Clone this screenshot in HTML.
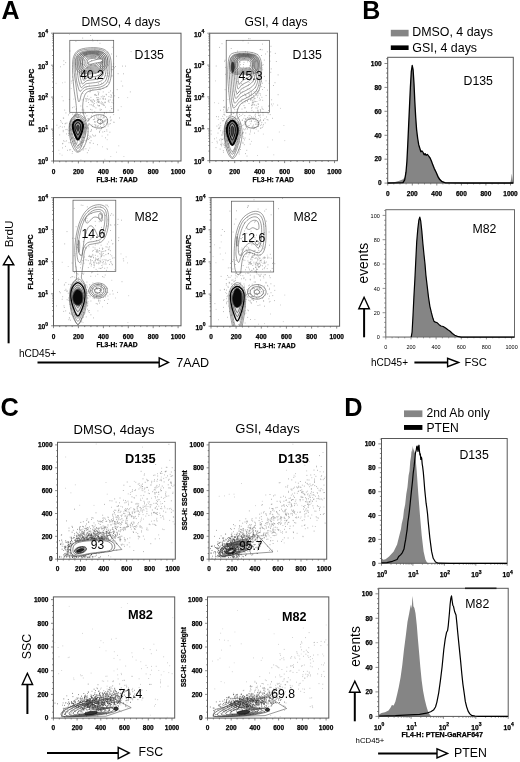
<!DOCTYPE html>
<html><head><meta charset="utf-8"><title>Figure</title>
<style>
html,body{margin:0;padding:0;background:#fff;}
body{width:520px;height:762px;overflow:hidden;font-family:"Liberation Sans",sans-serif;}
svg{display:block;font-family:"Liberation Sans",sans-serif;will-change:transform;transform:translateZ(0);-webkit-font-smoothing:antialiased;}
</style></head><body>
<svg width="520" height="762" viewBox="0 0 520 762">
<rect width="520" height="762" fill="#fff"/>
<text x="1.6" y="19" font-size="25" font-weight="bold">A</text>
<text x="362.2" y="19" font-size="25" font-weight="bold">B</text>
<text x=".6" y="416" font-size="25.3" font-weight="bold">C</text>
<text x="344.2" y="416" font-size="25.3" font-weight="bold">D</text>
<rect x="53.5" y="33.2" width="127.5" height="127.8" fill="none" stroke="#585858" stroke-width="1"/>
<text x="53.5" y="173.8" font-size="6.5" text-anchor="middle" font-weight="bold" stroke="#000" stroke-width=".25">0</text>
<text x="78.4" y="173.8" font-size="6.5" text-anchor="middle" font-weight="bold" stroke="#000" stroke-width=".25">200</text>
<text x="103.4" y="173.8" font-size="6.5" text-anchor="middle" font-weight="bold" stroke="#000" stroke-width=".25">400</text>
<text x="128.3" y="173.8" font-size="6.5" text-anchor="middle" font-weight="bold" stroke="#000" stroke-width=".25">600</text>
<text x="153.2" y="173.8" font-size="6.5" text-anchor="middle" font-weight="bold" stroke="#000" stroke-width=".25">800</text>
<text x="178.1" y="173.8" font-size="6.5" text-anchor="middle" font-weight="bold" stroke="#000" stroke-width=".25">1000</text>
<path d="M53.5 161v2.4M59.7 161v1.3M66 161v1.3M72.2 161v1.3M78.4 161v2.4M84.7 161v1.3M90.9 161v1.3M97.1 161v1.3M103.4 161v2.4M109.6 161v1.3M115.8 161v1.3M122 161v1.3M128.3 161v2.4M134.5 161v1.3M140.7 161v1.3M147 161v1.3M153.2 161v2.4M159.4 161v1.3M165.7 161v1.3M171.9 161v1.3M178.1 161v2.4" stroke="#585858" stroke-width="0.7" fill="none"/>
<text x="37.9" y="164.3" font-size="6.7" font-weight="bold" stroke="#000" stroke-width=".25">10<tspan dy="-3.1" font-size="5">0</tspan></text>
<text x="37.9" y="132.4" font-size="6.7" font-weight="bold" stroke="#000" stroke-width=".25">10<tspan dy="-3.1" font-size="5">1</tspan></text>
<text x="37.9" y="100.4" font-size="6.7" font-weight="bold" stroke="#000" stroke-width=".25">10<tspan dy="-3.1" font-size="5">2</tspan></text>
<text x="37.9" y="68.5" font-size="6.7" font-weight="bold" stroke="#000" stroke-width=".25">10<tspan dy="-3.1" font-size="5">3</tspan></text>
<text x="37.9" y="36.5" font-size="6.7" font-weight="bold" stroke="#000" stroke-width=".25">10<tspan dy="-3.1" font-size="5">4</tspan></text>
<path d="M53.5 161h-2.4M53.5 151.4h-1.3M53.5 145.8h-1.3M53.5 141.8h-1.3M53.5 138.7h-1.3M53.5 136.1h-1.3M53.5 134h-1.3M53.5 132.1h-1.3M53.5 130.5h-1.3M53.5 129.1h-2.4M53.5 119.4h-1.3M53.5 113.8h-1.3M53.5 109.8h-1.3M53.5 106.7h-1.3M53.5 104.2h-1.3M53.5 102h-1.3M53.5 100.2h-1.3M53.5 98.6h-1.3M53.5 97.1h-2.4M53.5 87.5h-1.3M53.5 81.9h-1.3M53.5 77.9h-1.3M53.5 74.8h-1.3M53.5 72.2h-1.3M53.5 70.1h-1.3M53.5 68.2h-1.3M53.5 66.6h-1.3M53.5 65.2h-2.4M53.5 55.5h-1.3M53.5 49.9h-1.3M53.5 45.9h-1.3M53.5 42.8h-1.3M53.5 40.3h-1.3M53.5 38.1h-1.3M53.5 36.3h-1.3M53.5 34.7h-1.3M53.5 33.2h-2.4" stroke="#585858" stroke-width="0.7" fill="none"/>
<text x="117" y="182.4" font-size="6.7" text-anchor="middle" font-weight="bold" stroke="#000" stroke-width=".25">FL3-H: 7AAD</text>
<text x="34.5" y="97.4" font-size="6.9" text-anchor="middle" font-weight="bold" stroke="#000" stroke-width=".25" transform="rotate(-90 34.5 97.4)">FL4-H: BrdU-APC</text>
<path d="M75.1 137.1h.8M75.3 127.2h.8M70 128.4h.8M85.3 136.1h.8M84.8 134h.8M80 133.2h.8M64.5 141.3h.8M80.8 137h.8M64.3 110.1h.8M70.3 125.4h.8M79.3 130.4h.8M80.9 123.3h.8M79.3 135.7h.8M72 151.6h.8M81.2 145.4h.8M72.3 122.1h.8M74.4 129.7h.8M81.7 134h.8M73.6 119.5h.8M73.1 145.7h.8M70.9 133.9h.8M80.2 113.1h.8M77.4 146.7h.8M61.9 127.1h.8M76.2 121.2h.8M80.7 130.3h.8M66 140.9h.8M82 142.4h.8M87.8 135.3h.8M77.9 115.4h.8M81.6 123.7h.8M73.6 115.8h.8M69.7 124.6h.8M86.7 106.6h.8M66.1 133.9h.8M87.8 137.9h.8M62.8 100.8h.8M79.7 122.2h.8M68.6 142.7h.8M85.3 132.9h.8M78.8 136.2h.8M89 138.4h.8M80.9 137.6h.8M65.2 146.4h.8M84.2 137.4h.8M62.2 123.4h.8M83.3 109.3h.8M75.6 143.2h.8M67.2 150.3h.8M81.1 129.2h.8M79.4 138.8h.8M77.9 144.7h.8M72 126h.8M84.8 131.3h.8M70.4 142.4h.8M88 125.7h.8M66.7 129.4h.8M75.9 127.4h.8M87.5 118.7h.8M86.5 115.8h.8M71.1 138.6h.8M85.5 141.3h.8M79.6 132.7h.8M78.1 137.9h.8M75.7 134.3h.8M81.3 131h.8M82.7 137.8h.8M92.1 134.9h.8M73.8 126.5h.8M76.9 142.1h.8M74.5 135.6h.8M90.8 100.2h.8M68.6 133.9h.8M80 133.9h.8M73.8 138.9h.8M79.1 124.7h.8M95.2 135.3h.8M72.8 129.8h.8M75.3 130.2h.8M56.5 125.2h.8M84.6 117h.8M76.5 142.4h.8M83.4 148.9h.8M64.2 126.8h.8M74.4 138.5h.8M85.2 98.8h.8M85.2 113.6h.8M82.1 113.1h.8M78.3 145.3h.8M75.9 133.3h.8M83 132.7h.8M76.3 149.4h.8M84.9 127.5h.8M97.6 117.2h.8M83.9 127.8h.8M78 139.5h.8M78.7 138.7h.8M65.5 112.9h.8M81.6 119.4h.8M69.3 113.4h.8M86.5 140h.8M88 119.7h.8M77 117.3h.8M82.7 150.1h.8M70.3 149.7h.8M84.4 128.9h.8M62.2 147.9h.8M76.3 123.8h.8M80 135.9h.8M88.2 118.8h.8M85.5 148.8h.8M87.9 128.8h.8M71.4 143.2h.8M77.9 132.5h.8M87.7 127.8h.8M59.8 126.4h.8M63.1 140.8h.8M79.4 123.7h.8M76.9 141h.8M77.6 146.9h.8M76.5 143.5h.8M88.2 150.3h.8M72 141.6h.8M62.9 118h.8M62.3 143.8h.8M67.8 130.8h.8M75.6 130.7h.8M72.6 133.8h.8M90.4 131.5h.8M81 143h.8M75.5 115.9h.8M72.8 143.9h.8M64.7 123.8h.8M84.6 140.5h.8M77.1 140.7h.8M78.2 116.9h.8M65.3 123.3h.8M83.9 124.2h.8M70.2 121.7h.8M65.5 129.6h.8M68.2 135.4h.8M59.3 134.9h.8M72.2 107.7h.8M82.4 127.7h.8M60.3 120.5h.8M79.2 125.5h.8M82.8 140h.8M82 134.9h.8M87 138.9h.8M80.4 106h.8M83.7 146.7h.8M74.8 125.4h.8M91.6 109.9h.8M80.5 160.1h.8M70 139.3h.8M91.1 129.6h.8M81.2 141.8h.8M70.2 129.9h.8M79.2 140.9h.8M76.7 128.7h.8M69.4 126.7h.8M83.7 132.2h.8M70.6 120.9h.8M97 144.7h.8M81.8 99.9h.8M81.7 136.8h.8M89.6 136.1h.8M76.5 137.3h.8M62.4 143.4h.8M79.4 122.6h.8M86.9 152.7h.8M66.5 123h.8M79.2 133.2h.8M74 119.3h.8M92.9 143.4h.8M68 114.9h.8M89.8 142.9h.8M90.7 140.7h.8M70.5 134.1h.8M60.8 122h.8M76.6 137.3h.8M71.5 129.5h.8M80.4 135.5h.8M81.8 133.5h.8M74.6 140.5h.8M77.4 121.1h.8M72.3 131h.8M76.2 132.9h.8M77 133.1h.8M76 115.9h.8M80.2 143.6h.8M80.3 128.7h.8M80.3 119.4h.8M62.8 131.7h.8M70 139.9h.8M68.9 99.5h.8M69.2 149.9h.8M74.1 114.6h.8M71.3 137.3h.8M80.7 133.1h.8M88.1 139.5h.8M76.8 138.2h.8M89.4 142.7h.8M84.7 118h.8M75.9 139.8h.8M74.8 143.8h.8M81.5 141.9h.8M86.3 128.4h.8M74.4 141.5h.8M84.4 131.1h.8M68.2 133.3h.8M79.7 144.6h.8M82.9 131.3h.8M83.4 137.5h.8M78.5 131.7h.8M75.2 139.2h.8M69.1 123.5h.8M77 113.4h.8M73.7 106.9h.8M71.9 137.8h.8M81.2 130.3h.8M75.3 114h.8M90.7 137.2h.8M85.2 120.4h.8M75.6 109.2h.8M82.9 142.2h.8M62.8 130.4h.8M81.7 109.9h.8M63.3 118.2h.8M72.3 114.2h.8" stroke="#969696" stroke-width="0.75" fill="none"/>
<path d="M98.8 101.9h.8M103.9 105.3h.8M111.3 108.7h.8M87.3 96.2h.8M89.5 91.9h.8M97.8 100h.8M102.7 88.1h.8M88 99.8h.8M96.8 97.7h.8M98 94.3h.8M104.5 102.7h.8M97.8 95h.8M97 79.6h.8M90.2 100.3h.8M85.7 101.5h.8M99.8 89.7h.8M96.4 97.6h.8M102.4 104.6h.8M98.2 93.6h.8M97.3 99.5h.8M104.7 102.2h.8M92.4 89.8h.8M95.3 94.4h.8M89 99.1h.8M94.3 100.8h.8M102.9 96.9h.8M118.3 97.6h.8M107.9 100.9h.8M108 82.2h.8M92.1 101.9h.8M103.6 117.5h.8M101.2 109.6h.8M105 107.1h.8M102.8 98.8h.8M102.8 91.9h.8M108.5 92.4h.8M100.6 115.9h.8M96.6 100.1h.8M108.4 100.2h.8M91.6 101.9h.8M103.4 105.3h.8M91.9 113.1h.8M112.7 100.1h.8M100.8 96.8h.8M110.5 94.7h.8M104.2 96.4h.8M92.6 105.4h.8M109.8 99.9h.8M92.7 106.1h.8M98.1 102.3h.8M111.4 108.5h.8M94.1 117.1h.8M98.5 105.9h.8M93 99.7h.8M83.6 113.4h.8M110.1 90.9h.8M85.7 87.8h.8M108.5 96.6h.8M98 97.7h.8M97.5 91.8h.8M98.7 89.2h.8M97.9 102.3h.8M102.5 98.3h.8M90.8 101.2h.8M94.4 111.7h.8M105 99.1h.8M94.5 94.7h.8M90.5 97.4h.8M101 103.9h.8M103.3 115.7h.8M92.5 100.1h.8M122.3 86h.8M94.1 101.3h.8M99.8 103.1h.8M96.5 102.7h.8M98.9 105.8h.8M82.4 93.4h.8M98.5 92.3h.8M89.6 104.7h.8M93 104.8h.8M104.8 102.3h.8M102.8 99.2h.8M86.5 99.8h.8M102.4 96h.8M97.7 105.6h.8M91 104.8h.8M114.3 95.8h.8M99.7 98.9h.8M111.6 102.4h.8M106.1 94.8h.8M98.4 99.9h.8M83.4 110.8h.8M106.1 86.9h.8M104.8 99h.8M102.3 102.7h.8M85.8 98.4h.8M111.2 95.7h.8M89.8 89.8h.8M88.1 102.5h.8M112.9 103.2h.8M100.6 116.8h.8M94.1 94.9h.8M103 104.1h.8M89.9 91.2h.8M101 101.9h.8M87.4 98.5h.8M93.9 103.5h.8M97.5 99.4h.8M95.5 107.9h.8M110.3 97.2h.8M105.7 94.3h.8M99.1 105.6h.8M111.4 97.1h.8M97.9 101.5h.8M85.8 100.1h.8M92.8 102.8h.8M88.9 85.2h.8M98.8 102h.8M93.8 106.7h.8M96.2 95.5h.8" stroke="#969696" stroke-width="0.75" fill="none"/>
<path d="M103.8 112.6h.8M94.6 121.9h.8M106.8 121h.8M102.5 118.1h.8M102.4 132h.8M94.5 136.2h.8M94.8 122.1h.8M101.4 128.1h.8M90.1 109.4h.8M104.8 126.8h.8M105 137.8h.8M101.6 123.5h.8M107.4 124.2h.8M113.3 114.6h.8M97 101.3h.8M106.5 119.8h.8M107.4 134.9h.8M100 120.5h.8M96 117h.8M95 125.8h.8M100.3 122.4h.8M98.6 127.5h.8M104 121.1h.8M105.3 121.1h.8M90.8 130.7h.8M103.7 116.3h.8M108.6 124.1h.8M87.5 131.7h.8M102.7 127.3h.8M101.6 121.1h.8M87.6 127.8h.8M100.2 120.3h.8M102.8 122.5h.8M105.4 119.8h.8M99.7 109.2h.8M96.6 126.1h.8M110.7 119.8h.8M99 131.5h.8M97.4 126.4h.8M113.4 122.2h.8M109.8 117.7h.8M101.7 121.5h.8M100.9 128.8h.8M119.1 118h.8M95.4 125h.8M91.6 125h.8M104.6 120.3h.8M104.2 112.7h.8M106.1 112.7h.8M94.4 118.7h.8M96.8 127.2h.8M100.7 119.6h.8M104.3 131.5h.8M100 124.2h.8M109.9 123.6h.8M89.7 136.9h.8M117.7 110.1h.8M99.7 124.5h.8M107.7 126h.8M97.8 115.7h.8M100.8 128.2h.8M91.3 115.8h.8M99.8 110.4h.8M97.9 119.4h.8M103.6 117.8h.8M92.9 119.6h.8M99.6 118h.8M100.1 126.5h.8M109.5 132.2h.8M93.7 119.5h.8M80.1 133.4h.8M94.2 121.8h.8M104.2 113.8h.8M103.7 121.8h.8M85.4 123.8h.8M109.6 110.8h.8M106.5 123.3h.8M103.8 124.6h.8M110.4 120.7h.8M107 119.5h.8M105.8 117.1h.8M99.1 132.4h.8M103.6 121.1h.8M90.8 117.3h.8M101.5 127.6h.8M103.4 125.1h.8M99.7 130.1h.8M96.9 118.7h.8M107.1 122.4h.8M97.8 118.5h.8M97.9 125.7h.8M102.8 114.7h.8M103.4 123.1h.8M92 126.6h.8M97.8 120h.8M106.4 129.9h.8M94.5 124.6h.8M93 135.9h.8M96 129.2h.8M94.8 126.9h.8" stroke="#969696" stroke-width="0.75" fill="none"/>
<path d="M88.9 72h.8M93.7 55.6h.8M125.1 66.1h.8M72 77h.8M70.9 81.1h.8M86.9 67h.8M112.7 66.7h.8M75.5 41.3h.8M111.6 75.4h.8M83.6 77h.8M102 74.1h.8M63.4 60.8h.8M107.6 75.3h.8M97.4 71.9h.8M130.7 51.6h.8M90.4 65.5h.8M107.4 58.8h.8M111.1 54h.8M98.7 57.6h.8M97.2 55.3h.8M72.6 80.3h.8M99.2 57.2h.8M97.8 78.9h.8M81.3 63.5h.8M102.5 72.4h.8M90.3 35.5h.8M112.4 69.6h.8M95.2 61.1h.8M98.7 59h.8M80.7 54.6h.8M86.6 56.4h.8M78.8 73.9h.8M76.7 74.2h.8M80.8 69.9h.8M114.2 67.8h.8M84.8 65.7h.8M97.1 40.7h.8M86.5 67.3h.8M88.4 66.1h.8M105.3 75.7h.8M107.7 73.2h.8M91 64.7h.8M91.2 60.6h.8M92.5 40.9h.8M90.3 64.7h.8M81.4 64.7h.8M102.2 62.7h.8M92.1 39.4h.8M108.7 102.2h.8M60 66.8h.8M102.3 60.8h.8M106.9 70.2h.8M95.3 56.8h.8M103.9 58.2h.8M98.1 57.9h.8M63.5 64.6h.8M97.8 75.6h.8M82.7 64.5h.8M103.6 67h.8M112.4 92.9h.8M82.3 38.1h.8M107 86.4h.8M107.9 76.4h.8M86.3 55h.8M107.4 52.2h.8M69.6 51h.8M129.9 91.9h.8M85.4 54.8h.8M98.2 54.5h.8M113.3 63.9h.8M79.8 83.3h.8M86.8 68.1h.8M94.8 60.6h.8M99.5 55.3h.8M69.2 34.1h.8M77.3 54.4h.8M94.7 65.8h.8M102.8 66.7h.8M83.9 55.1h.8M65.3 62.6h.8M101.8 72.4h.8M93.3 62.6h.8M108.1 65.2h.8M105.3 73.2h.8M98 83.3h.8M87 60h.8M83.7 53.8h.8M116.8 89.6h.8M95.3 73h.8M111.5 76.3h.8M111.9 47.3h.8M86 71.3h.8M115.1 66.5h.8M83 60h.8M85.8 53h.8M116 56.2h.8M95.3 95.3h.8M111.6 69.7h.8M86.4 70.7h.8M117.7 73.7h.8M112.7 66.4h.8M102.2 62.2h.8M101 83.2h.8M75 64.1h.8M98.4 57h.8M90.7 76h.8M123 73.8h.8M99.6 43.3h.8M122 66.1h.8M94.5 49.3h.8" stroke="#969696" stroke-width="0.75" fill="none"/>
<path d="M110.2 116.7h.8M70.8 88.5h.8M71.3 83.1h.8M79.2 140.7h.8M106.7 148.5h.8M107.9 101.5h.8M95.9 115.3h.8M113.8 122.4h.8M73.8 132h.8M127.3 97.6h.8M120.8 81.2h.8M73.4 99.1h.8M110.4 156.5h.8M110.6 106.5h.8M120.8 106.6h.8M71.8 153.5h.8M101.7 136.1h.8M104.4 159.3h.8M89.4 148h.8M106.9 149.5h.8M86.9 138.7h.8M97.1 104.9h.8M69.7 130.4h.8M59.5 153.8h.8M64.6 82.2h.8M61.7 155.2h.8M79.9 91.5h.8M55.7 83.4h.8M106.5 131.3h.8M106.8 139.7h.8M58.5 127.8h.8M81.3 146.2h.8M116.2 152.2h.8M58.5 150.3h.8M123.5 156.5h.8M61.7 96.7h.8M62.1 82.8h.8M118.4 145.8h.8M102 146.8h.8M101.8 103.3h.8" stroke="#b5b5b5" stroke-width="0.75" fill="none"/>
<path d="M72.7 61.9C72.9 58.6 73.5 56.7 74.4 54.8C75.4 52.9 76.5 51.4 78.3 50.4C80.1 49.3 82.4 48.7 85.4 48.2C88.3 47.8 92.8 47.4 96 47.7C99.3 48 102.6 48.5 104.9 49.8C107.2 51.2 108.7 53.1 109.8 55.7C110.9 58.3 111.2 62 111.4 65.4C111.6 68.8 111.6 72.8 111.1 76C110.6 79.3 110 82.7 108.4 84.9C106.8 87 104 88.1 101.3 88.9C98.7 89.8 95 89.5 92.5 90.2C90 90.8 87.8 91.4 86.3 92.8C84.8 94.3 84.2 96.8 83.6 99C83 101.2 82.8 103.7 82.7 106.1C82.7 108.5 82.8 111.1 83.3 113.2C83.7 115.3 84.6 117.2 85.4 118.5C86.2 119.8 87.2 121.3 88.1 121.2C88.9 121 89.4 118.6 90.7 117.6C92 116.6 94.1 115.4 96 115C97.9 114.5 100.4 114.5 102.2 115C104 115.4 105.8 116.4 106.6 117.6C107.5 118.8 107.8 120.6 107.5 122C107.2 123.5 106.3 125.4 104.9 126.5C103.4 127.5 100.7 128.2 98.7 128.2C96.6 128.2 94 127.2 92.5 126.5C90.9 125.7 90.1 124 89.3 123.8C88.5 123.7 87.9 124.1 87.7 125.6C87.5 127.1 88.3 130 88.1 132.7C87.8 135.3 87.2 138.8 86.3 141.5C85.4 144.2 84.1 146.8 82.7 148.6C81.4 150.4 79.6 151.8 78.3 152.1C77 152.4 76 151.8 74.8 150.4C73.6 148.9 72.1 145.9 71.2 143.3C70.4 140.6 69.8 137.4 69.5 134.4C69.2 131.5 69 128.2 69.5 125.6C69.9 122.9 71.1 120.3 72.1 118.5C73.2 116.7 74.9 116.4 75.7 115C76.4 113.5 76.5 112 76.5 109.6C76.5 107.3 76.1 104.3 75.7 100.8C75.2 97.3 74.4 92.8 73.9 88.4C73.4 84 72.9 78.7 72.7 74.2C72.4 69.8 72.4 65.1 72.7 61.9Z" fill="none" stroke="#3c3c3c" stroke-width="0.5"/>
<path d="M73.9 61.9C74.1 58.9 74.8 56.5 75.7 54.8C76.5 53 77.6 52.1 79.2 51.2C80.8 50.4 82.6 49.9 85.4 49.5C88.2 49.1 92.9 48.7 96 48.9C99.1 49.2 101.9 49.7 104 50.9C106 52.1 107.4 53.8 108.4 56.2C109.4 58.6 109.7 62.2 109.8 65.4C110 68.6 109.8 72.2 109.3 75.1C108.8 78.1 108.1 81.1 106.6 83.1C105.2 85.1 102.8 86.2 100.4 87C98.1 87.8 95 87.6 92.5 88.1C90 88.5 87.2 88.8 85.4 89.8C83.6 90.8 82.4 92.2 81.5 94.1C80.6 95.9 80.3 99.7 79.7 100.8C79.2 101.9 78.8 102.3 78.3 100.8C77.8 99.3 77.3 94.9 76.9 91.9C76.5 89 76.1 86.3 75.7 83.1C75.2 79.9 74.5 76 74.2 72.5C74 68.9 73.7 64.8 73.9 61.9Z" fill="none" stroke="#3c3c3c" stroke-width="0.5"/>
<path d="M75.1 61.9C75.3 59.1 76.1 57.2 76.9 55.7C77.7 54.1 78.5 53.3 80.1 52.5C81.7 51.7 83.7 51.1 86.3 50.7C88.9 50.3 92.9 49.9 95.7 50.2C98.5 50.4 101.2 51 103.1 52.1C105 53.2 106.2 54.7 107 56.9C107.8 59.1 108 62.5 108.1 65.4C108.1 68.3 108 71.6 107.5 74.2C107.1 76.9 106.5 79.6 105.2 81.3C103.9 83.1 101.7 84.1 99.6 84.9C97.4 85.6 94.8 85.6 92.5 85.9C90.1 86.3 87.2 86.3 85.4 87C83.6 87.6 82.8 89.1 81.9 89.8C80.9 90.5 80.4 91.6 79.7 91.1C79.1 90.5 78.5 88.4 78 86.6C77.4 84.9 76.9 82.8 76.5 80.4C76.2 78.1 75.9 75.6 75.7 72.5C75.4 69.4 74.9 64.7 75.1 61.9Z" fill="none" stroke="#3c3c3c" stroke-width="0.5"/>
<path d="M76.9 61.5C77.1 59 77.8 57.3 78.5 56C79.3 54.6 80 53.9 81.4 53.1C82.7 52.4 84.6 51.9 86.9 51.5C89.2 51.2 92.7 50.9 95.2 51.1C97.7 51.3 100.2 51.8 101.8 52.8C103.5 53.8 104.6 55.1 105.3 57.1C106 59 106.2 62 106.2 64.6C106.3 67.2 106.2 70.1 105.8 72.5C105.3 74.9 104.9 77.2 103.7 78.8C102.5 80.4 100.6 81.3 98.7 81.9C96.8 82.6 94.5 82.6 92.4 82.9C90.3 83.2 87.7 83.3 86.1 83.8C84.5 84.4 83.8 85.8 82.9 86.4C82.1 87 81.6 87.9 81 87.5C80.5 87 79.9 85.1 79.5 83.5C79 81.9 78.5 80.1 78.2 78C77.9 75.9 77.6 73.7 77.4 70.9C77.2 68.2 76.8 64 76.9 61.5Z" fill="none" stroke="#3c3c3c" stroke-width="0.5"/>
<path d="M78.8 61.1C78.9 58.9 79.5 57.5 80.1 56.2C80.8 55 81.4 54.4 82.6 53.8C83.8 53.1 85.4 52.7 87.5 52.4C89.5 52.1 92.6 51.8 94.8 52C97 52.2 99.1 52.6 100.6 53.5C102 54.4 103 55.5 103.6 57.2C104.2 58.9 104.4 61.6 104.4 63.8C104.5 66.1 104.4 68.7 104 70.7C103.6 72.8 103.3 74.9 102.2 76.3C101.2 77.6 99.5 78.4 97.8 79C96.1 79.6 94.1 79.6 92.3 79.9C90.4 80.1 88.1 80.2 86.8 80.7C85.4 81.2 84.7 82.4 84 82.9C83.3 83.4 82.8 84.3 82.3 83.9C81.8 83.4 81.4 81.8 81 80.4C80.5 79 80.2 77.4 79.9 75.6C79.6 73.7 79.4 71.8 79.2 69.4C79 66.9 78.6 63.3 78.8 61.1Z" fill="none" stroke="#3c3c3c" stroke-width="0.5"/>
<path d="M80.6 60.7C80.7 58.8 81.2 57.6 81.8 56.5C82.3 55.5 82.8 55 83.9 54.4C84.9 53.9 86.3 53.5 88 53.2C89.8 53 92.4 52.7 94.3 52.9C96.2 53 98 53.4 99.3 54.2C100.6 54.9 101.4 55.9 101.9 57.4C102.5 58.9 102.6 61.1 102.6 63.1C102.7 65 102.6 67.2 102.3 69C101.9 70.8 101.6 72.5 100.7 73.7C99.8 74.9 98.4 75.6 96.9 76.1C95.5 76.6 93.8 76.6 92.2 76.8C90.6 77.1 88.6 77.1 87.4 77.5C86.3 78 85.7 79 85.1 79.4C84.4 79.9 84.1 80.6 83.6 80.3C83.2 79.9 82.8 78.5 82.5 77.3C82.1 76.1 81.8 74.7 81.5 73.1C81.3 71.6 81.1 69.9 80.9 67.8C80.8 65.7 80.4 62.6 80.6 60.7Z" fill="none" stroke="#3c3c3c" stroke-width="0.5"/>
<path d="M82.4 60.3C82.5 58.7 82.9 57.7 83.4 56.8C83.8 56 84.3 55.5 85.2 55C86 54.6 87.2 54.3 88.6 54.1C90.1 53.8 92.3 53.6 93.9 53.8C95.4 53.9 97 54.2 98 54.8C99.1 55.5 99.8 56.3 100.2 57.5C100.7 58.8 100.8 60.7 100.8 62.3C100.9 63.9 100.8 65.8 100.5 67.2C100.2 68.7 100 70.2 99.2 71.2C98.5 72.2 97.2 72.8 96.1 73.2C94.9 73.6 93.4 73.6 92.1 73.8C90.8 74 89.1 74 88.1 74.4C87.1 74.7 86.7 75.6 86.1 76C85.6 76.3 85.3 77 85 76.7C84.6 76.4 84.3 75.2 84 74.2C83.7 73.2 83.4 72 83.2 70.7C83 69.4 82.8 68 82.7 66.2C82.5 64.5 82.3 61.9 82.4 60.3Z" fill="none" stroke="#3c3c3c" stroke-width="0.5"/>
<path d="M75.7 65.4C75.4 63.2 75.8 60.2 76.5 58.3C77.3 56.4 78.3 55 80.1 53.9C81.9 52.8 84.5 52.4 87.2 51.9C89.8 51.5 93.4 51.1 96 51.2C98.7 51.4 101.3 51.7 103.1 52.7C104.9 53.6 106.2 55.1 107 56.9C107.8 58.7 108 61.6 107.7 63.6C107.4 65.7 106.6 67.9 105.2 69.3C103.9 70.6 101.8 71.2 99.6 71.8C97.3 72.4 94.2 72.5 91.6 72.8C88.9 73.1 85.9 73.7 83.6 73.5C81.4 73.3 79.3 72.9 78 71.6C76.6 70.2 75.9 67.6 75.7 65.4Z" fill="none" stroke="#3c3c3c" stroke-width="0.5"/>
<path d="M77.3 65C77.1 63 77.5 60.4 78.1 58.6C78.8 56.9 79.7 55.6 81.3 54.7C82.9 53.7 85.3 53.3 87.7 52.9C90.1 52.5 93.3 52.2 95.7 52.3C98.1 52.4 100.4 52.7 102 53.5C103.7 54.4 104.8 55.7 105.5 57.4C106.2 59 106.4 61.6 106.2 63.4C105.9 65.3 105.2 67.3 103.9 68.5C102.7 69.7 100.9 70.2 98.8 70.7C96.8 71.3 94.1 71.4 91.7 71.7C89.3 72 86.6 72.5 84.5 72.3C82.5 72.2 80.6 71.8 79.4 70.6C78.2 69.4 77.6 67 77.3 65Z" fill="none" stroke="#3c3c3c" stroke-width="0.5"/>
<path d="M79 64.6C78.8 62.8 79.1 60.5 79.7 59C80.3 57.4 81.2 56.3 82.6 55.4C84 54.6 86.1 54.2 88.2 53.9C90.4 53.5 93.2 53.2 95.3 53.3C97.4 53.4 99.5 53.7 101 54.4C102.4 55.2 103.5 56.4 104.1 57.8C104.7 59.3 104.9 61.6 104.7 63.2C104.4 64.9 103.8 66.6 102.7 67.7C101.6 68.8 100 69.2 98.1 69.7C96.3 70.2 93.9 70.3 91.8 70.6C89.6 70.8 87.2 71.3 85.4 71.1C83.6 71 81.9 70.7 80.9 69.6C79.8 68.5 79.2 66.4 79 64.6Z" fill="none" stroke="#3c3c3c" stroke-width="0.5"/>
<path d="M80.7 64.2C80.5 62.7 80.8 60.6 81.3 59.3C81.8 57.9 82.6 56.9 83.8 56.2C85 55.4 86.9 55.1 88.8 54.8C90.6 54.5 93.1 54.2 95 54.3C96.8 54.4 98.6 54.6 99.9 55.3C101.2 56 102.1 57 102.6 58.3C103.2 59.6 103.3 61.5 103.1 63C102.9 64.4 102.3 66 101.4 67C100.4 67.9 99 68.3 97.4 68.7C95.8 69.1 93.7 69.2 91.9 69.4C90 69.6 87.9 70.1 86.3 69.9C84.7 69.8 83.2 69.5 82.3 68.6C81.4 67.6 80.9 65.8 80.7 64.2Z" fill="none" stroke="#3c3c3c" stroke-width="0.5"/>
<path d="M82.4 63.8C82.2 62.5 82.5 60.7 82.9 59.6C83.4 58.4 84 57.6 85 56.9C86.1 56.3 87.7 56 89.3 55.8C90.9 55.5 93 55.3 94.6 55.3C96.2 55.4 97.8 55.6 98.8 56.2C99.9 56.8 100.7 57.6 101.2 58.7C101.6 59.8 101.8 61.5 101.6 62.8C101.4 64 100.9 65.4 100.1 66.2C99.3 67 98.1 67.3 96.7 67.7C95.4 68 93.5 68.1 91.9 68.3C90.4 68.5 88.5 68.8 87.2 68.7C85.8 68.6 84.6 68.4 83.8 67.6C83 66.7 82.5 65.2 82.4 63.8Z" fill="none" stroke="#3c3c3c" stroke-width="0.5"/>
<path d="M84.1 63.5C84 62.3 84.1 60.9 84.5 59.9C84.9 59 85.4 58.2 86.3 57.7C87.2 57.2 88.5 56.9 89.8 56.7C91.2 56.5 92.9 56.3 94.2 56.4C95.6 56.4 96.9 56.6 97.8 57.1C98.7 57.6 99.4 58.3 99.7 59.2C100.1 60.1 100.2 61.5 100.1 62.6C99.9 63.6 99.5 64.7 98.8 65.4C98.2 66.1 97.2 66.3 96 66.6C94.9 66.9 93.4 67 92 67.2C90.7 67.3 89.2 67.6 88.1 67.5C86.9 67.4 85.9 67.2 85.2 66.5C84.6 65.9 84.2 64.6 84.1 63.5Z" fill="none" stroke="#3c3c3c" stroke-width="0.5"/>
<path d="M85.8 63.1C85.7 62.2 85.8 61 86.1 60.2C86.4 59.5 86.8 58.9 87.5 58.5C88.2 58 89.3 57.9 90.4 57.7C91.4 57.5 92.8 57.4 93.9 57.4C95 57.4 96 57.6 96.7 58C97.5 58.3 98 58.9 98.3 59.7C98.6 60.4 98.7 61.5 98.6 62.4C98.4 63.2 98.1 64.1 97.6 64.6C97 65.2 96.2 65.4 95.3 65.6C94.4 65.8 93.2 65.9 92.1 66C91.1 66.2 89.8 66.4 88.9 66.3C88 66.2 87.2 66.1 86.7 65.5C86.1 65 85.8 63.9 85.8 63.1Z" fill="none" stroke="#3c3c3c" stroke-width="0.5"/>
<path d="M87.4 62.7C87.4 62 87.5 61.1 87.7 60.5C87.9 60 88.2 59.5 88.8 59.2C89.3 58.9 90.1 58.8 90.9 58.6C91.7 58.5 92.7 58.4 93.5 58.4C94.3 58.5 95.1 58.6 95.7 58.8C96.2 59.1 96.6 59.6 96.8 60.1C97.1 60.7 97.1 61.5 97 62.1C97 62.8 96.7 63.4 96.3 63.8C95.9 64.2 95.3 64.4 94.6 64.6C93.9 64.8 93 64.8 92.2 64.9C91.4 65 90.5 65.2 89.8 65.1C89.1 65.1 88.5 64.9 88.1 64.5C87.7 64.1 87.5 63.3 87.4 62.7Z" fill="none" stroke="#3c3c3c" stroke-width="0.5"/>
<path d="M88.1 62.7C88.6 62.1 91.4 61.1 93.4 60.4C95.3 59.8 98.3 59.1 99.9 59C101.5 59 102.7 59.6 102.7 60.1C102.8 60.6 101.7 61.7 100.3 62.2C98.8 62.7 96 62.9 94.2 63.3C92.5 63.6 91 64.4 90 64.3C89 64.2 87.5 63.4 88.1 62.7Z" fill="#fff" stroke="#3c3c3c" stroke-width="0.5"/>
<path d="M77.9 114.4C79.7 114.4 81.9 115.9 83.2 117.2C84.6 118.5 85.5 120.4 86.1 122.2C86.6 124.1 86.6 126 86.5 128.2C86.4 130.4 85.9 133 85.3 135.5C84.7 138.1 83.5 141.2 82.6 143.5C81.7 145.9 80.6 148.3 79.8 149.6C79 150.9 78.5 151.3 77.9 151.3C77.3 151.3 76.8 150.9 76 149.6C75.2 148.3 74.1 145.9 73.2 143.5C72.3 141.2 71.1 138.1 70.5 135.5C69.9 133 69.4 130.4 69.3 128.2C69.2 126 69.2 124.1 69.7 122.2C70.3 120.4 71.2 118.5 72.6 117.2C73.9 115.9 76.1 114.4 77.9 114.4Z" fill="none" stroke="#3c3c3c" stroke-width="0.5"/>
<path d="M77.9 115.9C79.5 115.9 81.4 117.2 82.6 118.4C83.8 119.5 84.6 121.2 85.1 122.8C85.6 124.4 85.6 126.1 85.5 128.1C85.4 130 85 132.2 84.4 134.5C83.8 136.7 82.9 139.5 82.1 141.5C81.3 143.6 80.3 145.7 79.6 146.9C78.9 148 78.5 148.4 77.9 148.4C77.3 148.4 76.9 148 76.2 146.9C75.5 145.7 74.5 143.6 73.7 141.5C72.9 139.5 72 136.7 71.4 134.5C70.8 132.2 70.4 130 70.3 128.1C70.2 126.1 70.2 124.4 70.7 122.8C71.2 121.2 72 119.5 73.2 118.4C74.4 117.2 76.3 115.9 77.9 115.9Z" fill="none" stroke="#3c3c3c" stroke-width="0.5"/>
<path d="M77.9 117.3C79.3 117.3 81 118.4 82 119.4C83.1 120.4 83.8 121.9 84.2 123.3C84.6 124.7 84.6 126.2 84.5 127.9C84.4 129.6 84.1 131.6 83.6 133.5C83.1 135.5 82.2 137.9 81.5 139.7C80.8 141.5 80 143.4 79.4 144.4C78.7 145.4 78.4 145.7 77.9 145.7C77.4 145.7 77.1 145.4 76.4 144.4C75.8 143.4 75 141.5 74.3 139.7C73.6 137.9 72.7 135.5 72.2 133.5C71.7 131.6 71.4 129.6 71.3 127.9C71.2 126.2 71.2 124.7 71.6 123.3C72 121.9 72.7 120.4 73.8 119.4C74.8 118.4 76.5 117.3 77.9 117.3Z" fill="none" stroke="#3c3c3c" stroke-width="0.5"/>
<path d="M77.9 119.8C79 119.8 80.3 120.5 81.1 121.2C81.9 121.8 82.4 122.7 82.7 123.6C83.1 124.6 83.1 125.5 83 126.7C82.9 127.9 82.7 129.3 82.3 130.8C81.9 132.2 81.2 133.9 80.7 135.2C80.2 136.6 79.5 137.9 79 138.6C78.6 139.4 78.3 139.6 77.9 139.6C77.5 139.6 77.2 139.4 76.8 138.6C76.3 137.9 75.6 136.6 75.1 135.2C74.6 133.9 73.9 132.2 73.5 130.8C73.1 129.3 72.9 127.9 72.8 126.7C72.7 125.5 72.7 124.6 73.1 123.6C73.4 122.7 73.9 121.8 74.7 121.2C75.5 120.5 76.8 119.8 77.9 119.8Z" fill="#777" stroke="#000" stroke-width="2.0"/>
<path d="M77.9 122.6C78.5 122.6 79.2 123.2 79.7 123.7C80.2 124.2 80.5 125 80.7 125.8C80.8 126.5 80.8 127.3 80.8 128.1C80.8 128.8 80.6 129.4 80.4 130.2C80.2 130.9 79.8 131.8 79.5 132.5C79.2 133.2 78.8 133.9 78.5 134.3C78.3 134.7 78.1 134.8 77.9 134.8C77.7 134.8 77.5 134.7 77.3 134.3C77 133.9 76.6 133.2 76.3 132.5C76 131.8 75.6 130.9 75.4 130.2C75.2 129.4 75 128.8 75 128.1C75 127.3 75 126.5 75.1 125.8C75.3 125 75.6 124.2 76.1 123.7C76.6 123.2 77.3 122.6 77.9 122.6Z" fill="#999" stroke="#000" stroke-width="1.0"/>
<path d="M77.9 125.1C78.2 125.1 78.5 125.4 78.7 125.7C78.9 125.9 79.1 126.3 79.1 126.7C79.2 127.1 79.2 127.5 79.2 127.9C79.2 128.3 79.1 128.6 79 129C78.9 129.3 78.8 129.8 78.6 130.1C78.5 130.5 78.3 130.9 78.2 131C78.1 131.2 78 131.3 77.9 131.3C77.8 131.3 77.7 131.2 77.6 131C77.5 130.9 77.3 130.5 77.2 130.1C77 129.8 76.9 129.3 76.8 129C76.7 128.6 76.6 128.3 76.6 127.9C76.6 127.5 76.6 127.1 76.7 126.7C76.7 126.3 76.9 125.9 77.1 125.7C77.3 125.4 77.6 125.1 77.9 125.1Z" fill="#444" stroke="#111" stroke-width="0.8"/>
<path d="M102.9 121.5C102.9 122 102.6 122.7 102.1 123C101.6 123.4 100.8 123.6 100.1 123.6C99.4 123.6 98.6 123.4 98.1 123C97.6 122.7 97.3 122 97.3 121.5C97.3 121 97.6 120.4 98.1 120C98.6 119.6 99.4 119.4 100.1 119.4C100.8 119.4 101.6 119.6 102.1 120C102.6 120.4 102.9 121 102.9 121.5Z" fill="none" stroke="#3c3c3c" stroke-width="0.55"/>
<rect x="69.8" y="40.3" width="43.9" height="72" fill="none" stroke="#555" stroke-width="0.7"/>
<text x="80" y="79.2" font-size="12.3">40.2</text>
<text x="134.5" y="59" font-size="12.3">D135</text>
<text x="120.9" y="26.2" font-size="12.1" text-anchor="middle">DMSO, 4 days</text>
<rect x="209.7" y="33.2" width="127.7" height="127.5" fill="none" stroke="#585858" stroke-width="1"/>
<text x="209.7" y="173.5" font-size="6.5" text-anchor="middle" font-weight="bold" stroke="#000" stroke-width=".25">0</text>
<text x="234.7" y="173.5" font-size="6.5" text-anchor="middle" font-weight="bold" stroke="#000" stroke-width=".25">200</text>
<text x="259.6" y="173.5" font-size="6.5" text-anchor="middle" font-weight="bold" stroke="#000" stroke-width=".25">400</text>
<text x="284.6" y="173.5" font-size="6.5" text-anchor="middle" font-weight="bold" stroke="#000" stroke-width=".25">600</text>
<text x="309.6" y="173.5" font-size="6.5" text-anchor="middle" font-weight="bold" stroke="#000" stroke-width=".25">800</text>
<text x="334.5" y="173.5" font-size="6.5" text-anchor="middle" font-weight="bold" stroke="#000" stroke-width=".25">1000</text>
<path d="M209.7 160.7v2.4M215.9 160.7v1.3M222.2 160.7v1.3M228.4 160.7v1.3M234.7 160.7v2.4M240.9 160.7v1.3M247.1 160.7v1.3M253.4 160.7v1.3M259.6 160.7v2.4M265.9 160.7v1.3M272.1 160.7v1.3M278.4 160.7v1.3M284.6 160.7v2.4M290.8 160.7v1.3M297.1 160.7v1.3M303.3 160.7v1.3M309.6 160.7v2.4M315.8 160.7v1.3M322 160.7v1.3M328.3 160.7v1.3M334.5 160.7v2.4" stroke="#585858" stroke-width="0.7" fill="none"/>
<text x="194.1" y="164" font-size="6.7" font-weight="bold" stroke="#000" stroke-width=".25">10<tspan dy="-3.1" font-size="5">0</tspan></text>
<text x="194.1" y="132.1" font-size="6.7" font-weight="bold" stroke="#000" stroke-width=".25">10<tspan dy="-3.1" font-size="5">1</tspan></text>
<text x="194.1" y="100.2" font-size="6.7" font-weight="bold" stroke="#000" stroke-width=".25">10<tspan dy="-3.1" font-size="5">2</tspan></text>
<text x="194.1" y="68.4" font-size="6.7" font-weight="bold" stroke="#000" stroke-width=".25">10<tspan dy="-3.1" font-size="5">3</tspan></text>
<text x="194.1" y="36.5" font-size="6.7" font-weight="bold" stroke="#000" stroke-width=".25">10<tspan dy="-3.1" font-size="5">4</tspan></text>
<path d="M209.7 160.7h-2.4M209.7 151.1h-1.3M209.7 145.5h-1.3M209.7 141.5h-1.3M209.7 138.4h-1.3M209.7 135.9h-1.3M209.7 133.8h-1.3M209.7 131.9h-1.3M209.7 130.3h-1.3M209.7 128.8h-2.4M209.7 119.2h-1.3M209.7 113.6h-1.3M209.7 109.6h-1.3M209.7 106.5h-1.3M209.7 104h-1.3M209.7 101.9h-1.3M209.7 100h-1.3M209.7 98.4h-1.3M209.7 96.9h-2.4M209.7 87.4h-1.3M209.7 81.7h-1.3M209.7 77.8h-1.3M209.7 74.7h-1.3M209.7 72.1h-1.3M209.7 70h-1.3M209.7 68.2h-1.3M209.7 66.5h-1.3M209.7 65.1h-2.4M209.7 55.5h-1.3M209.7 49.9h-1.3M209.7 45.9h-1.3M209.7 42.8h-1.3M209.7 40.3h-1.3M209.7 38.1h-1.3M209.7 36.3h-1.3M209.7 34.7h-1.3M209.7 33.2h-2.4" stroke="#585858" stroke-width="0.7" fill="none"/>
<text x="273.2" y="182.1" font-size="6.7" text-anchor="middle" font-weight="bold" stroke="#000" stroke-width=".25">FL3-H: 7AAD</text>
<text x="190.7" y="97.2" font-size="6.9" text-anchor="middle" font-weight="bold" stroke="#000" stroke-width=".25" transform="rotate(-90 190.7 97.2)">FL4-H: BrdU-APC</text>
<path d="M228.6 150.6h.8M226.5 139.8h.8M239.7 128.8h.8M237.2 118.6h.8M238.6 134.4h.8M219.1 140h.8M224.3 147.4h.8M225.9 130h.8M233.1 128h.8M232.9 125.4h.8M236 132.1h.8M232.6 99h.8M239.7 132.4h.8M217.6 133.1h.8M234.5 144.8h.8M222.9 150.6h.8M229.9 140.2h.8M228.3 118.6h.8M239.2 142.9h.8M242.5 142.3h.8M226.7 112.1h.8M226.1 123.9h.8M224.9 139h.8M233.5 128.8h.8M232.3 130.3h.8M232.6 141h.8M238.2 123.8h.8M219.7 149.1h.8M231.9 145.3h.8M218.7 128h.8M231.2 114.7h.8M227.1 140.7h.8M239.1 151.1h.8M224.5 115.2h.8M234.9 143.3h.8M232.4 116.4h.8M236.9 141.5h.8M235.2 126.2h.8M233.3 141.5h.8M226.8 109.9h.8M233.5 137.8h.8M231.1 142.7h.8M226.6 131h.8M228.7 138.9h.8M243 129h.8M246.4 150.3h.8M236.9 139h.8M244.3 129.8h.8M230.2 119.2h.8M234.5 148.1h.8M235 137.1h.8M229.5 134h.8M220.3 144.6h.8M227.9 118.7h.8M225.4 122.1h.8M237.4 144.7h.8M220.8 143.1h.8M237.7 125h.8M219.9 123.1h.8M226.2 136.1h.8M228.3 107.7h.8M232.8 113.6h.8M237.8 117.5h.8M225.8 121.7h.8M226.9 147.6h.8M237.4 139.2h.8M233.4 113.4h.8M227.1 125.4h.8M223.7 138.1h.8M225.4 123.5h.8M223.2 107.3h.8M235.5 148h.8M232.3 120.3h.8M210.7 134.1h.8M240.1 135.6h.8M238 149.7h.8M239.5 126.7h.8M238.9 141.3h.8M219.5 127.1h.8M220.3 130.7h.8M235.3 119.2h.8M215.6 147.6h.8M233.8 149.7h.8M221.1 144.7h.8M246.6 156.1h.8M229.4 135.2h.8M229.8 144h.8M238.8 133h.8M220.8 140.9h.8M227.5 139.5h.8M233 151.5h.8M239.5 126.6h.8M233.6 153.2h.8M227 137.2h.8M239.9 147.1h.8M234.9 116.2h.8M221.5 135h.8M224.5 145.7h.8M236.8 111.9h.8M224.9 134h.8M227.3 130.1h.8M234.5 122.3h.8M234.5 124.4h.8M226.9 138.4h.8M226.7 135.4h.8M243 132.3h.8M229.9 140.8h.8M228.3 145h.8M221.4 139.4h.8M227.2 122.4h.8M244.3 121.8h.8M244.2 139.9h.8M241.9 120.3h.8M240 149.5h.8M230.1 130.5h.8M249.4 134.1h.8M227.8 124.4h.8M234.3 136h.8M232.3 152.7h.8M228.5 137.7h.8M241.9 120h.8M238.8 154h.8M220.8 118.8h.8M223.2 109.8h.8M234.4 109.7h.8M234.7 149.4h.8M218.9 128.2h.8M216.6 141.3h.8M225.5 128.8h.8M231.4 138.5h.8M228.4 132.2h.8M226.9 133.4h.8M222.2 132.8h.8M216.5 126.1h.8M245.4 133h.8M221.6 135.1h.8M223.7 112.2h.8M225.5 140.8h.8M233.9 130.8h.8M224.1 119.1h.8M241.1 134.9h.8M223.9 106.7h.8M222.4 131.1h.8M232.6 130.1h.8M228.9 115.5h.8M223.1 152.3h.8M225.3 142.1h.8M218.3 128.7h.8M233 144.4h.8M222.6 139.1h.8M233.9 123.1h.8M234.6 121.2h.8M225 131.8h.8M210.6 130.7h.8M223.5 114.4h.8M227.8 141.2h.8M228 147.2h.8M222.3 116.3h.8M242.6 136.8h.8M238.1 122.1h.8M237 135.1h.8M235.9 132.3h.8M240 124.2h.8M223.8 114.3h.8M239.7 123.1h.8M223.2 120.7h.8M227.7 116.7h.8M228.8 124.5h.8M226.9 120.5h.8M231.3 126.5h.8M231.9 135h.8M233.6 105.7h.8M227 122.4h.8M236.8 113.1h.8M225.6 128.5h.8M228.5 143.9h.8M227.7 143.6h.8M220 110.3h.8M240.1 137.2h.8M234.7 133.5h.8M234.6 117.4h.8M238.1 125.6h.8M238.4 133.1h.8M216.2 116.6h.8M239.5 130.4h.8M228 134.9h.8M227.8 125.5h.8M231.8 133.7h.8M242.4 132.5h.8M245.1 153.6h.8M243.9 144.7h.8M232 133.6h.8M229.9 123.2h.8M230.5 124.3h.8M243.3 138.4h.8M227.7 109h.8M230.6 127h.8M222.9 118.4h.8M214.1 138.8h.8M230.8 130.2h.8M241.8 133.6h.8M232.3 127.5h.8M226.5 150h.8M238.5 152.6h.8M228.4 132.4h.8M224.4 143.6h.8M220.6 138.8h.8M239.2 148.9h.8M224 145.1h.8M225.6 122.9h.8M221.1 145.9h.8M243.4 124.9h.8M225.3 127.9h.8M249.8 144.1h.8M226.9 110.5h.8M226 146.2h.8M245 128.8h.8M225.8 125.9h.8M216.9 142.9h.8M222.9 144.8h.8M218.2 116.8h.8M233.2 122.8h.8M236.9 132.1h.8M222.2 139.5h.8M237.3 109h.8M244.7 138h.8M236.7 109.7h.8M225.6 127.8h.8M239.1 114.5h.8M224.4 107.6h.8M229.2 136.2h.8M218.4 124.9h.8M234.8 151h.8M236 128.4h.8M222.2 120.8h.8M226 133.8h.8M230.6 152h.8M233.2 119.1h.8M242.6 143.4h.8M231.8 123.3h.8" stroke="#969696" stroke-width="0.75" fill="none"/>
<path d="M236.1 91.8h.8M259.7 93.6h.8M240.8 101.6h.8M254.1 104.9h.8M257.6 111.3h.8M244.9 107.8h.8M243.6 105.6h.8M253.5 101.9h.8M260.2 99.9h.8M261.5 107h.8M253.2 95.5h.8M245.6 95.8h.8M250.3 99.8h.8M277.3 105.1h.8M258.5 93.1h.8M246 97.4h.8M253.6 91.7h.8M265.7 95.5h.8M261.2 81.3h.8M251.9 102.2h.8M253.6 104.8h.8M254.4 101.3h.8M235.9 94.3h.8M232.1 105h.8M254.6 98.4h.8M245 95.3h.8M267.7 113.8h.8M251.5 110.3h.8M238.5 84.5h.8M247.9 93h.8M247.2 101.5h.8M277.7 94.7h.8M252.4 102.2h.8M251.7 107.4h.8M267.1 90.1h.8M253.4 97.9h.8M255 87.7h.8M237.1 81.5h.8M256.5 101.5h.8M252.6 81.1h.8M248.8 94h.8M240 92.7h.8M257.9 104.4h.8M251.8 104.1h.8M246.9 100.6h.8M252.3 104.4h.8M251.4 98.9h.8M250.9 94.8h.8M271 104.1h.8M255.6 118.3h.8M263.9 87.5h.8M257.9 106.7h.8M268 110.5h.8M258.6 90.6h.8M244.6 102.2h.8M256.3 91.8h.8M248.7 96.8h.8M252.5 102.7h.8M249.6 90.1h.8M262.6 112.8h.8M251.1 108.2h.8M255.8 105.3h.8M256.1 93.9h.8M256.9 108.1h.8M244.4 115.7h.8M269.8 114.6h.8M268.9 105.9h.8M249.1 95.2h.8M245.1 100.9h.8M251.7 105.4h.8M234.8 118.5h.8M271.3 99.8h.8M257.7 103.8h.8M254.3 98.3h.8M251 93.4h.8M253.5 99.8h.8M254.7 93.2h.8M252.3 100.4h.8M257.1 91.5h.8M255.6 107.9h.8M257.1 97.1h.8M247.8 98.1h.8M258.2 112.4h.8M250.7 94.9h.8M255.2 101.6h.8M244.3 94.1h.8M251.1 105.4h.8M241.9 91.9h.8M256.2 90.2h.8M252.9 102.8h.8M251.1 91.9h.8M251.5 97.3h.8M254.9 93.3h.8M261.3 86.6h.8M250.5 100.1h.8M260.2 95.1h.8M256.6 95.5h.8M258.3 113.9h.8M248.6 103.5h.8M244.1 107.8h.8M262.3 100.3h.8M242.4 103.2h.8M261.8 108.7h.8M258.9 85.4h.8M246.2 111.4h.8M241.6 109.1h.8M268 106.1h.8M261.5 97.3h.8M241.6 99.2h.8M250.3 99.6h.8" stroke="#969696" stroke-width="0.75" fill="none"/>
<path d="M259.6 121.1h.8M255.5 124.5h.8M254 133.1h.8M257.5 122.5h.8M252.3 118.2h.8M264.8 122.9h.8M245.4 118.6h.8M252.9 119.3h.8M262.7 115h.8M257.9 122.9h.8M244.6 122.3h.8M253.2 125h.8M250.4 123.8h.8M240.7 115.5h.8M260.3 128.2h.8M253.9 118.4h.8M262.7 109.4h.8M247.6 126h.8M259.2 115.8h.8M238.9 130.7h.8M255.2 116.6h.8M254.4 127.4h.8M233.3 128.7h.8M259.9 109.5h.8M260.2 111.3h.8M263.1 124.4h.8M272 118.3h.8M254 128.3h.8M248.9 117.8h.8M251 121.6h.8M245.3 124.9h.8M258.3 122.4h.8M267.6 120h.8M264.5 118.7h.8M260 110.4h.8M255.6 120.9h.8M250 118.3h.8M251.2 117.7h.8M236.5 118.4h.8M249.6 118.9h.8M245.5 121.2h.8M260.3 120.5h.8M250.1 130.1h.8M261.8 127.5h.8M263.2 120h.8M253 128.7h.8M249.6 121.3h.8M257 124.2h.8M251.8 127.9h.8M252.6 126.4h.8M262.6 126h.8M259.9 115h.8M243.5 118.3h.8M257.8 131h.8M244.2 123.8h.8M247.2 117.6h.8M251.8 126.2h.8M255.7 129.1h.8M246.1 127.3h.8M261.4 122.4h.8M257.8 118.6h.8M245.3 119.6h.8M248.9 139.3h.8M250.1 131.9h.8M255.6 123.9h.8M259.9 117.3h.8M261.3 124.3h.8M241.9 125.6h.8M258.4 124.7h.8M266.7 119.5h.8M258.1 126.5h.8M246.8 129.2h.8M242.4 114.2h.8M258.2 115.5h.8M253.1 112.1h.8M254.6 115.2h.8M256.7 112.8h.8M257.6 120.4h.8M254.5 121.6h.8M255 114.1h.8M233.5 122.2h.8M246.5 119.3h.8M257.4 110.1h.8M247.9 118.3h.8M245.5 124h.8M252.9 117.1h.8M246.1 126.8h.8M248.7 125.5h.8M257.6 110.6h.8M245.3 122h.8M256.7 126.7h.8M260.4 128.2h.8M251 120.7h.8M260.2 119.4h.8M262.5 112.5h.8M259.2 121h.8M238.3 127.9h.8M256.5 122.1h.8M245.4 119.2h.8M266.1 117h.8M226.2 116.9h.8M244.4 121.2h.8M250.9 116.5h.8M247.3 128.3h.8M242.5 133.7h.8M249.6 115.4h.8M260.3 125.4h.8M245.7 126.5h.8M239.3 116.5h.8M263 120.5h.8" stroke="#969696" stroke-width="0.75" fill="none"/>
<path d="M231.8 72.2h.8M262.8 64.7h.8M224.7 60.2h.8M255.9 75.8h.8M275.9 61.5h.8M243.2 64.5h.8M266.9 51.8h.8M261.2 55.5h.8M256.4 74.6h.8M233.4 63.8h.8M253.4 73.2h.8M237 51.1h.8M223.1 100.6h.8M247.3 61.9h.8M229.1 78h.8M242.5 85.1h.8M261.9 65.3h.8M260.2 49.4h.8M245.4 56.9h.8M232.2 65.2h.8M248 85.1h.8M237.1 58.5h.8M255.9 70.7h.8M250.4 58.4h.8M256.9 70h.8M224.2 61.3h.8M230.8 48.5h.8M252.1 65.8h.8M251.6 52.7h.8M247.2 52.2h.8M255.3 74.6h.8M274.6 82.7h.8M238.7 58.6h.8M236.9 69.3h.8M277.7 74.9h.8M219.2 47.4h.8M231.9 72.2h.8M250 69.2h.8M274.9 53.4h.8M238.1 92.5h.8M254.8 54.1h.8M221.6 43.7h.8M215.8 66h.8M250.6 78.9h.8M248.1 55.3h.8M239.6 91.6h.8M225.3 67.4h.8M250.4 73.6h.8M244.3 72h.8M261.4 62.9h.8M243.6 62.4h.8M236.5 62.1h.8M245.8 67.9h.8M268.7 83.3h.8M243.8 73.4h.8M254.1 75.7h.8M250.3 68.7h.8M243.4 54h.8M262.2 83.2h.8M259.3 71.1h.8M253.7 58.7h.8M225 74.3h.8M252.8 57.2h.8M236.5 82.9h.8M224.7 89.7h.8M259 98.2h.8M240 64.7h.8M242.9 67.2h.8M247.1 54.5h.8M265 54h.8M242.9 72.8h.8M242.5 58.9h.8M255 59.9h.8M232.5 63.6h.8M246.9 88.9h.8M234.6 78.6h.8M239 60h.8M245.4 68.8h.8M262.1 89.5h.8M241.1 83.6h.8M263.9 76.4h.8M239.4 77.6h.8M248.5 69.9h.8M246.2 74.3h.8M265.6 80.8h.8M247.1 78.9h.8M270.3 51.9h.8M270.6 46.3h.8M257.6 73.3h.8M270.8 68.9h.8M243.3 53.8h.8M232.5 75.7h.8M246.7 55h.8M257.4 54.3h.8M243.9 58.6h.8M273.2 85.5h.8M247.8 43h.8M253.9 66h.8M254.9 72.9h.8M245.5 78h.8M261.7 67.9h.8M244.3 58.3h.8M259.7 49.6h.8M247.8 54.5h.8M230.5 73.5h.8M249.6 65.5h.8M262.2 44.1h.8M249.1 69h.8M261.7 49.8h.8M260 68.1h.8M269 80.9h.8M257.7 95.1h.8M250 59.1h.8M245.2 51.8h.8M249.6 38.7h.8M248.8 71h.8M263.9 60.1h.8M269.4 55.9h.8M248.1 38.7h.8M239.3 53.9h.8M270.4 72.3h.8M234.9 72.3h.8M256.6 61.8h.8M250.3 60.8h.8M242.6 40.8h.8M248.8 82.6h.8M269.6 61.2h.8M239.8 62.1h.8M262.3 69.8h.8M242 69.9h.8" stroke="#969696" stroke-width="0.75" fill="none"/>
<path d="M233.1 91h.8M262.9 134.1h.8M227.6 99.5h.8M248.5 115.9h.8M280.2 108.4h.8M232.2 151.4h.8M220.4 125.5h.8M234.8 145.8h.8M251 141.4h.8M222.4 133.8h.8M254.8 117.2h.8M267.4 147.1h.8M218.3 103.3h.8M236.8 96.7h.8M214.2 102.7h.8M224.5 136.6h.8M243.4 89.1h.8M234.1 117.8h.8M237 93.6h.8M215.1 80.9h.8M284.4 140.6h.8M216 137.9h.8M283.5 125.5h.8M217.9 119.5h.8M242.4 95.3h.8M250.6 80.7h.8M278.9 132h.8M257 155.5h.8M258.8 100.3h.8M228.2 91.2h.8M211.8 142.5h.8M272.9 103.9h.8M223.7 131.5h.8M273.4 154.8h.8M222.4 143.3h.8M272.2 139.9h.8M234.3 94.9h.8M271.8 105.8h.8M237.4 124.5h.8M237.5 147.1h.8" stroke="#b5b5b5" stroke-width="0.75" fill="none"/>
<path d="M228 65.4C228.2 62.7 228.3 60.2 228.9 58.3C229.5 56.4 229.9 54.9 231.5 53.9C233.2 52.9 235.7 52.4 238.6 52.1C241.6 51.8 246.2 51.7 249.2 52.1C252.3 52.5 255.3 53.1 257.2 54.4C259.1 55.8 260 57.4 260.8 60.1C261.5 62.8 261.6 66.9 261.6 70.7C261.6 74.5 261.3 79.6 260.8 83.1C260.2 86.6 259.4 89.6 258.1 91.9C256.8 94.3 254.9 95.8 252.8 97.3C250.7 98.7 247.8 99.6 245.7 100.8C243.6 102 241.7 102.9 240.4 104.3C239.1 105.8 238.3 107.9 237.7 109.6C237.2 111.4 236.6 113.2 236.9 115C237.2 116.7 238.8 118.5 239.5 120.3C240.3 122 240.8 123.2 241.3 125.6C241.7 127.9 242.3 131.2 242.2 134.4C242 137.7 241.3 141.8 240.4 145C239.5 148.3 238 151.7 236.9 153.9C235.7 156.1 234.5 157.9 233.3 158.3C232.1 158.8 231 158.2 229.8 156.5C228.6 154.9 227.1 151.7 226.2 148.6C225.4 145.5 224.7 141.5 224.5 138C224.2 134.4 224.4 130.4 224.8 127.3C225.3 124.2 226.2 121.3 227.1 119.4C228.1 117.5 230 117.5 230.7 115.8C231.3 114.2 231.3 112.2 231.2 109.6C231 107.1 230.3 104.6 229.8 100.8C229.3 97 228.7 91.1 228.4 86.6C228 82.2 227.7 77.8 227.7 74.2C227.6 70.7 227.8 68.1 228 65.4Z" fill="none" stroke="#3c3c3c" stroke-width="0.5"/>
<path d="M229.4 65.4C229.6 62.9 229.7 60.9 230.3 59.2C230.9 57.5 231.5 56.3 233 55.3C234.4 54.4 236.3 53.8 239 53.5C241.6 53.2 246 53.2 248.9 53.5C251.8 53.9 254.6 54.4 256.3 55.7C258.1 56.9 258.9 58.5 259.5 61C260.2 63.5 260.3 67.2 260.2 70.7C260.2 74.2 259.9 79 259.3 82.2C258.7 85.5 258 88 256.7 90.2C255.4 92.3 253.3 93.7 251.4 95.1C249.4 96.5 246.8 97.6 244.8 98.7C242.8 99.8 241 100.4 239.5 101.7C238 102.9 237 105.1 236 106.1C234.9 107.1 234.1 108.8 233.3 107.9C232.6 107 232.1 104.3 231.5 100.8C231 97.3 230.5 91.1 230.1 86.6C229.8 82.2 229.5 77.8 229.4 74.2C229.3 70.7 229.3 67.9 229.4 65.4Z" fill="none" stroke="#3c3c3c" stroke-width="0.5"/>
<path d="M231 64.9C231.1 62.6 231.2 60.8 231.8 59.3C232.3 57.8 232.8 56.6 234.2 55.8C235.5 54.9 237.2 54.5 239.6 54.2C242 53.9 245.9 53.9 248.5 54.2C251.1 54.5 253.6 55 255.2 56.1C256.8 57.2 257.5 58.6 258 60.9C258.6 63.1 258.7 66.5 258.7 69.6C258.7 72.8 258.4 77.1 257.9 80C257.4 82.9 256.7 85.2 255.5 87.2C254.3 89.1 252.5 90.4 250.7 91.6C248.9 92.9 246.6 93.8 244.8 94.8C243 95.8 241.4 96.4 240 97.5C238.7 98.6 237.8 100.6 236.9 101.5C235.9 102.4 235.1 103.9 234.5 103.1C233.8 102.3 233.4 99.9 232.9 96.7C232.4 93.5 231.9 88 231.6 84C231.3 80 231.1 76 231 72.8C230.9 69.6 230.8 67.1 231 64.9Z" fill="none" stroke="#3c3c3c" stroke-width="0.5"/>
<path d="M232.5 64.3C232.6 62.3 232.7 60.7 233.2 59.4C233.7 58 234.2 57 235.3 56.3C236.5 55.5 238 55.1 240.2 54.8C242.3 54.6 245.8 54.6 248.1 54.8C250.4 55.1 252.6 55.6 254 56.5C255.4 57.5 256.1 58.8 256.6 60.8C257.1 62.8 257.2 65.8 257.1 68.6C257.1 71.4 256.9 75.2 256.4 77.8C256 80.4 255.4 82.4 254.3 84.2C253.2 85.9 251.6 87 250.1 88.1C248.5 89.3 246.4 90.1 244.8 91C243.2 91.8 241.8 92.4 240.6 93.4C239.4 94.4 238.6 96.1 237.7 96.9C236.9 97.7 236.2 99 235.6 98.3C235 97.6 234.6 95.5 234.2 92.7C233.8 89.8 233.4 84.9 233.1 81.3C232.8 77.8 232.6 74.2 232.5 71.4C232.4 68.6 232.4 66.3 232.5 64.3Z" fill="none" stroke="#3c3c3c" stroke-width="0.5"/>
<path d="M234 63.8C234.1 62.1 234.3 60.6 234.7 59.5C235.1 58.3 235.5 57.4 236.5 56.7C237.5 56.1 238.9 55.7 240.7 55.5C242.6 55.3 245.6 55.3 247.7 55.5C249.7 55.8 251.6 56.1 252.9 57C254.1 57.9 254.7 59 255.1 60.7C255.6 62.5 255.6 65 255.6 67.5C255.6 70 255.4 73.3 255 75.6C254.6 77.8 254.1 79.6 253.1 81.2C252.2 82.7 250.8 83.6 249.4 84.6C248 85.6 246.2 86.3 244.8 87.1C243.4 87.9 242.1 88.3 241.1 89.2C240.1 90.1 239.4 91.6 238.6 92.3C237.9 93 237.3 94.2 236.8 93.5C236.3 92.9 235.9 91.1 235.5 88.6C235.2 86.1 234.8 81.8 234.5 78.7C234.3 75.6 234.1 72.5 234 70C234 67.5 233.9 65.6 234 63.8Z" fill="none" stroke="#3c3c3c" stroke-width="0.5"/>
<path d="M235.6 63.3C235.7 61.8 235.8 60.6 236.1 59.6C236.5 58.5 236.8 57.8 237.7 57.2C238.6 56.7 239.7 56.3 241.3 56.2C242.9 56 245.5 55.9 247.3 56.2C249 56.4 250.7 56.7 251.7 57.4C252.8 58.2 253.2 59.1 253.6 60.6C254 62.1 254.1 64.3 254.1 66.5C254 68.6 253.9 71.4 253.5 73.4C253.2 75.3 252.7 76.8 251.9 78.1C251.1 79.4 249.9 80.3 248.8 81.1C247.6 82 246 82.6 244.8 83.2C243.6 83.9 242.5 84.3 241.6 85C240.8 85.8 240.1 87.1 239.5 87.7C238.9 88.3 238.4 89.3 237.9 88.8C237.5 88.2 237.2 86.6 236.9 84.5C236.5 82.4 236.2 78.7 236 76C235.8 73.4 235.7 70.7 235.6 68.6C235.5 66.5 235.5 64.8 235.6 63.3Z" fill="none" stroke="#3c3c3c" stroke-width="0.5"/>
<path d="M237.1 62.7C237.2 61.5 237.3 60.5 237.6 59.6C237.9 58.8 238.2 58.2 238.9 57.7C239.6 57.2 240.6 57 241.9 56.8C243.2 56.7 245.4 56.6 246.9 56.8C248.3 57 249.7 57.3 250.6 57.9C251.5 58.5 251.8 59.3 252.2 60.5C252.5 61.8 252.5 63.6 252.5 65.4C252.5 67.2 252.4 69.5 252.1 71.2C251.8 72.8 251.4 74.1 250.8 75.1C250.1 76.2 249.1 76.9 248.1 77.6C247.1 78.3 245.8 78.8 244.8 79.4C243.8 79.9 242.9 80.3 242.2 80.9C241.4 81.5 240.9 82.6 240.4 83.1C239.9 83.6 239.4 84.4 239.1 84C238.7 83.5 238.5 82.2 238.2 80.4C237.9 78.7 237.7 75.6 237.5 73.4C237.3 71.2 237.2 68.9 237.1 67.2C237.1 65.4 237.1 64 237.1 62.7Z" fill="none" stroke="#3c3c3c" stroke-width="0.5"/>
<path d="M229.8 66.3C229.7 64.1 230 61 230.7 59.2C231.3 57.4 232.2 56.5 233.7 55.7C235.1 54.8 237 54.5 239.5 54.2C242.1 54 246.2 53.9 248.9 54.2C251.6 54.6 254.3 55.1 256 56.2C257.7 57.3 258.5 59 259 61C259.5 62.9 259.5 66.1 259.2 68.1C258.8 70 258.2 71.4 256.7 72.5C255.2 73.5 252.6 73.9 250.1 74.2C247.7 74.6 244.7 74.6 242.2 74.6C239.7 74.6 236.9 74.7 235.1 74.2C233.3 73.8 232.1 73.5 231.2 72.1C230.3 70.8 229.9 68.4 229.8 66.3Z" fill="none" stroke="#3c3c3c" stroke-width="0.5"/>
<path d="M231.3 66.1C231.2 64.1 231.5 61.3 232.1 59.7C232.7 58.1 233.5 57.2 234.8 56.5C236.1 55.8 237.8 55.4 240 55.2C242.3 55 246 54.9 248.5 55.2C251 55.5 253.3 56 254.9 57C256.4 58 257.1 59.5 257.6 61.3C258 63.1 258.1 65.9 257.7 67.6C257.4 69.4 256.8 70.7 255.5 71.6C254.1 72.6 251.8 72.9 249.6 73.2C247.4 73.5 244.7 73.5 242.4 73.5C240.2 73.5 237.7 73.6 236.1 73.2C234.4 72.8 233.4 72.5 232.6 71.3C231.8 70.1 231.4 68 231.3 66.1Z" fill="none" stroke="#3c3c3c" stroke-width="0.5"/>
<path d="M232.8 65.8C232.7 64.1 233 61.6 233.5 60.2C234 58.7 234.7 58 235.9 57.3C237.1 56.7 238.5 56.4 240.6 56.2C242.6 56 245.9 55.9 248.1 56.2C250.3 56.5 252.4 56.9 253.7 57.8C255.1 58.6 255.7 60 256.2 61.6C256.6 63.2 256.6 65.7 256.3 67.2C256 68.8 255.5 70 254.3 70.8C253.1 71.6 251 71.9 249.1 72.2C247.1 72.5 244.7 72.5 242.7 72.5C240.7 72.5 238.5 72.5 237 72.2C235.6 71.9 234.6 71.6 233.9 70.5C233.2 69.4 232.9 67.5 232.8 65.8Z" fill="none" stroke="#3c3c3c" stroke-width="0.5"/>
<path d="M234.3 65.6C234.2 64.1 234.5 61.9 234.9 60.6C235.4 59.4 236 58.7 237 58.2C238.1 57.6 239.3 57.3 241.1 57.2C242.9 57 245.8 56.9 247.7 57.2C249.6 57.4 251.5 57.7 252.6 58.5C253.8 59.3 254.4 60.5 254.7 61.9C255.1 63.3 255.1 65.5 254.9 66.8C254.6 68.2 254.2 69.2 253.1 69.9C252.1 70.7 250.2 70.9 248.5 71.2C246.8 71.4 244.7 71.4 243 71.4C241.2 71.4 239.3 71.5 238 71.2C236.7 70.9 235.9 70.6 235.3 69.7C234.7 68.8 234.4 67.1 234.3 65.6Z" fill="none" stroke="#3c3c3c" stroke-width="0.5"/>
<path d="M235.8 65.4C235.7 64.1 235.9 62.2 236.3 61.1C236.7 60.1 237.2 59.5 238.1 59C239 58.5 240.1 58.3 241.6 58.1C243.2 58 245.6 57.9 247.3 58.1C248.9 58.3 250.5 58.6 251.5 59.3C252.5 60 253 61 253.3 62.2C253.6 63.4 253.7 65.3 253.4 66.4C253.2 67.6 252.8 68.5 251.9 69.1C251 69.7 249.5 69.9 248 70.1C246.6 70.4 244.7 70.4 243.2 70.4C241.7 70.4 240.1 70.4 239 70.1C237.9 69.9 237.2 69.7 236.6 68.9C236.1 68.1 235.8 66.7 235.8 65.4Z" fill="none" stroke="#3c3c3c" stroke-width="0.5"/>
<path d="M237.3 65.1C237.3 64.1 237.4 62.5 237.7 61.6C238.1 60.7 238.5 60.2 239.2 59.8C240 59.4 240.9 59.2 242.2 59.1C243.4 59 245.5 59 246.9 59.1C248.2 59.3 249.6 59.5 250.4 60.1C251.2 60.6 251.6 61.5 251.9 62.5C252.2 63.5 252.2 65.1 252 66C251.8 67 251.5 67.7 250.8 68.2C250 68.7 248.7 68.9 247.5 69.1C246.3 69.3 244.7 69.3 243.5 69.3C242.2 69.3 240.9 69.3 240 69.1C239 68.9 238.5 68.7 238 68.1C237.6 67.4 237.3 66.2 237.3 65.1Z" fill="none" stroke="#3c3c3c" stroke-width="0.5"/>
<path d="M238.8 64.9C238.8 64 238.9 62.8 239.2 62.1C239.4 61.4 239.8 61 240.4 60.7C241 60.3 241.7 60.2 242.7 60.1C243.7 60 245.4 60 246.5 60.1C247.5 60.2 248.6 60.4 249.3 60.9C250 61.3 250.3 62 250.5 62.8C250.7 63.6 250.7 64.8 250.6 65.6C250.4 66.4 250.2 67 249.6 67.4C249 67.8 247.9 67.9 246.9 68.1C246 68.2 244.8 68.2 243.8 68.2C242.8 68.2 241.7 68.3 240.9 68.1C240.2 67.9 239.7 67.8 239.4 67.2C239 66.7 238.8 65.8 238.8 64.9Z" fill="none" stroke="#3c3c3c" stroke-width="0.5"/>
<path d="M234.4 67.2C234.4 68.4 234.2 70 233.9 70.9C233.6 71.8 233.2 72.5 232.8 72.5C232.4 72.5 231.9 71.8 231.7 70.9C231.4 70 231.2 68.4 231.2 67.2C231.2 65.9 231.4 64.3 231.7 63.4C231.9 62.5 232.4 61.9 232.8 61.9C233.2 61.9 233.6 62.5 233.9 63.4C234.2 64.3 234.4 65.9 234.4 67.2Z" fill="#333" stroke="#222" stroke-width="0.5"/>
<path d="M258.1 65.4C258.1 66.5 257.9 67.9 257.6 68.7C257.3 69.4 256.7 70 256.3 70C255.9 70 255.4 69.4 255.1 68.7C254.8 67.9 254.6 66.5 254.6 65.4C254.6 64.3 254.8 62.9 255.1 62.1C255.4 61.4 255.9 60.8 256.3 60.8C256.7 60.8 257.3 61.4 257.6 62.1C257.9 62.9 258.1 64.3 258.1 65.4Z" fill="#aaa" stroke="#666" stroke-width="0.5"/>
<path d="M232.3 116.7C234 116.7 236 118.4 237.3 120C238.6 121.5 239.5 123.7 240 125.9C240.5 128 240.5 130.3 240.4 132.8C240.3 135.2 239.9 137.8 239.3 140.6C238.7 143.3 237.6 146.6 236.8 149.1C235.9 151.6 234.8 154.2 234.1 155.6C233.3 157 232.9 157.4 232.3 157.4C231.7 157.4 231.3 157 230.5 155.6C229.8 154.2 228.7 151.6 227.8 149.1C227 146.6 225.9 143.3 225.3 140.6C224.7 137.8 224.3 135.2 224.2 132.8C224.1 130.3 224.1 128 224.6 125.9C225.1 123.7 226 121.5 227.3 120C228.6 118.4 230.6 116.7 232.3 116.7Z" fill="none" stroke="#3c3c3c" stroke-width="0.5"/>
<path d="M232.3 118.5C233.8 118.5 235.6 120 236.7 121.3C237.8 122.7 238.6 124.7 239.1 126.6C239.5 128.4 239.5 130.5 239.4 132.6C239.3 134.8 239 137.1 238.4 139.5C237.9 141.9 237 144.8 236.2 147C235.5 149.2 234.5 151.5 233.9 152.7C233.2 153.9 232.8 154.3 232.3 154.3C231.8 154.3 231.4 153.9 230.7 152.7C230.1 151.5 229.1 149.2 228.4 147C227.6 144.8 226.7 141.9 226.2 139.5C225.6 137.1 225.3 134.8 225.2 132.6C225.1 130.5 225.1 128.4 225.5 126.6C226 124.7 226.8 122.7 227.9 121.3C229 120 230.8 118.5 232.3 118.5Z" fill="none" stroke="#3c3c3c" stroke-width="0.5"/>
<path d="M232.3 120.1C233.6 120.1 235.2 121.4 236.2 122.6C237.2 123.8 237.8 125.5 238.2 127.2C238.6 128.8 238.6 130.6 238.5 132.5C238.4 134.4 238.1 136.4 237.7 138.5C237.2 140.6 236.4 143.1 235.7 145.1C235.1 147 234.2 149 233.7 150C233.1 151.1 232.8 151.4 232.3 151.4C231.8 151.4 231.5 151.1 230.9 150C230.4 149 229.5 147 228.9 145.1C228.2 143.1 227.4 140.6 226.9 138.5C226.5 136.4 226.2 134.4 226.1 132.5C226 130.6 226 128.8 226.4 127.2C226.8 125.5 227.4 123.8 228.4 122.6C229.4 121.4 231 120.1 232.3 120.1Z" fill="none" stroke="#3c3c3c" stroke-width="0.5"/>
<path d="M232.3 120.6C233.4 120.6 234.8 121.8 235.6 122.8C236.5 123.8 237.1 125.3 237.4 126.7C237.8 128.1 237.8 129.8 237.7 131.2C237.6 132.7 237.3 134.1 236.9 135.6C236.5 137.1 235.8 139 235.3 140.4C234.7 141.8 234 143.2 233.5 144C233 144.8 232.7 145 232.3 145C231.9 145 231.6 144.8 231.1 144C230.6 143.2 229.9 141.8 229.3 140.4C228.8 139 228.1 137.1 227.7 135.6C227.3 134.1 227 132.7 226.9 131.2C226.8 129.8 226.8 128.1 227.2 126.7C227.5 125.3 228.1 123.8 229 122.8C229.8 121.8 231.2 120.6 232.3 120.6Z" fill="#777" stroke="#000" stroke-width="2.0"/>
<path d="M232.3 123.5C232.9 123.5 233.7 124.3 234.2 125.1C234.6 125.8 235 127 235.2 128C235.3 129 235.3 130.2 235.3 131.2C235.3 132.2 235.1 133 234.9 134C234.7 135 234.3 136.1 234 137C233.6 137.9 233.2 138.9 233 139.4C232.7 139.8 232.5 140 232.3 140C232.1 140 231.9 139.8 231.6 139.4C231.4 138.9 231 137.9 230.7 137C230.3 136.1 229.9 135 229.7 134C229.5 133 229.3 132.2 229.3 131.2C229.3 130.2 229.3 129 229.5 128C229.6 127 230 125.8 230.4 125.1C230.9 124.3 231.7 123.5 232.3 123.5Z" fill="#999" stroke="#000" stroke-width="1.0"/>
<path d="M232.3 126C232.6 126 232.9 126.6 233.1 127C233.4 127.5 233.5 128.3 233.6 128.9C233.7 129.6 233.7 130.4 233.7 131C233.6 131.7 233.6 132.2 233.5 132.8C233.4 133.4 233.2 134.1 233 134.7C232.9 135.2 232.7 135.8 232.6 136.1C232.5 136.4 232.4 136.5 232.3 136.5C232.2 136.5 232.1 136.4 232 136.1C231.9 135.8 231.7 135.2 231.6 134.7C231.4 134.1 231.2 133.4 231.1 132.8C231 132.2 231 131.7 231 131C230.9 130.4 230.9 129.6 231 128.9C231.1 128.3 231.2 127.5 231.5 127C231.7 126.6 232 126 232.3 126Z" fill="#444" stroke="#111" stroke-width="0.8"/>
<path d="M258.8 123.5C258.8 124.4 258.5 125.6 257.7 126.3C256.9 127.1 255.4 127.6 254.1 127.9C252.8 128.1 251.3 128.1 250.1 127.9C248.8 127.6 247.4 127 246.7 126.3C245.9 125.5 245.5 124.4 245.5 123.5C245.5 122.5 245.8 121.3 246.6 120.6C247.3 119.9 248.8 119.3 250.1 119C251.3 118.7 252.9 118.6 254.2 118.8C255.5 119.1 256.9 119.8 257.6 120.6C258.4 121.4 258.8 122.5 258.8 123.5Z" fill="none" stroke="#3c3c3c" stroke-width="0.6"/>
<rect x="226.2" y="40.3" width="43.4" height="72" fill="none" stroke="#555" stroke-width="0.7"/>
<text x="238.6" y="79.5" font-size="12.3">45.3</text>
<text x="292.5" y="59" font-size="12.3">D135</text>
<text x="276" y="26.2" font-size="12.1" text-anchor="middle">GSI, 4 days</text>
<rect x="53.5" y="197.6" width="127.5" height="128.2" fill="none" stroke="#585858" stroke-width="1"/>
<text x="53.5" y="338.6" font-size="6.5" text-anchor="middle" font-weight="bold" stroke="#000" stroke-width=".25">0</text>
<text x="78.4" y="338.6" font-size="6.5" text-anchor="middle" font-weight="bold" stroke="#000" stroke-width=".25">200</text>
<text x="103.4" y="338.6" font-size="6.5" text-anchor="middle" font-weight="bold" stroke="#000" stroke-width=".25">400</text>
<text x="128.3" y="338.6" font-size="6.5" text-anchor="middle" font-weight="bold" stroke="#000" stroke-width=".25">600</text>
<text x="153.2" y="338.6" font-size="6.5" text-anchor="middle" font-weight="bold" stroke="#000" stroke-width=".25">800</text>
<text x="178.1" y="338.6" font-size="6.5" text-anchor="middle" font-weight="bold" stroke="#000" stroke-width=".25">1000</text>
<path d="M53.5 325.8v2.4M59.7 325.8v1.3M66 325.8v1.3M72.2 325.8v1.3M78.4 325.8v2.4M84.7 325.8v1.3M90.9 325.8v1.3M97.1 325.8v1.3M103.4 325.8v2.4M109.6 325.8v1.3M115.8 325.8v1.3M122 325.8v1.3M128.3 325.8v2.4M134.5 325.8v1.3M140.7 325.8v1.3M147 325.8v1.3M153.2 325.8v2.4M159.4 325.8v1.3M165.7 325.8v1.3M171.9 325.8v1.3M178.1 325.8v2.4" stroke="#585858" stroke-width="0.7" fill="none"/>
<text x="37.9" y="329.1" font-size="6.7" font-weight="bold" stroke="#000" stroke-width=".25">10<tspan dy="-3.1" font-size="5">0</tspan></text>
<text x="37.9" y="297.1" font-size="6.7" font-weight="bold" stroke="#000" stroke-width=".25">10<tspan dy="-3.1" font-size="5">1</tspan></text>
<text x="37.9" y="265" font-size="6.7" font-weight="bold" stroke="#000" stroke-width=".25">10<tspan dy="-3.1" font-size="5">2</tspan></text>
<text x="37.9" y="233" font-size="6.7" font-weight="bold" stroke="#000" stroke-width=".25">10<tspan dy="-3.1" font-size="5">3</tspan></text>
<text x="37.9" y="200.9" font-size="6.7" font-weight="bold" stroke="#000" stroke-width=".25">10<tspan dy="-3.1" font-size="5">4</tspan></text>
<path d="M53.5 325.8h-2.4M53.5 316.2h-1.3M53.5 310.5h-1.3M53.5 306.5h-1.3M53.5 303.4h-1.3M53.5 300.9h-1.3M53.5 298.7h-1.3M53.5 296.9h-1.3M53.5 295.2h-1.3M53.5 293.8h-2.4M53.5 284.1h-1.3M53.5 278.5h-1.3M53.5 274.5h-1.3M53.5 271.3h-1.3M53.5 268.8h-1.3M53.5 266.7h-1.3M53.5 264.8h-1.3M53.5 263.2h-1.3M53.5 261.7h-2.4M53.5 252.1h-1.3M53.5 246.4h-1.3M53.5 242.4h-1.3M53.5 239.3h-1.3M53.5 236.8h-1.3M53.5 234.6h-1.3M53.5 232.8h-1.3M53.5 231.1h-1.3M53.5 229.7h-2.4M53.5 220h-1.3M53.5 214.4h-1.3M53.5 210.4h-1.3M53.5 207.2h-1.3M53.5 204.7h-1.3M53.5 202.6h-1.3M53.5 200.7h-1.3M53.5 199.1h-1.3M53.5 197.6h-2.4" stroke="#585858" stroke-width="0.7" fill="none"/>
<text x="117" y="347.2" font-size="6.7" text-anchor="middle" font-weight="bold" stroke="#000" stroke-width=".25">FL3-H: 7AAD</text>
<text x="33.2" y="262" font-size="6.9" text-anchor="middle" font-weight="bold" stroke="#000" stroke-width=".25" transform="rotate(-90 33.2 262)">FL4-H: BrdUAPC</text>
<path d="M79.3 284.7h.8M75.2 314.3h.8M69.7 295.8h.8M73.2 307.9h.8M70.4 277.6h.8M81.2 292.9h.8M75.2 309.5h.8M71.1 292.7h.8M78.6 301.8h.8M73.8 308.9h.8M93.6 292.3h.8M91 272.7h.8M87.6 293h.8M78.5 293.1h.8M72.9 282.3h.8M74.7 311.9h.8M85.7 293h.8M73.7 288.9h.8M68.9 317.8h.8M82.3 298.4h.8M74 285.2h.8M87 306h.8M70.6 308.4h.8M69.5 304.4h.8M70.6 292.2h.8M81.1 302h.8M84.8 287.4h.8M88.9 312.5h.8M77.4 302.4h.8M71.9 295.2h.8M68 298h.8M78.9 312.5h.8M84.3 306.4h.8M74.9 294.4h.8M75 299.6h.8M63.6 305.9h.8M66.2 291.1h.8M77.7 291.1h.8M89.5 295.9h.8M88.8 310.5h.8M73.9 301.6h.8M86.8 293.2h.8M78.1 290.6h.8M77.9 292.9h.8M78.1 308.5h.8M87.5 298.5h.8M79 306.9h.8M75.4 284.8h.8M85.5 286.2h.8M84.2 285.9h.8M90.7 285h.8M83.6 314.3h.8M70.6 314.1h.8M71.6 276.7h.8M82.7 305.1h.8M76 267.9h.8M77.1 293.5h.8M74.8 293.7h.8M64.6 290.5h.8M90.5 314.8h.8M74.9 288.8h.8M80.4 309.2h.8M82.7 283.5h.8M78.7 298.6h.8M87.9 310.8h.8M81.3 311h.8M74.7 314.7h.8M74.4 301.6h.8M84.1 286.5h.8M72.4 276.7h.8M78.7 296.4h.8M75.1 302.7h.8M62.3 296.7h.8M78.1 293.9h.8M83.2 317.2h.8M74.3 286.2h.8M73.1 298.1h.8M81.7 287.1h.8M84.7 285.2h.8M83.5 301.9h.8M80.8 321.9h.8M75.6 295.1h.8M80.9 306.9h.8M67.9 300.2h.8M72.2 304.3h.8M87.4 297.6h.8M76.7 299.1h.8M56.2 305.9h.8M81.5 298.9h.8M74.6 288.6h.8M76.2 311h.8M76.8 312.5h.8M59 291.7h.8M79.5 296.8h.8M65.5 289.3h.8M86.5 282.1h.8M70.4 284.4h.8M73.5 304.4h.8M81.8 273.6h.8M88 290.2h.8M73.3 316.2h.8M76.9 282.7h.8M72.9 288.6h.8M70.2 293.2h.8M83.8 301h.8M70.4 298.3h.8M77.7 305.8h.8M75.1 302.3h.8M92.7 298.1h.8M69.7 300.8h.8M71.7 292.7h.8M78.9 300.9h.8M75.5 306.8h.8M76.1 282h.8M83.8 292.8h.8M86.2 289.5h.8M81.6 300.6h.8M58.1 279.8h.8M69.4 313.2h.8M63.9 307.5h.8M85.4 302.7h.8M82.4 291.3h.8M77.4 299.6h.8M80.5 305.1h.8M76 288.9h.8M73.5 301.7h.8M65.5 282.6h.8M74.5 290.6h.8M75.6 266.3h.8M75 294.1h.8M83.1 274.2h.8M75.3 302.5h.8M81 310.8h.8M85.1 284.9h.8M82.1 293.1h.8M71.7 314.7h.8M73 287.2h.8M74.6 287.2h.8M84.8 301.4h.8M87.6 301.7h.8M73.1 309.1h.8M72.8 291.7h.8M76.3 297.5h.8M86.1 290h.8M80 296.7h.8M68.4 284.4h.8M75.9 301.7h.8M79.8 302.5h.8M77.9 291.8h.8M80.6 285.4h.8M67.8 293.2h.8M67.2 291.1h.8M72.1 290.6h.8M77.2 287.7h.8M74.4 277.2h.8M78.5 286.8h.8M80.4 264.3h.8M71.7 299.8h.8M59.9 292.8h.8M78.2 298.2h.8M66.7 299.7h.8M78.6 285.7h.8M82.9 296.4h.8M77.6 291.8h.8M81.5 298.1h.8M85.7 302.2h.8M73 294.4h.8M84.1 292.8h.8M80.3 303h.8M76.2 270h.8M78.5 299.5h.8M78.5 288.2h.8M86.3 295.4h.8M73 288.7h.8M80.1 284.3h.8M70.2 320.2h.8M87 309.2h.8M87.4 303.9h.8M65.3 310.9h.8M86.5 302.7h.8M63.3 311.4h.8M87.4 291.3h.8M78.4 306h.8M76.9 309.8h.8M78.1 305h.8M78.1 279.8h.8M79.5 312.2h.8M85.8 316.9h.8M81.5 290.1h.8M77.6 274.7h.8M76.1 307.5h.8M61.8 299.3h.8M83.5 312.5h.8M70.8 289.4h.8M63.9 285.1h.8M81.4 321.1h.8M69.2 313.1h.8M80.6 291.2h.8M93.5 267.6h.8M77 299.6h.8M93 317.9h.8M94 298.6h.8M84.6 312.9h.8M81.2 301.2h.8M76.2 292.2h.8M68.5 319.7h.8M74.2 272.7h.8M79.4 296.6h.8M78.8 318.2h.8M76.7 293.9h.8" stroke="#969696" stroke-width="0.75" fill="none"/>
<path d="M93.2 257.8h.8M95.6 259.5h.8M123.3 260.9h.8M92.3 272.1h.8M105.7 264h.8M104.6 264h.8M104.3 268.3h.8M106.8 267.8h.8M95.1 258h.8M93.3 265h.8M105.5 254.6h.8M103.6 277.2h.8M108.6 249.9h.8M98.3 262.6h.8M98.7 260.8h.8M108.2 260.4h.8M90.5 263.2h.8M98.2 258.8h.8M94.6 247.9h.8M89.3 255.4h.8M90.7 238.2h.8M107.9 249.5h.8M93.4 261.9h.8M80.2 267.8h.8M93 262.8h.8M95.2 260.2h.8M99.8 258h.8M84.8 247.3h.8M98.7 268.3h.8M94.7 261.9h.8M100.3 261.5h.8M106.7 247.1h.8M101.1 256.7h.8M96.6 251.8h.8M92.9 250.5h.8M90.4 276.3h.8M112.2 258.1h.8M104.8 250.9h.8M77.3 244.7h.8M100.1 268.5h.8M98.7 250.7h.8M97.1 250.7h.8M88.1 256.3h.8M95.9 252.1h.8M92.1 251.2h.8M100.8 268.2h.8M97.4 274.3h.8M86.4 260h.8M90 256.8h.8M99.8 262.1h.8M107.8 253.9h.8M89.3 256.6h.8M101.3 252.9h.8M106 270.3h.8M87.9 260.6h.8M106.9 244h.8M100.6 256.4h.8M87.9 267.6h.8M100.7 254.5h.8M102.5 262.7h.8M105 262.2h.8M102.2 249.4h.8M95.7 258.9h.8M77.4 273.6h.8M96 250.3h.8M84.8 259.8h.8M99.3 253.7h.8M95.8 251.5h.8M93.2 257.3h.8M94 263h.8M97.9 259h.8M102.2 267.3h.8M103.7 259.7h.8M97.7 252.1h.8M96.3 263h.8M100.8 255.2h.8M88.6 246.8h.8M101.5 265.5h.8M101.9 248h.8M97.3 259.6h.8M91.8 260.5h.8M97.4 251.9h.8M89.3 263.9h.8M101.8 251.5h.8M91.1 264.5h.8M103.6 255.8h.8M111.4 255.9h.8M90.8 266h.8M97.5 260.5h.8M99.3 250.7h.8M89.7 256.6h.8M110 250.7h.8M109.6 259.6h.8M90.3 259.9h.8M103.4 251.4h.8M82.4 260.6h.8M90.4 261.2h.8M84.1 257h.8M92.7 247.2h.8M97.1 259.3h.8M94.7 249.4h.8M100.7 245.2h.8M103.2 261.6h.8M112.1 264.4h.8M101.8 259.9h.8M99.2 248.3h.8M110.4 261.8h.8M96.8 249.6h.8M110.5 261.9h.8M89.8 262.9h.8M113.7 257.8h.8M102.1 255h.8M94.1 265.8h.8M122.9 258.8h.8M98 263.8h.8M96.6 263.3h.8M105.4 250.6h.8M90.7 257.5h.8M105.5 260h.8M108.6 248h.8M102.8 253.5h.8M99.8 260.3h.8M91.5 256.3h.8M90 259.9h.8M92.4 254.4h.8M100.7 253.2h.8M107.9 253.4h.8M105.6 260.1h.8M91 256.4h.8M92.5 255.4h.8M96.9 271.2h.8M95.7 269.4h.8M102.5 248.5h.8M81.1 262.9h.8M83.6 263.2h.8M107 260.8h.8M97.4 256.2h.8M101 255.8h.8M94.9 255.3h.8M108.1 253.5h.8" stroke="#969696" stroke-width="0.75" fill="none"/>
<path d="M100.9 284.3h.8M92.5 283h.8M96.5 295h.8M100.4 288.1h.8M102.7 289h.8M100.9 292.6h.8M102.2 276.6h.8M87.9 295.5h.8M97.2 304h.8M96.2 287.8h.8M109.6 294.2h.8M112.7 294h.8M96.4 295.2h.8M91.9 288.4h.8M93.7 289.7h.8M104 288.2h.8M100.5 288.1h.8M104.8 275h.8M96.4 292h.8M89.7 296.9h.8M99.7 298.4h.8M105.4 294.7h.8M96.8 284.7h.8M96.3 288.3h.8M99.9 288.3h.8M121.6 281.7h.8M107.1 288.3h.8M96.1 296.4h.8M98 284h.8M101.2 289.9h.8M82.1 292.1h.8M89.8 286.7h.8M101.7 292.7h.8M95.8 303.6h.8M101.2 287.4h.8M99.8 290.3h.8M81 281.9h.8M87.3 303h.8M96.6 289.4h.8M93.6 296.7h.8M98.2 300.9h.8M104.1 300.5h.8M97.1 293.2h.8M94.7 290h.8M84.6 287.6h.8M90.7 287.2h.8M107.4 292.5h.8M107.5 296h.8M105.1 296.8h.8M93.3 295.6h.8M95.5 287.9h.8M107.2 303.5h.8M90.5 301h.8M104.4 286.1h.8M100.1 293.1h.8M100.9 288.9h.8M88.1 291.2h.8M104.6 295.5h.8M103.1 297.4h.8M90.4 290.8h.8M100.6 296.8h.8M99.2 294h.8M99 303.1h.8M81.2 290.9h.8M117.1 292.4h.8M83.9 291.8h.8M87 287.1h.8M99.7 300.9h.8M101.6 294.9h.8M105.8 292.2h.8M91.4 290.4h.8M100.6 289.4h.8M92.9 288.9h.8M86.4 285.1h.8M97.3 288.9h.8M98.3 299.1h.8M100.3 290.8h.8M89 284.8h.8M100.9 286h.8M101.3 284.8h.8M99 290.6h.8M105.7 288.7h.8M95.1 292.4h.8M98.4 300.8h.8M96 287.9h.8M95.5 293.7h.8M99.8 295h.8M87.3 305.3h.8M112.2 290.8h.8M88.7 291.9h.8" stroke="#969696" stroke-width="0.75" fill="none"/>
<path d="M95.2 207.2h.8M100.7 251.3h.8M107.9 206.8h.8M112.3 244h.8M90.5 237.7h.8M114 224.9h.8M94.8 221.4h.8M112.8 215.1h.8M106.6 205h.8M83.3 220.8h.8M105.4 205h.8M102.5 220.2h.8M110.5 225.2h.8M101.1 227.4h.8M117.4 224.5h.8M94.7 260.5h.8M96 240.6h.8M85.8 233.1h.8M66.6 231.6h.8M86.9 206.9h.8M77.3 247.6h.8M100.3 206.7h.8M117.7 219.3h.8M90.4 233.8h.8M80.8 205.1h.8M85.7 248.2h.8M106.9 205.7h.8M110.1 230.5h.8M101.3 230.8h.8M100.2 214.6h.8M83.6 219.2h.8M90.4 239.5h.8M79.8 254.5h.8M87.1 220.9h.8M103.8 236.7h.8M90.8 213.5h.8M82.5 205.4h.8M109.3 246.7h.8M118.4 237.7h.8M99.2 241.7h.8M106.9 226h.8M99.4 263.2h.8M73.8 208.4h.8M82.9 241.6h.8M109.9 224.8h.8M103.4 229.3h.8M98.8 221.7h.8M94.7 229.9h.8M109.2 264.4h.8M72.3 238.2h.8M94.9 244.9h.8M108.3 242h.8M105.1 215.4h.8M73.7 255.7h.8M110.1 215.3h.8M111.2 240.3h.8M64.3 243.9h.8M82.6 248h.8M86.5 218.5h.8M75.7 226.7h.8M107.7 219.7h.8M71.7 263h.8M118.1 240.6h.8M88.3 211.3h.8M74.5 238.6h.8M111.3 213.7h.8M95 225.7h.8M91.8 237.7h.8M121.2 220.2h.8M105.6 246.8h.8" stroke="#969696" stroke-width="0.75" fill="none"/>
<path d="M97.6 244h.8M83.5 304.1h.8M102.6 264.1h.8M111.8 265h.8M95.1 276.1h.8M128.3 295.7h.8M115.1 298h.8M82.6 322.6h.8M107.8 299.3h.8M74.7 253.9h.8M97.5 310.9h.8M114.2 269.8h.8M64.2 284.3h.8M120.6 253.9h.8M110 254.6h.8M77.4 244.6h.8M76.3 272.9h.8M127.5 322.6h.8M67.8 266.5h.8M125.7 256.9h.8M78 277.6h.8M61.8 262.3h.8M83.6 273.1h.8M127.2 262.9h.8M69.1 318h.8M87.9 311.8h.8M102.2 306.8h.8M77.6 253h.8M111.4 280.3h.8M96.2 297.5h.8M111.1 263.6h.8M81.2 318.7h.8M94 264.7h.8M101.7 262.3h.8M112.5 243.5h.8" stroke="#b5b5b5" stroke-width="0.75" fill="none"/>
<path d="M74.8 248.1C75 244.6 75.5 239.8 76.2 235.7C76.9 231.6 77.8 227.2 79.2 223.3C80.6 219.5 82.4 215.5 84.5 212.7C86.6 209.9 89.1 207.8 91.6 206.5C94.1 205.2 97.2 204.6 99.6 204.7C101.9 204.9 104.3 205.8 105.8 207.4C107.2 209 108 211.5 108.4 214.5C108.8 217.4 108.8 221.5 108.4 225.1C108 228.6 106.9 232.9 105.8 235.7C104.6 238.5 103.2 240.6 101.3 241.9C99.4 243.2 96.5 243.1 94.2 243.7C92 244.3 89.7 244.1 88.1 245.4C86.4 246.8 85.3 248.8 84.5 251.6C83.7 254.4 83.7 258.7 83.3 262.3C82.8 265.8 82.2 270.2 81.9 272.9C81.6 275.5 81.1 276.4 81.5 278.2C81.9 280 83.7 281.4 84.5 283.5C85.3 285.6 85.9 287.9 86.3 290.6C86.7 293.2 87 296.2 86.8 299.4C86.7 302.7 86.2 306.8 85.4 310C84.6 313.3 83 316.5 81.9 318.9C80.7 321.3 79.5 323.9 78.3 324.2C77.1 324.5 76 322.7 74.8 320.7C73.6 318.6 72.1 315.1 71.2 311.8C70.4 308.6 70 304.6 69.8 301.2C69.7 297.8 69.8 294.4 70.4 291.5C70.9 288.5 72 285.5 73 283.5C74 281.5 75.6 281.4 76.2 279.6C76.8 277.8 76.6 275.2 76.5 272.9C76.5 270.6 75.9 268.5 75.7 265.8C75.4 263.1 75.3 259.9 75.1 256.9C75 254 74.6 251.6 74.8 248.1Z" fill="none" stroke="#3c3c3c" stroke-width="0.5"/>
<path d="M76.5 248.1C76.6 244.9 77 240.5 77.6 236.6C78.3 232.7 79.1 228.4 80.4 224.7C81.7 221 83.5 217.2 85.4 214.5C87.3 211.8 89.8 209.9 92.1 208.6C94.4 207.4 97.1 206.9 99.2 207C101.3 207.1 103.3 207.8 104.5 209.2C105.8 210.5 106.3 212.8 106.6 215.4C107 217.9 107.1 221.6 106.6 224.7C106.2 227.9 105.1 231.8 104 234.3C102.9 236.8 101.7 238.4 100.1 239.6C98.5 240.8 96.3 240.8 94.2 241.4C92.2 241.9 89.3 241.7 87.5 242.8C85.8 243.9 84.6 245.7 83.6 248.1C82.7 250.5 82.4 254.6 81.9 256.9C81.3 259.3 81 261.5 80.4 262.3C79.9 263 78.9 262.4 78.3 261.4C77.8 260.3 77.4 258.3 77.1 256.1C76.8 253.8 76.5 251.3 76.5 248.1Z" fill="none" stroke="#3c3c3c" stroke-width="0.5"/>
<path d="M78.3 247.2C78.3 244.3 78.7 240.2 79.4 236.6C80 233 81 228.8 82.2 225.4C83.4 222.1 84.9 218.7 86.6 216.2C88.3 213.8 90.5 212.1 92.5 210.9C94.5 209.8 96.9 209.5 98.7 209.5C100.4 209.6 102.1 210.2 103.1 211.3C104.1 212.4 104.6 214.1 104.9 216.2C105.1 218.4 104.9 221.5 104.5 224.2C104.1 226.9 103.4 230.1 102.4 232.2C101.4 234.2 99.9 236.9 98.7 236.6C97.5 236.3 96.3 232.2 95.1 230.4C94 228.6 92.8 226.4 91.6 226C90.4 225.5 89.1 226.1 88.1 227.7C87 229.4 85.8 232.6 85 235.7C84.2 238.8 83.8 243.1 83.3 246.3C82.7 249.6 82.4 253.8 81.9 255.2C81.3 256.5 80.3 255.6 79.7 254.3C79.1 253 78.4 250.2 78.3 247.2Z" fill="none" stroke="#3c3c3c" stroke-width="0.5"/>
<path d="M85.4 218.9C85.7 217.5 87.3 215.9 88.6 214.8C89.9 213.8 91.5 213.1 93.4 212.5C95.2 212 98.1 211.3 99.6 211.6C101.1 212 102.1 213.2 102.4 214.8C102.7 216.5 102 221.1 101.3 221.5C100.6 222 99.5 218.3 98.1 217.7C96.8 217 94.8 216.8 93.4 217.5C91.9 218.1 90.4 220.6 89.3 221.5C88.2 222.5 87.3 223.4 86.6 223C86 222.5 85.1 220.3 85.4 218.9Z" fill="none" stroke="#3c3c3c" stroke-width="0.5"/>
<path d="M101.9 216.2C101.9 216.9 101.7 217.9 101.4 218.4C101.1 218.9 100.6 219.2 100.3 219.2C99.9 219.2 99.4 218.9 99.1 218.4C98.9 217.9 98.7 216.9 98.7 216.2C98.7 215.5 98.9 214.6 99.1 214.1C99.4 213.6 99.9 213.2 100.3 213.2C100.6 213.2 101.1 213.6 101.4 214.1C101.7 214.6 101.9 215.5 101.9 216.2Z" fill="none" stroke="#3c3c3c" stroke-width="0.5"/>
<path d="M79.7 246.3C79.7 247.7 79.6 249.6 79.5 250.6C79.3 251.6 79.1 252.3 78.8 252.3C78.6 252.3 78.4 251.6 78.2 250.6C78.1 249.6 78 247.7 78 246.3C78 244.9 78.1 243.1 78.2 242.1C78.4 241.1 78.6 240.3 78.8 240.3C79.1 240.3 79.3 241.1 79.5 242.1C79.6 243.1 79.7 244.9 79.7 246.3Z" fill="none" stroke="#3c3c3c" stroke-width="0.5"/>
<path d="M77.9 278.8C79.6 278.8 81.7 280.9 83 282.8C84.4 284.7 85.3 287.5 85.8 290.1C86.3 292.7 86.3 295.6 86.2 298.4C86.1 301.1 85.7 303.8 85 306.7C84.4 309.6 83.4 313.1 82.5 315.8C81.6 318.4 80.5 321.2 79.7 322.7C79 324.1 78.5 324.6 77.9 324.6C77.3 324.6 76.8 324.1 76.1 322.7C75.3 321.2 74.2 318.4 73.3 315.8C72.4 313.1 71.4 309.6 70.8 306.7C70.1 303.8 69.7 301.1 69.6 298.4C69.5 295.6 69.5 292.7 70 290.1C70.5 287.5 71.4 284.7 72.8 282.8C74.1 280.9 76.2 278.8 77.9 278.8Z" fill="none" stroke="#3c3c3c" stroke-width="0.5"/>
<path d="M77.9 281C79.4 281 81.3 282.9 82.4 284.5C83.6 286.2 84.4 288.6 84.8 290.9C85.3 293.2 85.3 295.8 85.2 298.2C85.1 300.6 84.7 303 84.2 305.5C83.6 308.1 82.7 311.2 81.9 313.5C81.1 315.9 80.2 318.3 79.5 319.6C78.8 320.9 78.4 321.3 77.9 321.3C77.4 321.3 77 320.9 76.3 319.6C75.6 318.3 74.7 315.9 73.9 313.5C73.1 311.2 72.2 308.1 71.6 305.5C71.1 303 70.7 300.6 70.6 298.2C70.5 295.8 70.5 293.2 71 290.9C71.4 288.6 72.2 286.2 73.4 284.5C74.5 282.9 76.4 281 77.9 281Z" fill="none" stroke="#3c3c3c" stroke-width="0.5"/>
<path d="M77.9 283C79.2 283 80.9 284.6 81.9 286.1C82.9 287.5 83.6 289.7 84 291.7C84.4 293.7 84.4 295.9 84.3 298.1C84.2 300.2 83.9 302.2 83.4 304.4C82.9 306.7 82.1 309.4 81.4 311.5C80.7 313.5 79.9 315.6 79.3 316.8C78.7 317.9 78.4 318.3 77.9 318.3C77.4 318.3 77.1 317.9 76.5 316.8C75.9 315.6 75.1 313.5 74.4 311.5C73.7 309.4 72.9 306.7 72.4 304.4C71.9 302.2 71.6 300.2 71.5 298.1C71.4 295.9 71.4 293.7 71.8 291.7C72.2 289.7 72.9 287.5 73.9 286.1C74.9 284.6 76.6 283 77.9 283Z" fill="none" stroke="#3c3c3c" stroke-width="0.5"/>
<path d="M77.9 282.7C79.3 282.7 81.1 284.3 82.2 285.6C83.3 287 84.1 289.1 84.6 290.9C85 292.8 85 295 84.9 297C84.8 299 84.4 300.9 83.9 303C83.4 305.1 82.5 307.7 81.8 309.6C81 311.5 80.1 313.5 79.4 314.6C78.8 315.7 78.4 316 77.9 316C77.4 316 77 315.7 76.4 314.6C75.7 313.5 74.8 311.5 74.1 309.6C73.3 307.7 72.4 305.1 71.9 303C71.4 300.9 71 299 70.9 297C70.8 295 70.8 292.8 71.2 290.9C71.7 289.1 72.5 287 73.6 285.6C74.7 284.3 76.5 282.7 77.9 282.7Z" fill="#e4e4e4" stroke="#000" stroke-width="1.3"/>
<path d="M77.9 285.1C79.1 285.1 80.5 286.4 81.5 287.5C82.4 288.6 83 290.3 83.4 291.9C83.7 293.4 83.7 295.2 83.6 296.8C83.6 298.4 83.3 299.8 82.8 301.4C82.4 303.1 81.7 305 81.1 306.5C80.4 308 79.7 309.6 79.2 310.4C78.6 311.2 78.3 311.5 77.9 311.5C77.5 311.5 77.2 311.2 76.6 310.4C76.1 309.6 75.4 308 74.7 306.5C74.1 305 73.4 303.1 73 301.4C72.5 299.8 72.2 298.4 72.2 296.8C72.1 295.2 72.1 293.4 72.4 291.9C72.8 290.3 73.4 288.6 74.3 287.5C75.3 286.4 76.7 285.1 77.9 285.1Z" fill="none" stroke="#222" stroke-width="0.6"/>
<path d="M77.9 287.1C78.9 287.1 80 288.1 80.8 289.1C81.5 290 82 291.4 82.3 292.6C82.6 293.9 82.6 295.3 82.5 296.6C82.5 297.8 82.2 298.8 81.9 300C81.5 301.2 80.9 302.7 80.4 303.8C79.9 304.9 79.3 306.1 78.9 306.7C78.5 307.3 78.2 307.5 77.9 307.5C77.6 307.5 77.3 307.3 76.9 306.7C76.5 306.1 75.9 304.9 75.4 303.8C74.9 302.7 74.3 301.2 73.9 300C73.6 298.8 73.3 297.8 73.3 296.6C73.2 295.3 73.2 293.9 73.5 292.6C73.8 291.4 74.3 290 75 289.1C75.8 288.1 76.9 287.1 77.9 287.1Z" fill="none" stroke="#222" stroke-width="0.6"/>
<path d="M83.1 297.2C83.1 298.8 82.7 300.9 82.1 302.3C81.5 303.6 80.5 305 79.5 305.5C78.6 305.9 77.3 305.6 76.3 305.1C75.3 304.6 74.2 303.7 73.6 302.4C72.9 301.1 72.6 298.9 72.7 297.2C72.7 295.5 73.2 293.7 73.9 292.4C74.5 291 75.4 289.9 76.3 289.3C77.3 288.7 78.6 288.4 79.5 288.9C80.5 289.4 81.4 291 82 292.4C82.5 293.7 83.1 295.6 83.1 297.2Z" fill="#555" stroke="#333" stroke-width="0.6"/>
<path d="M82.1 297.2C82.1 298.7 82.1 300.6 81.7 301.8C81.2 303 80.1 303.9 79.3 304.3C78.4 304.7 77.4 304.7 76.5 304.3C75.7 303.8 74.8 302.8 74.2 301.7C73.7 300.5 73.2 298.6 73.2 297.2C73.3 295.8 74 294.2 74.5 293.1C75.1 292 75.8 290.8 76.6 290.3C77.3 289.9 78.4 290.2 79.2 290.7C80 291.1 80.9 291.8 81.4 292.9C81.9 294 82 295.7 82.1 297.2Z" fill="#0a0a0a" stroke="#000" stroke-width="0.5"/>
<path d="M107.3 290.6C107.3 292.1 106.8 293.8 105.7 295C104.7 296.2 102.8 297.3 101 297.7C99.3 298.2 97 298.1 95.3 297.7C93.6 297.2 91.8 296.1 90.7 294.9C89.7 293.7 88.9 292 88.9 290.6C88.9 289.1 89.7 287.5 90.8 286.3C91.9 285.1 93.5 283.8 95.2 283.4C96.9 282.9 99.3 282.9 101 283.4C102.8 283.8 104.7 284.9 105.7 286.1C106.8 287.3 107.3 289.1 107.3 290.6Z" fill="none" stroke="#3c3c3c" stroke-width="0.55"/>
<path d="M105.6 290.6C105.6 291.8 105.2 293.3 104.3 294.2C103.4 295.2 101.9 296.1 100.4 296.4C99 296.8 97.1 296.8 95.7 296.4C94.3 296 92.9 295.1 92 294.1C91.1 293.2 90.5 291.8 90.5 290.6C90.5 289.4 91.2 288 92.1 287C92.9 286.1 94.3 285.1 95.7 284.7C97.1 284.3 99 284.3 100.5 284.7C101.9 285.1 103.4 285.9 104.3 286.9C105.2 287.9 105.6 289.4 105.6 290.6Z" fill="none" stroke="#3c3c3c" stroke-width="0.55"/>
<path d="M103.9 290.6C103.9 291.5 103.6 292.7 102.9 293.4C102.2 294.2 101 294.9 99.9 295.1C98.7 295.4 97.3 295.4 96.2 295.1C95.1 294.8 94 294.1 93.3 293.4C92.6 292.6 92.1 291.5 92.1 290.6C92.1 289.7 92.6 288.6 93.3 287.8C94 287 95.1 286.3 96.2 286C97.2 285.6 98.7 285.7 99.9 286C101 286.3 102.2 287 102.9 287.7C103.5 288.5 103.9 289.6 103.9 290.6Z" fill="none" stroke="#3c3c3c" stroke-width="0.55"/>
<path d="M101 290.6C101 291.2 100.6 291.9 100 292.3C99.5 292.7 98.5 293.1 97.8 293.1C97 293.1 96.1 292.7 95.5 292.3C95 291.9 94.6 291.2 94.6 290.6C94.6 290 95 289.2 95.5 288.8C96.1 288.4 97 288.1 97.8 288.1C98.5 288.1 99.5 288.4 100 288.8C100.6 289.2 101 290 101 290.6Z" fill="none" stroke="#222" stroke-width="0.6"/>
<rect x="73" y="200.2" width="42.8" height="71.3" fill="none" stroke="#555" stroke-width="0.7"/>
<text x="81.5" y="238.4" font-size="12.3">14.6</text>
<text x="134.5" y="221" font-size="12.3">M82</text>
<rect x="211" y="197.6" width="128.6" height="128.6" fill="none" stroke="#585858" stroke-width="1"/>
<text x="211" y="339" font-size="6.5" text-anchor="middle" font-weight="bold" stroke="#000" stroke-width=".25">0</text>
<text x="236.1" y="339" font-size="6.5" text-anchor="middle" font-weight="bold" stroke="#000" stroke-width=".25">200</text>
<text x="261.3" y="339" font-size="6.5" text-anchor="middle" font-weight="bold" stroke="#000" stroke-width=".25">400</text>
<text x="286.4" y="339" font-size="6.5" text-anchor="middle" font-weight="bold" stroke="#000" stroke-width=".25">600</text>
<text x="311.6" y="339" font-size="6.5" text-anchor="middle" font-weight="bold" stroke="#000" stroke-width=".25">800</text>
<text x="336.7" y="339" font-size="6.5" text-anchor="middle" font-weight="bold" stroke="#000" stroke-width=".25">1000</text>
<path d="M211 326.2v2.4M217.3 326.2v1.3M223.6 326.2v1.3M229.9 326.2v1.3M236.1 326.2v2.4M242.4 326.2v1.3M248.7 326.2v1.3M255 326.2v1.3M261.3 326.2v2.4M267.6 326.2v1.3M273.9 326.2v1.3M280.1 326.2v1.3M286.4 326.2v2.4M292.7 326.2v1.3M299 326.2v1.3M305.3 326.2v1.3M311.6 326.2v2.4M317.9 326.2v1.3M324.1 326.2v1.3M330.4 326.2v1.3M336.7 326.2v2.4" stroke="#585858" stroke-width="0.7" fill="none"/>
<text x="195.4" y="329.5" font-size="6.7" font-weight="bold" stroke="#000" stroke-width=".25">10<tspan dy="-3.1" font-size="5">0</tspan></text>
<text x="195.4" y="297.4" font-size="6.7" font-weight="bold" stroke="#000" stroke-width=".25">10<tspan dy="-3.1" font-size="5">1</tspan></text>
<text x="195.4" y="265.2" font-size="6.7" font-weight="bold" stroke="#000" stroke-width=".25">10<tspan dy="-3.1" font-size="5">2</tspan></text>
<text x="195.4" y="233.1" font-size="6.7" font-weight="bold" stroke="#000" stroke-width=".25">10<tspan dy="-3.1" font-size="5">3</tspan></text>
<text x="195.4" y="200.9" font-size="6.7" font-weight="bold" stroke="#000" stroke-width=".25">10<tspan dy="-3.1" font-size="5">4</tspan></text>
<path d="M211 326.2h-2.4M211 316.5h-1.3M211 310.9h-1.3M211 306.8h-1.3M211 303.7h-1.3M211 301.2h-1.3M211 299h-1.3M211 297.2h-1.3M211 295.5h-1.3M211 294.1h-2.4M211 284.4h-1.3M211 278.7h-1.3M211 274.7h-1.3M211 271.6h-1.3M211 269h-1.3M211 266.9h-1.3M211 265h-1.3M211 263.4h-1.3M211 261.9h-2.4M211 252.2h-1.3M211 246.6h-1.3M211 242.5h-1.3M211 239.4h-1.3M211 236.9h-1.3M211 234.7h-1.3M211 232.9h-1.3M211 231.2h-1.3M211 229.8h-2.4M211 220.1h-1.3M211 214.4h-1.3M211 210.4h-1.3M211 207.3h-1.3M211 204.7h-1.3M211 202.6h-1.3M211 200.7h-1.3M211 199.1h-1.3M211 197.6h-2.4" stroke="#585858" stroke-width="0.7" fill="none"/>
<text x="275" y="347.6" font-size="6.7" text-anchor="middle" font-weight="bold" stroke="#000" stroke-width=".25">FL3-H: 7AAD</text>
<text x="190.7" y="262.2" font-size="6.9" text-anchor="middle" font-weight="bold" stroke="#000" stroke-width=".25" transform="rotate(-90 190.7 262.2)">FL4-H: BrdUAPC</text>
<path d="M227.9 277.2h.8M244.9 310.8h.8M234 281.2h.8M236.6 301.4h.8M225.9 283.5h.8M236.3 305.2h.8M237.5 302.3h.8M227.9 267.9h.8M239.3 286.3h.8M236.1 292.6h.8M240.5 288h.8M247.6 297.4h.8M240.9 304.4h.8M244.6 301.7h.8M224.2 289.6h.8M250.6 302.5h.8M241.1 302.5h.8M232.3 289.1h.8M232.3 310.6h.8M239.7 317.9h.8M240.7 319.2h.8M240.4 283.1h.8M249.8 301h.8M245.7 299.5h.8M234.6 299h.8M228.8 283h.8M230.5 290.8h.8M227 295.8h.8M239.2 320.9h.8M250.5 296.4h.8M243.5 294.4h.8M239.9 296.6h.8M233 297.9h.8M226.1 302.2h.8M234.9 284.2h.8M234.3 303.5h.8M232 302.6h.8M241.2 315.4h.8M229 295.7h.8M240.8 314.7h.8M238.9 305.9h.8M226.2 290.1h.8M249.3 293.6h.8M253 288.4h.8M234.9 278.2h.8M241.7 300.1h.8M251.9 299h.8M235.1 280.3h.8M236.4 308.2h.8M242.5 311.5h.8M243.4 296.5h.8M241.5 299h.8M227.1 317.3h.8M239.8 284.5h.8M239.9 300.4h.8M244.4 314.1h.8M214.5 303.6h.8M248.3 285.8h.8M223.2 300.3h.8M239.5 301.2h.8M228.8 291.5h.8M238.4 305.8h.8M253.3 300.5h.8M232.5 269h.8M245 295.4h.8M236.2 285.3h.8M242.5 275.7h.8M237.8 298.4h.8M239.2 312.5h.8M236.3 298.1h.8M243.4 278.6h.8M234.8 297.8h.8M244.1 287.5h.8M243 301.6h.8M225.9 279.4h.8M226.3 298.7h.8M238.5 305.6h.8M243.1 290.4h.8M245 306.8h.8M240.5 302.7h.8M227.4 301.3h.8M229.3 282.8h.8M234.4 298.7h.8M236.6 293.1h.8M229.5 299.2h.8M231.5 280.2h.8M237.7 314.3h.8M234 284.3h.8M247.3 317.4h.8M234.8 294.5h.8M238 308.9h.8M240.3 275.3h.8M228.8 282.3h.8M240.2 298.3h.8M250.4 293.8h.8M239.3 297.9h.8M238 324.7h.8M239.1 314.6h.8M246.7 289.7h.8M242.1 292.4h.8M237.8 298.9h.8M237.2 291.4h.8M248.6 293.8h.8M242.3 317.1h.8M241.7 309.3h.8M247.4 310h.8M249.9 279.9h.8M251.6 297.3h.8M223.9 289.3h.8M226.6 296.7h.8M225.9 285h.8M239.2 298.9h.8M231 294.2h.8M236.3 297.9h.8M236.9 294.4h.8M243.6 277.8h.8M233.3 298.6h.8M234 290.4h.8M233.7 299.5h.8M246.3 294.8h.8M235 301.3h.8M235.2 273.8h.8M239 292.5h.8M232.7 304.5h.8M237.3 290.2h.8M220.7 276.4h.8M237.1 295.6h.8M240.3 299.7h.8M233.4 281.8h.8M228.8 295.3h.8M228.4 306.1h.8M227.1 275.5h.8M235.5 275.7h.8M249.2 285.1h.8M236.6 294.1h.8M230.9 275.8h.8M223 307.4h.8M244.7 323h.8M226 303.7h.8M236.9 307.1h.8M233.1 305.7h.8M243.7 304.3h.8M247.8 294.9h.8M248.6 288.6h.8M249.5 264h.8M237.1 287.4h.8M237 309.4h.8M242.4 298.1h.8M249.8 279.3h.8M230.9 315.1h.8M239.5 272.1h.8M239.6 282.8h.8M248.1 310.7h.8M232.9 312.5h.8M230.7 308h.8M241.3 295.5h.8M226.3 293.6h.8M219.8 290.2h.8M223.1 311.6h.8M229.8 267.8h.8M241.4 301.4h.8M233.2 322.4h.8M242.8 297.8h.8M232.2 261.5h.8M240.6 308.5h.8M232.6 280h.8M236.7 276.9h.8M237.1 306.3h.8M248.3 300.2h.8M238.5 306h.8M247.5 293.2h.8M227.8 287.5h.8M227.6 286.3h.8M236.1 301.1h.8M238.2 297.8h.8M234.3 302.1h.8M243.6 306.1h.8M248.2 293.5h.8M235.1 317.3h.8M238.5 302h.8M234.5 308.6h.8M234 284.9h.8M236.5 291.7h.8M243.3 292.5h.8M237.9 294.4h.8M239.6 289.4h.8M245.3 279.9h.8M234.1 288.5h.8M241.9 297.5h.8M240.6 293h.8M231.6 283.6h.8M234.5 290.6h.8M239.1 301.3h.8M244.3 295.7h.8M231.4 284.3h.8M237.5 301.3h.8M251.6 299.2h.8M250.2 319.5h.8M229.1 311.5h.8M245.5 313.1h.8M236.9 308.5h.8M233.4 296.2h.8M237.1 318.4h.8M235.4 308.5h.8M237.5 288.5h.8M238.8 304.9h.8M231.7 304.6h.8M231.7 286.5h.8M238.7 294.2h.8M229.6 277.4h.8" stroke="#969696" stroke-width="0.75" fill="none"/>
<path d="M255.2 264.2h.8M251.3 263.7h.8M242.8 265.5h.8M258.3 264.5h.8M250.1 262.7h.8M256 271.6h.8M257.2 264.3h.8M249.2 269.8h.8M264.4 257.6h.8M260.1 264.8h.8M254.6 250.4h.8M269.1 245.2h.8M257.4 258.6h.8M264.2 258.2h.8M255.3 267.5h.8M258.6 257.3h.8M260.4 265.5h.8M262.9 257.4h.8M254.6 258.5h.8M248.3 264.3h.8M258.3 274.8h.8M252.4 265.5h.8M264.1 261h.8M255.5 263.2h.8M249.5 253.1h.8M263.9 263.6h.8M254.4 250.8h.8M255.9 272.5h.8M245.8 254h.8M263.8 274.8h.8M267.4 257h.8M259.8 255.3h.8M259.1 258.7h.8M256.6 274h.8M257.7 259.8h.8M255.4 264.4h.8M250.9 263.9h.8M259.8 276h.8M238.6 251.3h.8M245.2 269.8h.8M274.4 263.7h.8M256 272.2h.8M235.6 260.4h.8M230.2 263.4h.8M251 257.7h.8M257.7 256.8h.8M263.8 262h.8M258 284.7h.8M251.4 270.3h.8M248.4 273.2h.8M262.7 263.3h.8M262.9 276.4h.8M265.9 262h.8M254.6 271.9h.8M243.3 256.6h.8M258.8 267.1h.8M269.8 277.7h.8M257.6 265.9h.8M244.5 260.3h.8M257.1 260h.8M255.5 267.4h.8M247.5 256.9h.8M240.9 272.2h.8M246.6 246.8h.8M261.1 260.1h.8M262.7 258.7h.8M271.8 268.4h.8M256.2 263h.8M253.4 269.2h.8M270.8 258.2h.8M246.4 267.3h.8M263.4 248.7h.8M249.5 253.1h.8M259.4 266.5h.8M249.2 252h.8M260.4 243.7h.8M260.1 260.6h.8M270.2 270.8h.8M250.4 259.6h.8M252.8 255.5h.8M255.6 270.6h.8M243.1 260h.8M266.8 268.6h.8M248.6 254.8h.8M248.3 247.8h.8M264.1 262.6h.8M249.5 249.3h.8M252 257.5h.8M268.6 257.9h.8M255.9 271.5h.8M260.3 260.4h.8M237.8 274.4h.8M259.7 258.2h.8M254.3 253.5h.8M247.9 248.9h.8M258.9 266.6h.8M256.4 268.9h.8M259.2 263.1h.8M248.1 267.2h.8M264.3 267.6h.8M264.8 257.8h.8M247.3 273.1h.8M250.4 264.1h.8M253.5 262.2h.8M252.9 257.2h.8M241 278.8h.8M256.6 245h.8M247.9 252.1h.8M249.2 239.5h.8M259.5 276.5h.8M253.1 268.6h.8M259.7 251h.8M264.6 247.1h.8M250.5 258.8h.8M264.9 263h.8M254 254.9h.8M255.7 262.4h.8M260.7 274.3h.8M260.8 262.2h.8M253.8 276.1h.8M256.6 261.9h.8M269.1 275.8h.8M259.5 261h.8M250 271.4h.8M251.5 270.5h.8M248.9 262.9h.8M258.2 263.3h.8M256.8 265.4h.8M246.2 252.2h.8M253.8 277.9h.8M254 253.8h.8M249.8 262.3h.8M264.3 257h.8M259.4 263.6h.8M252.2 253.7h.8M253.8 255.6h.8M259.2 246.5h.8M263.8 268.7h.8M259.5 275.2h.8M259.7 247h.8M255.4 266h.8M249.7 252.1h.8M258.4 266.5h.8M251.7 259.9h.8M251 257h.8M254.6 271.4h.8M242.4 259h.8M267.6 264.8h.8M256.2 269.3h.8M247.2 251.4h.8M242.1 249.2h.8M256.9 269.5h.8M251.8 256h.8M258.2 267.4h.8M257 245.3h.8M250.8 239.8h.8M256.9 254.6h.8M249.9 275.2h.8M265.3 266.2h.8M257.2 263.5h.8M250.4 261.6h.8M269.9 254.3h.8M249.8 263.4h.8M262 269.3h.8M247.5 260.9h.8M252.9 251.2h.8M255.6 257.8h.8M262.2 265.8h.8M248.9 262.7h.8M252.2 256.4h.8" stroke="#969696" stroke-width="0.75" fill="none"/>
<path d="M253.2 298.2h.8M253.8 282h.8M251 296.7h.8M273.8 285.9h.8M254.2 290.1h.8M246.1 294.3h.8M256.6 293.6h.8M274.4 290.4h.8M263.2 296.9h.8M252.1 288.5h.8M269.1 296.2h.8M258.1 285.6h.8M263.9 295.1h.8M274.1 300.6h.8M263.3 293.6h.8M257.5 288.8h.8M259.4 293.4h.8M262.1 298.3h.8M259.4 288.8h.8M263.3 301.1h.8M250.5 294.5h.8M261.3 295.1h.8M260.9 291.5h.8M256.2 301.8h.8M270.5 283.8h.8M237.3 294.6h.8M251.8 289h.8M244.6 294.1h.8M256.6 288.9h.8M264 306.2h.8M268.5 298.8h.8M253.8 295.8h.8M256.7 298.7h.8M261.5 291.8h.8M261.3 287.8h.8M263.2 300.8h.8M254.2 295.2h.8M244.1 297.5h.8M263.8 286.1h.8M270.6 292.7h.8M243.6 284h.8M263.8 290.4h.8M265.6 283h.8M256.2 297.7h.8M251.7 296h.8M254.2 294h.8M259.5 305h.8M247.4 296.5h.8M267.2 285.4h.8M257.6 305.5h.8M265.2 274.7h.8M255.2 282h.8M259.4 287.8h.8M252.6 287.1h.8M259.3 289.3h.8M250 290.7h.8M260.2 287h.8M265.6 282.3h.8M260.2 289.7h.8M269.2 288.3h.8M251.8 284.2h.8M272.4 295.6h.8M248.6 290h.8M249.6 300.9h.8M260.2 280.1h.8M258.6 297.3h.8M257 294.8h.8M256.1 293.2h.8M258.7 287.9h.8M259.7 293h.8M256.7 288h.8M249.1 293.4h.8M263.4 277.9h.8M252.8 299.9h.8M264.1 287.8h.8M267.5 286.2h.8M250.9 303.3h.8M253.6 290.7h.8M244.2 286.1h.8M247.9 291.2h.8M242.7 298.2h.8M254.2 288.5h.8M252.1 296.3h.8M268.9 289.6h.8M269.6 301.4h.8M267.4 293.7h.8M245.4 295.9h.8M253.8 293.1h.8M242.3 290.4h.8M258.8 286.5h.8" stroke="#969696" stroke-width="0.75" fill="none"/>
<path d="M255.7 258h.8M254.9 221.3h.8M282.2 198.5h.8M240.4 238.4h.8M255.3 244.9h.8M241.9 254.8h.8M258.3 250.6h.8M232.7 232h.8M272.2 263.4h.8M268.7 232h.8M254.3 222.2h.8M265.9 221.2h.8M253.6 199.8h.8M232.9 259.7h.8M252.7 235.4h.8M224.2 231.5h.8M278.2 208.7h.8M221.9 229.5h.8M245.3 228.7h.8M236.1 210.8h.8M236.3 242h.8M251.4 244.8h.8M238.3 241.2h.8M246.4 233.4h.8M263.8 232.5h.8M247.5 206h.8M252.8 244.3h.8M244 231h.8M229.5 211.1h.8M257.1 252.3h.8M248.1 205.8h.8M247.2 207.5h.8M248.5 262.2h.8M255.8 229.6h.8M265.2 226.1h.8M256.2 235.1h.8M257.7 209h.8M261.1 245.8h.8M240.6 255.4h.8M252.3 242.6h.8M259.1 245.9h.8M243.9 222.8h.8M256.8 241.6h.8M259.3 237.3h.8M245.8 249.4h.8M258 248.7h.8M219.5 247.9h.8M220.8 235.3h.8M243.5 233.9h.8M245.9 227.1h.8M254.5 237.5h.8M242 240.5h.8M241.2 238.8h.8M247.3 217.1h.8M267 258.1h.8M250.7 231.2h.8M264.3 211.1h.8M240.8 249.9h.8M263.6 224.2h.8M242 237.5h.8M233.9 224.1h.8M259.6 244.1h.8M265.7 209.3h.8M235.5 219.1h.8M235.2 264.5h.8M239.4 227h.8M254.7 239.2h.8M270.7 214.8h.8M263.3 234.4h.8M236.9 234.4h.8" stroke="#969696" stroke-width="0.75" fill="none"/>
<path d="M239.7 317.2h.8M238.6 285.9h.8M284.4 295.1h.8M248.7 268.7h.8M241.6 292.5h.8M273.1 262.5h.8M240.3 273.4h.8M239.7 318.7h.8M253.6 263.8h.8M237.3 310.8h.8M223.7 299.5h.8M212.7 256.6h.8M215.7 309.4h.8M222.6 259.7h.8M215.5 262.7h.8M268.9 302.1h.8M282.9 321.6h.8M254.5 319.5h.8M218.1 319.7h.8M245.3 256.6h.8M270.1 314h.8M241.5 248h.8M280 305h.8M258.2 324.2h.8M214 244.8h.8M220.8 241.9h.8M267 294.3h.8M219.9 254h.8M225.3 292.5h.8M264.1 323.6h.8M239.5 324.4h.8M245.3 273.7h.8M231 260.1h.8M266.8 255.1h.8M225.2 253.1h.8" stroke="#b5b5b5" stroke-width="0.75" fill="none"/>
<path d="M234.2 251.6C234.4 248.1 234.5 243.2 235.1 239.2C235.7 235.3 236.6 231.1 237.7 227.7C238.9 224.4 240.4 221.3 242.2 218.9C243.9 216.5 246.2 214.9 248.4 213.6C250.6 212.3 253.2 211.3 255.4 211.3C257.7 211.3 260 211.9 261.6 213.6C263.3 215.3 264.4 218.2 265.2 221.5C265.9 224.9 266.1 229.8 266.1 233.9C266.1 238.1 265.8 243.1 265.2 246.3C264.6 249.6 263.8 251.9 262.5 253.4C261.2 254.9 259.3 255.3 257.2 255.2C255.1 255 252.2 252.7 250.1 252.5C248.1 252.4 246.2 253 244.8 254.3C243.5 255.6 242.8 258.3 242.2 260.5C241.6 262.7 241.6 265.5 241.3 267.6C241 269.6 241 271.7 240.4 272.9C239.8 274.1 238.6 275.2 237.7 274.6C236.9 274.1 235.7 271.7 235.1 269.3C234.5 267 234.4 263.4 234.2 260.5C234.1 257.5 234.1 255.2 234.2 251.6Z" fill="none" stroke="#3c3c3c" stroke-width="0.5"/>
<path d="M236 251.3C236.1 248.5 236.3 243.3 236.9 239.6C237.4 235.9 238.3 232.1 239.3 229C240.4 225.9 241.6 223 243.2 220.8C244.8 218.7 246.9 217.1 248.9 215.9C250.9 214.7 253.3 213.8 255.3 213.8C257.2 213.8 259.2 214.4 260.6 215.9C261.9 217.4 262.8 219.9 263.4 223C264 226 264.1 230.6 264.1 234.3C264.1 238 263.8 242.4 263.2 245.3C262.7 248.1 261.9 250 260.9 251.3C259.9 252.5 259 252.9 257.2 252.7C255.4 252.5 252.5 250.2 250.3 250C248.2 249.9 245.9 250.4 244.3 251.6C242.7 252.8 241.6 255.5 240.8 257.3C239.9 259.1 239.6 261.7 239 262.3C238.4 262.8 237.7 261.5 237.2 260.5C236.7 259.5 236.4 257.6 236.2 256.1C235.9 254.5 235.9 254 236 251.3Z" fill="none" stroke="#3c3c3c" stroke-width="0.5"/>
<path d="M238.3 249.9C238.2 247.2 238.7 242.5 239.2 239.2C239.7 236 240.3 233.1 241.3 230.4C242.2 227.7 243.4 224.9 244.8 223C246.2 221 247.9 219.6 249.6 218.5C251.3 217.5 253.3 216.7 254.9 216.8C256.5 216.8 257.9 217.5 259 218.9C260 220.3 260.8 222.4 261.3 225.1C261.7 227.7 261.8 231.7 261.6 234.8C261.5 237.9 261.2 241.5 260.6 243.7C260 245.9 259 247.9 258.1 248.1C257.2 248.2 256 245.4 254.9 244.6C253.8 243.7 252.6 242.8 251.4 242.8C250.1 242.7 248.7 243.3 247.5 244.2C246.2 245.1 245 246.4 243.9 248.1C242.9 249.8 242 253.1 241.3 254.3C240.5 255.5 240 255.9 239.5 255.2C239 254.4 238.3 252.5 238.3 249.9Z" fill="none" stroke="#3c3c3c" stroke-width="0.5"/>
<path d="M246.6 227.7C246.6 226.7 248.1 224.2 249.2 223C250.4 221.7 252.3 220.5 253.7 220.3C255.1 220.1 256.9 220.5 257.7 221.5C258.6 222.6 259 225.5 259 226.9C259 228.2 258.8 229.4 257.7 229.5C256.7 229.7 254.2 227.7 252.8 227.7C251.4 227.7 250.3 229.5 249.2 229.5C248.2 229.5 246.6 228.8 246.6 227.7Z" fill="none" stroke="#3c3c3c" stroke-width="0.5"/>
<path d="M259.2 242.8C259.2 243.2 258.9 243.7 258.6 244C258.3 244.3 257.7 244.6 257.2 244.6C256.8 244.6 256.2 244.3 255.8 244C255.5 243.7 255.3 243.2 255.3 242.8C255.3 242.4 255.5 241.8 255.8 241.5C256.2 241.2 256.8 241 257.2 241C257.7 241 258.3 241.2 258.6 241.5C258.9 241.8 259.2 242.4 259.2 242.8Z" fill="none" stroke="#3c3c3c" stroke-width="0.5"/>
<path d="M237.9 241.4C237.9 242.5 237.8 244 237.7 244.9C237.5 245.7 237.2 246.3 237 246.3C236.8 246.3 236.6 245.7 236.4 244.9C236.3 244 236.2 242.5 236.2 241.4C236.2 240.2 236.3 238.7 236.4 237.9C236.6 237 236.8 236.4 237 236.4C237.2 236.4 237.5 237 237.7 237.9C237.8 238.7 237.9 240.2 237.9 241.4Z" fill="none" stroke="#3c3c3c" stroke-width="0.5"/>
<clipPath id="cA4"><rect x="211" y="197.6" width="129" height="128.4"/></clipPath><g clip-path="url(#cA4)">
<path d="M237.3 282.6C239 282.6 241.2 284.4 242.5 286C243.8 287.6 244.7 289.8 245.3 292.1C245.8 294.5 245.8 296.7 245.7 300.1C245.6 303.6 245.2 308.5 244.5 313.1C243.9 317.6 242.8 323.1 241.9 327.2C241 331.4 239.9 335.7 239.1 338C238.4 340.3 237.9 341 237.3 341C236.7 341 236.2 340.3 235.5 338C234.7 335.7 233.6 331.4 232.7 327.2C231.8 323.1 230.7 317.6 230.1 313.1C229.4 308.5 229 303.6 228.9 300.1C228.8 296.7 228.8 294.5 229.3 292.1C229.9 289.8 230.8 287.6 232.1 286C233.4 284.4 235.6 282.6 237.3 282.6Z" fill="none" stroke="#3c3c3c" stroke-width="0.5"/>
<path d="M237.3 284.4C238.8 284.4 240.7 286 241.9 287.4C243.1 288.8 243.9 290.8 244.3 292.9C244.8 294.9 244.8 296.8 244.7 299.9C244.6 303 244.2 307.3 243.7 311.2C243.1 315.2 242.2 320.1 241.4 323.7C240.6 327.4 239.6 331.2 238.9 333.2C238.2 335.2 237.8 335.8 237.3 335.8C236.8 335.8 236.4 335.2 235.7 333.2C235 331.2 234 327.4 233.2 323.7C232.4 320.1 231.5 315.2 230.9 311.2C230.4 307.3 230 303 229.9 299.9C229.8 296.8 229.8 294.9 230.3 292.9C230.7 290.8 231.5 288.8 232.7 287.4C233.9 286 235.8 284.4 237.3 284.4Z" fill="none" stroke="#3c3c3c" stroke-width="0.5"/>
<path d="M237.3 286.1C238.6 286.1 240.3 287.5 241.3 288.8C242.3 290 243 291.7 243.4 293.5C243.9 295.3 243.9 297 243.8 299.7C243.7 302.3 243.3 306.1 242.9 309.6C242.4 313.1 241.5 317.3 240.9 320.5C240.2 323.7 239.3 327 238.7 328.8C238.1 330.6 237.8 331.1 237.3 331.1C236.8 331.1 236.5 330.6 235.9 328.8C235.3 327 234.4 323.7 233.7 320.5C233.1 317.3 232.2 313.1 231.7 309.6C231.3 306.1 230.9 302.3 230.8 299.7C230.7 297 230.7 295.3 231.2 293.5C231.6 291.7 232.3 290 233.3 288.8C234.3 287.5 236 286.1 237.3 286.1Z" fill="none" stroke="#3c3c3c" stroke-width="0.5"/>
<path d="M237.3 286.5C238.7 286.5 240.4 287.7 241.5 288.8C242.6 289.9 243.3 291.4 243.8 293C244.2 294.6 244.2 296.1 244.1 298.2C244 300.3 243.7 302.9 243.1 305.4C242.6 307.9 241.8 311 241 313.3C240.3 315.6 239.4 318 238.8 319.3C238.2 320.6 237.8 321 237.3 321C236.8 321 236.4 320.6 235.8 319.3C235.2 318 234.3 315.6 233.6 313.3C232.8 311 232 307.9 231.5 305.4C230.9 302.9 230.6 300.3 230.5 298.2C230.4 296.1 230.4 294.6 230.8 293C231.3 291.4 232 289.9 233.1 288.8C234.2 287.7 235.9 286.5 237.3 286.5Z" fill="#e4e4e4" stroke="#000" stroke-width="1.3"/>
<path d="M237.3 288.9C238.5 288.9 239.9 289.8 240.8 290.7C241.6 291.5 242.2 292.7 242.6 293.9C243 295.1 243 296.3 242.9 298C242.8 299.6 242.5 301.8 242.1 303.8C241.7 305.9 241 308.4 240.4 310.3C239.8 312.1 239 314.1 238.5 315.1C238 316.2 237.7 316.5 237.3 316.5C236.9 316.5 236.6 316.2 236.1 315.1C235.6 314.1 234.8 312.1 234.2 310.3C233.6 308.4 232.9 305.9 232.5 303.8C232.1 301.8 231.8 299.6 231.7 298C231.6 296.3 231.6 295.1 232 293.9C232.4 292.7 233 291.5 233.8 290.7C234.7 289.8 236.1 288.9 237.3 288.9Z" fill="none" stroke="#222" stroke-width="0.6"/>
<path d="M237.3 290.9C238.2 290.9 239.4 291.6 240.1 292.2C240.8 292.9 241.3 293.8 241.6 294.7C241.8 295.6 241.9 296.5 241.8 297.8C241.7 299.1 241.5 300.8 241.2 302.4C240.8 304.1 240.2 306 239.8 307.5C239.3 309 238.7 310.6 238.3 311.4C237.9 312.2 237.6 312.5 237.3 312.5C237 312.5 236.7 312.2 236.3 311.4C235.9 310.6 235.3 309 234.8 307.5C234.4 306 233.8 304.1 233.4 302.4C233.1 300.8 232.9 299.1 232.8 297.8C232.7 296.5 232.8 295.6 233 294.7C233.3 293.8 233.8 292.9 234.5 292.2C235.2 291.6 236.4 290.9 237.3 290.9Z" fill="none" stroke="#222" stroke-width="0.6"/>
<path d="M242.4 298.2C242.4 300.2 241.9 302.5 241.3 304C240.7 305.5 239.7 306.6 238.7 307.1C237.8 307.6 236.7 307.7 235.8 307.2C235 306.6 234 305.4 233.4 303.9C232.8 302.4 232.3 300.1 232.3 298.2C232.3 296.4 233 294.5 233.6 292.9C234.1 291.3 234.8 289.3 235.7 288.6C236.6 287.9 237.9 288 238.9 288.7C239.8 289.3 240.7 290.9 241.3 292.5C241.9 294.1 242.4 296.3 242.4 298.2Z" fill="#555" stroke="#333" stroke-width="0.6"/>
<path d="M241.2 298.2C241.2 300.1 241.3 302.3 240.9 303.6C240.4 305 239.4 305.9 238.6 306.5C237.8 307 236.8 307.3 236 306.8C235.2 306.3 234.4 304.9 233.9 303.5C233.4 302 232.9 300 232.9 298.2C233 296.5 233.5 294.7 234 293.2C234.4 291.7 235.1 290 235.9 289.3C236.7 288.7 237.9 288.7 238.7 289.3C239.5 289.9 240.5 291.3 240.9 292.8C241.3 294.2 241.2 296.4 241.2 298.2Z" fill="#0a0a0a" stroke="#000" stroke-width="0.5"/>
</g>
<path d="M266.1 292C266.1 293.4 265.3 295.1 264.2 296.2C263.1 297.4 261.4 298.4 259.7 298.8C258 299.3 255.8 299.2 254.1 298.8C252.3 298.4 250.3 297.5 249.2 296.4C248.1 295.2 247.5 293.4 247.5 292C247.5 290.5 248.2 288.8 249.3 287.7C250.4 286.5 252.2 285.4 254 285C255.7 284.5 258 284.4 259.8 284.9C261.5 285.3 263.3 286.5 264.4 287.7C265.4 288.9 266.2 290.6 266.1 292Z" fill="none" stroke="#3c3c3c" stroke-width="0.55"/>
<path d="M263.5 292C263.5 293 262.9 294.2 262.2 295C261.4 295.9 260.1 296.6 258.9 296.9C257.7 297.2 256.1 297.2 254.8 296.9C253.6 296.6 252.2 296 251.4 295.1C250.6 294.3 250.1 293 250.1 292C250.1 290.9 250.6 289.7 251.4 288.9C252.2 288 253.5 287.3 254.8 286.9C256 286.6 257.7 286.5 259 286.9C260.2 287.2 261.5 288 262.3 288.9C263 289.7 263.6 291 263.5 292Z" fill="none" stroke="#3c3c3c" stroke-width="0.55"/>
<path d="M259.5 292C259.5 292.5 259.2 293.2 258.7 293.6C258.3 294 257.5 294.3 256.9 294.3C256.2 294.3 255.4 294 255 293.6C254.5 293.2 254.2 292.5 254.2 292C254.2 291.4 254.5 290.7 255 290.4C255.4 290 256.2 289.7 256.9 289.7C257.5 289.7 258.3 290 258.7 290.4C259.2 290.7 259.5 291.4 259.5 292Z" fill="none" stroke="#222" stroke-width="0.6"/>
<rect x="231.5" y="201.2" width="42.2" height="70.8" fill="none" stroke="#555" stroke-width="0.7"/>
<text x="241.3" y="241.9" font-size="12.3">12.6</text>
<text x="293.5" y="221" font-size="12.3">M82</text>
<text x="13.5" y="233.8" font-size="11.8" text-anchor="middle" transform="rotate(-90 13.5 233.8)">BrdU</text>
<path d="M8.6 343.3V264.8" stroke="#000" stroke-width="2" fill="none"/>
<path d="M8.6 256.2L3.4 264.8L13.8 264.8Z" stroke="#000" stroke-width="1.4" fill="#fff" stroke-linejoin="miter"/>
<text x="18.9" y="356.6" font-size="10.1">hCD45+</text>
<path d="M37.5 362.4H159.2" stroke="#000" stroke-width="2" fill="none"/>
<path d="M168.4 362.4L159.2 357.9L159.2 366.9Z" stroke="#000" stroke-width="1.4" fill="#fff" stroke-linejoin="miter"/>
<text x="176.3" y="366.9" font-size="12.6">7AAD</text>
<rect x="390.8" y="29.8" width="17.8" height="6.6" fill="#858585"/>
<rect x="390.8" y="45.4" width="17.8" height="4.6" fill="#000"/>
<text x="412.3" y="36.4" font-size="12.4">DMSO, 4 days</text>
<text x="412.3" y="51.5" font-size="12.4">GSI, 4 days</text>
<path d="M387.6 183L395 182.1L399.4 180.7L403 179.2L404.7 177.5L406 171.3L406.9 160.8L407.8 143.1L408.6 125.4L409.5 105.9L410.4 86.4L411.3 71.1L412.2 65.8L413.1 70.1L414 84.3L414.8 102L415.7 117.9L416.6 130.3L417.7 139.2L418.7 145.4L419.8 148.9L420.9 150.9L421.9 152L423 153L424.1 153.7L425.1 154.4L426.2 154.8L427.3 155.5L428.7 156.6L430.1 158.3L431.5 161.2L432.9 164.4L434.3 167.9L436.1 171.5L437.9 175L439.7 178.2L442 180.7L445.5 182.4L465 183L510.2 183L511.1 179.2L511.8 173.6L512.5 179.2L513.2 183V183.1H387.6Z" fill="#858585" stroke="none"/>
<rect x="387.7" y="57.3" width="125.6" height="125.8" fill="none" stroke="#585858" stroke-width="1"/>
<text x="381.7" y="185.3" font-size="6.5" text-anchor="end" font-weight="bold" stroke="#000" stroke-width=".25">0</text>
<text x="381.7" y="161.4" font-size="6.5" text-anchor="end" font-weight="bold" stroke="#000" stroke-width=".25">20</text>
<text x="381.7" y="137.5" font-size="6.5" text-anchor="end" font-weight="bold" stroke="#000" stroke-width=".25">40</text>
<text x="381.7" y="113.5" font-size="6.5" text-anchor="end" font-weight="bold" stroke="#000" stroke-width=".25">60</text>
<text x="381.7" y="89.6" font-size="6.5" text-anchor="end" font-weight="bold" stroke="#000" stroke-width=".25">80</text>
<text x="381.7" y="65.7" font-size="6.5" text-anchor="end" font-weight="bold" stroke="#000" stroke-width=".25">100</text>
<path d="M387.7 183.1h-3.2M387.7 178.3h-1.6M387.7 173.5h-1.6M387.7 168.7h-1.6M387.7 164h-1.6M387.7 159.2h-3.2M387.7 154.4h-1.6M387.7 149.6h-1.6M387.7 144.8h-1.6M387.7 140h-1.6M387.7 135.3h-3.2M387.7 130.5h-1.6M387.7 125.7h-1.6M387.7 120.9h-1.6M387.7 116.1h-1.6M387.7 111.3h-3.2M387.7 106.6h-1.6M387.7 101.8h-1.6M387.7 97h-1.6M387.7 92.2h-1.6M387.7 87.4h-3.2M387.7 82.6h-1.6M387.7 77.9h-1.6M387.7 73.1h-1.6M387.7 68.3h-1.6M387.7 63.5h-3.2M387.7 58.7h-1.6" stroke="#585858" stroke-width="0.7" fill="none"/>
<text x="387.7" y="196.4" font-size="6.5" text-anchor="middle" font-weight="bold" stroke="#000" stroke-width=".25">0</text>
<text x="412.3" y="196.4" font-size="6.5" text-anchor="middle" font-weight="bold" stroke="#000" stroke-width=".25">200</text>
<text x="436.8" y="196.4" font-size="6.5" text-anchor="middle" font-weight="bold" stroke="#000" stroke-width=".25">400</text>
<text x="461.4" y="196.4" font-size="6.5" text-anchor="middle" font-weight="bold" stroke="#000" stroke-width=".25">600</text>
<text x="485.9" y="196.4" font-size="6.5" text-anchor="middle" font-weight="bold" stroke="#000" stroke-width=".25">800</text>
<text x="510.5" y="196.4" font-size="6.5" text-anchor="middle" font-weight="bold" stroke="#000" stroke-width=".25">1000</text>
<path d="M387.7 183.1v2.4M393.8 183.1v1.3M400 183.1v1.3M406.1 183.1v1.3M412.3 183.1v2.4M418.4 183.1v1.3M424.5 183.1v1.3M430.7 183.1v1.3M436.8 183.1v2.4M442.9 183.1v1.3M449.1 183.1v1.3M455.2 183.1v1.3M461.4 183.1v2.4M467.5 183.1v1.3M473.6 183.1v1.3M479.8 183.1v1.3M485.9 183.1v2.4M492.1 183.1v1.3M498.2 183.1v1.3M504.3 183.1v1.3M510.5 183.1v2.4" stroke="#585858" stroke-width="0.7" fill="none"/>
<path d="M387.6 183L403 182.6L404.7 179.8L406 172.2L406.9 161.5L407.8 143.8L408.6 126.1L409.5 106.6L410.4 87.1L411.3 71.5L412.2 65.5L413.1 69.7L414 83.6L414.8 101.3L415.7 117.2L416.6 129.6L417.7 138.5L418.7 144.7L419.8 148.2L420.9 151.8L421.9 150.9L423 152.3L424.1 154.8L425.1 153.6L426.2 155.3L427.3 154.4L428.7 156.2L430.1 158L431.5 161.2L432.9 165.1L434.3 168.6L436.1 172.2L437.9 176.6L439.7 179.6L442 181.7L445.5 182.8L465 183L513.2 183" fill="none" stroke="#000" stroke-width="1.3" stroke-linejoin="round"/>
<text x="463.5" y="84.8" font-size="12.3">D135</text>
<path d="M395 337.2L411.2 337.2L412.1 332L413 315.5L413.9 297.1L414.9 278.7L415.8 260.3L416.7 242L417.8 229.1L418.9 219.9L419.8 217.1L420.7 220.8L421.8 230.9L422.9 243.8L424 254.8L425 264L425.9 275.1L427.2 286.1L428.5 297.1L429.9 306.3L431.4 312.7L432.9 318.3L434 321.4L435.4 322.1L437.3 322.8L439.1 324.7L441 326L443.2 326.5L445.6 328L447.9 329.8L450.1 331.3L452.4 333.5L454.7 335.3L457.5 336.4L461.2 337.2L514.5 337.2V337H395Z" fill="#858585" stroke="none"/>
<rect x="385.8" y="209.7" width="128.7" height="127.3" fill="none" stroke="#686868" stroke-width="1"/>
<text x="379.8" y="339.2" font-size="5.5" text-anchor="end">0</text>
<text x="379.8" y="314.9" font-size="5.5" text-anchor="end">20</text>
<text x="379.8" y="290.6" font-size="5.5" text-anchor="end">40</text>
<text x="379.8" y="266.2" font-size="5.5" text-anchor="end">60</text>
<text x="379.8" y="241.9" font-size="5.5" text-anchor="end">80</text>
<text x="379.8" y="217.6" font-size="5.5" text-anchor="end">100</text>
<path d="M385.8 337h-3.2M385.8 332.1h-1.6M385.8 327.3h-1.6M385.8 322.4h-1.6M385.8 317.5h-1.6M385.8 312.7h-3.2M385.8 307.8h-1.6M385.8 303h-1.6M385.8 298.1h-1.6M385.8 293.2h-1.6M385.8 288.4h-3.2M385.8 283.5h-1.6M385.8 278.6h-1.6M385.8 273.8h-1.6M385.8 268.9h-1.6M385.8 264h-3.2M385.8 259.2h-1.6M385.8 254.3h-1.6M385.8 249.4h-1.6M385.8 244.6h-1.6M385.8 239.7h-3.2M385.8 234.9h-1.6M385.8 230h-1.6M385.8 225.1h-1.6M385.8 220.3h-1.6M385.8 215.4h-3.2M385.8 210.5h-1.6" stroke="#686868" stroke-width="0.7" fill="none"/>
<text x="385.8" y="349.4" font-size="5.5" text-anchor="middle">0</text>
<text x="411" y="349.4" font-size="5.5" text-anchor="middle">200</text>
<text x="436.1" y="349.4" font-size="5.5" text-anchor="middle">400</text>
<text x="461.3" y="349.4" font-size="5.5" text-anchor="middle">600</text>
<text x="486.4" y="349.4" font-size="5.5" text-anchor="middle">800</text>
<text x="511.6" y="349.4" font-size="5.5" text-anchor="middle">1000</text>
<path d="M385.8 337v2.4M392.1 337v1.3M398.4 337v1.3M404.7 337v1.3M411 337v2.4M417.3 337v1.3M423.5 337v1.3M429.8 337v1.3M436.1 337v2.4M442.4 337v1.3M448.7 337v1.3M455 337v1.3M461.3 337v2.4M467.6 337v1.3M473.9 337v1.3M480.2 337v1.3M486.4 337v2.4M492.7 337v1.3M499 337v1.3M505.3 337v1.3M511.6 337v2.4" stroke="#686868" stroke-width="0.7" fill="none"/>
<path d="M411.2 337.2L412.1 332L413 315.5L413.9 297.1L414.9 278.7L415.8 260.3L416.7 242L417.8 229.1L418.9 219.9L419.8 217.1L420.7 220.8L421.8 230.9L422.9 243.8L424 254.8L425 264L425.9 275.1L427.2 286.1L428.5 297.1L429.9 306.3L431.4 312.7L432.9 318.3L434 321.4L435.4 322.1L437.3 322.8L439.1 324.7L441 326L443.2 326.5L445.6 328L447.9 329.8L450.1 331.3L452.4 333.5L454.7 335.3L457.5 336.4L461.2 337.2L514.5 337.2" fill="none" stroke="#000" stroke-width="1.2" stroke-linejoin="round"/>
<text x="472.5" y="233.2" font-size="12.3">M82</text>
<text x="368.5" y="263.2" font-size="13.8" text-anchor="middle" transform="rotate(-90 368.5 263.2)">events</text>
<path d="M364.1 337.3V308.7" stroke="#000" stroke-width="2" fill="none"/>
<path d="M364.1 297.3L358.8 308.7L369.4 308.7Z" stroke="#000" stroke-width="1.4" fill="#fff" stroke-linejoin="miter"/>
<text x="371" y="365.7" font-size="10">hCD45+</text>
<path d="M414.4 362.5H447.6" stroke="#000" stroke-width="2" fill="none"/>
<path d="M458.6 362.5L447.6 358.3L447.6 366.7Z" stroke="#000" stroke-width="1.4" fill="#fff" stroke-linejoin="miter"/>
<text x="464.5" y="365.9" font-size="11.2">FSC</text>
<text x="114" y="433.6" font-size="13" text-anchor="middle">DMSO, 4days</text>
<text x="267.5" y="433.4" font-size="13" text-anchor="middle">GSI, 4days</text>
<path d="M92.8 541.3h.8M107.8 533.4h.8M101 550.1h.8M62.6 544.1h.8M76.3 543.4h.8M93.1 541.4h.8M89 540.4h.8M86.9 547.8h.8M97.7 535.7h.8M86.5 539h.8M85.7 534.4h.8M100.4 545.4h.8M86.4 539.6h.8M82.1 540.9h.8M130.8 523.4h.8M72.8 552.3h.8M95.9 530.6h.8M63 554.8h.8M81.6 546.4h.8M88 540h.8M86.2 542.4h.8M104.2 538.9h.8M87.6 540.3h.8M79.8 541h.8M88.1 557.1h.8M102.5 541.7h.8M109.7 545.2h.8M90.7 542.1h.8M73.7 549.7h.8M83.9 533.8h.8M90.8 546.8h.8M90.6 540h.8M94 550.1h.8M84 548.8h.8M101.3 536.9h.8M90.2 538.1h.8M95.8 539.2h.8M102.9 534.4h.8M110 535.7h.8M77.1 540.6h.8M96.6 535.5h.8M111.5 546.7h.8M94.7 532h.8M87.7 538.9h.8M64.5 553.6h.8M116.6 532.2h.8M98.5 550.3h.8M75.5 545h.8M91.5 546.4h.8M73.1 549.7h.8M86.6 551.2h.8M67.2 545.7h.8M81.5 543.5h.8M97.4 536.9h.8M123.6 529.1h.8M98.9 548.3h.8M100.5 539.1h.8M77.2 545.2h.8M96.7 542.5h.8M95.6 546h.8M76.5 540.5h.8M106.7 535.3h.8M77.2 540.3h.8M100.6 532.4h.8M76.7 554.6h.8M89.7 543.9h.8M79.7 544.7h.8M81.5 545.6h.8M98 532.1h.8M76.1 532.3h.8M107.6 538.1h.8M87.8 543.6h.8M101.1 542.7h.8M99.1 539.7h.8M86.4 544h.8M67.5 542.6h.8M96.7 542h.8M98.6 553.3h.8M112.2 547.2h.8M76.6 546.6h.8M101 538.9h.8M86.4 541.9h.8M105.7 521.5h.8M104.5 547h.8M87.1 548.3h.8M75.4 555.4h.8M127.8 526.4h.8M106.2 538.6h.8M83.6 541.7h.8M85.5 535.7h.8M87.8 548h.8M92 546.3h.8M68.2 542.7h.8M96.2 548.9h.8M73.1 544h.8M74.1 552.5h.8M92.5 543h.8M79.6 548.8h.8M88.4 538.6h.8M92.3 538.1h.8M100.4 545h.8M79.1 550.7h.8M88.9 538.7h.8M76.1 535.4h.8M73.3 550.5h.8M103.7 535.2h.8M90.1 545.9h.8M98.1 544.4h.8M104 545.1h.8M78.1 549.6h.8M88.3 548.1h.8M84.1 551h.8M105.2 533.2h.8M80.9 547.8h.8M94.4 543.3h.8M98.8 532.6h.8M98.1 549.5h.8M102.4 543.1h.8M84.9 547.7h.8M87 532.9h.8M80.1 545.9h.8M81.3 539.2h.8M85 542.2h.8M88.9 543.4h.8M90.2 550.5h.8M89.8 546.4h.8M72.1 527.3h.8M82.8 550.3h.8M83.6 540.8h.8M71.9 554.8h.8M81.1 547.7h.8M102.7 543.8h.8M117.2 535h.8M100.4 545.5h.8M79.5 546.7h.8M80.7 538.7h.8M91.9 537.4h.8M109.8 532.7h.8M80.9 546.6h.8M81.3 546.2h.8M80.1 536h.8M107.8 541.7h.8M90 540.1h.8M86.1 546.7h.8M69.9 543.3h.8M76.4 556.2h.8M74.3 556.2h.8M87 544.5h.8M105.6 545.4h.8M100.2 533h.8M102.8 551.9h.8M86.7 540.9h.8M73.8 555.2h.8M91.8 543h.8M99.4 540.7h.8M107.2 531.9h.8M99.5 533.7h.8M106.3 537h.8M103.9 536.6h.8M93.2 550.7h.8M76.3 547.9h.8M77.1 553.1h.8M80.2 543.5h.8M85.4 553.1h.8M74.5 547.6h.8M83.7 541.3h.8M77.8 545.7h.8M90.5 532.2h.8M91 534.7h.8M75.4 547h.8M84.7 551.9h.8M81.8 533h.8M67.1 551.1h.8M91.3 550.7h.8M81 550.7h.8M74.2 557.1h.8M87.1 539.4h.8M90.3 555.8h.8M77 538.2h.8M74.8 539.4h.8M87.3 546.7h.8M85.9 546h.8M103.4 537.7h.8M71.7 532.2h.8M91.1 538.3h.8M84.8 547.8h.8M94 531.1h.8M75.6 548h.8M86.1 552.7h.8M81.5 531.1h.8M103.2 528.1h.8M75.4 550.3h.8M91.1 547h.8M95 536.9h.8M104.3 527.4h.8M80.4 548.2h.8M89.8 536.7h.8M108.5 548.8h.8M75.8 550h.8M79.8 543.2h.8M100.8 541.4h.8M86.6 545.1h.8M72.8 556.9h.8M78.2 556.1h.8M82 542.4h.8M107.3 540h.8M79.7 542.5h.8M95.9 555.2h.8M96 539h.8M73.4 543.2h.8M86.5 546.2h.8M79.5 555.5h.8M75.6 542.3h.8M94.5 545.6h.8M82.9 552.3h.8M116.4 550.1h.8M89.5 557.6h.8M88.7 553.3h.8M85.4 546.1h.8M94.8 529.6h.8M85.3 557h.8M100 543h.8M90.5 553.2h.8M92.4 529.3h.8M75.7 545.3h.8M89.9 540.3h.8M86.6 556.3h.8M100.2 544.9h.8M88.2 544.4h.8M92.7 544.4h.8M78.6 552.2h.8M77.3 546.7h.8M83.3 537.1h.8M95.9 541.3h.8M72.9 547.6h.8M94.7 556.3h.8M80.6 551.1h.8M75.4 541.4h.8M86.8 547.3h.8M100 538.8h.8M102.3 546.9h.8M76.7 545.9h.8M80.9 552.3h.8M99.9 538.9h.8M81.7 548.2h.8M78 537.8h.8M75.5 549.9h.8M90.5 555.9h.8M64.3 554.1h.8M73.1 556.4h.8M97 542.4h.8M107.1 536.1h.8M81.1 538.4h.8M79.5 547.2h.8M96.7 550.7h.8M84.5 539.8h.8M83.7 542.2h.8M82 542.8h.8M76.7 546.7h.8M81.4 544.6h.8M70.1 550h.8M95.4 546.5h.8M80.9 537.9h.8M71.2 540.3h.8M79.7 544.1h.8M65.1 555.1h.8M68.1 544.6h.8M78.7 552.5h.8M111.7 534.9h.8M84.5 542.2h.8M85.4 543.5h.8M119.8 527.5h.8M86.6 538.8h.8M92.6 539h.8M95.4 534.3h.8M115.2 538h.8M65.2 555.3h.8M82 537.5h.8M93.7 538.8h.8M97.5 537.5h.8M99.6 541.8h.8M92.6 543.8h.8M83.3 542.7h.8M93.8 547.4h.8M109.8 529.9h.8M102 539.6h.8M91 537.6h.8M109.2 532.3h.8M87 539.2h.8M112.8 546h.8M71.1 545.5h.8M92.7 539.7h.8M83.5 537.7h.8M91.2 535.4h.8M98.7 557.9h.8M83.8 556.7h.8M92.8 538h.8M83.6 538.5h.8M89.5 548.5h.8M99.9 538.7h.8M72.7 547.7h.8M109.5 540h.8M87.2 529.6h.8M82.4 549.4h.8M75.9 556.8h.8M80.7 539.9h.8M80.6 545.4h.8M100.8 536.5h.8M65.2 549.8h.8M94.7 553h.8M73.6 558.4h.8M96.7 544.8h.8M78.2 540.5h.8M75.8 553.9h.8M90.8 550.7h.8M111.3 537.7h.8M87.4 557.6h.8M71.3 545.5h.8M83.3 542.7h.8M89.8 537.6h.8M102.9 530.4h.8M77.6 535.1h.8M70.1 553.1h.8M96 540.4h.8M98.8 545.4h.8M80.6 545.8h.8M92.7 556.8h.8M82.4 548.2h.8M95 550.6h.8M93.4 550h.8M74.4 546h.8M63.3 550.5h.8M117.8 537.5h.8M89.1 545.6h.8M89.9 534.3h.8M79.1 545.3h.8M90.2 537.4h.8M86.6 539.3h.8M71.1 544.1h.8M77.7 552.7h.8M105.1 543.3h.8M85.3 540.9h.8M67.9 545.9h.8M108 546.6h.8M90.9 541.5h.8M88.1 547h.8M87.9 547.1h.8M78.2 547.1h.8M83.5 552.8h.8M72.2 557.5h.8M86.9 540.8h.8M88.3 544.8h.8M85 547.8h.8M80.6 534.3h.8M96.9 541.4h.8M109.3 540.8h.8M79.2 550.3h.8M116.4 543.8h.8M74 547.3h.8M67.5 554.4h.8M95.2 534.9h.8M93.8 549h.8M98.3 536.5h.8M79.2 538.7h.8M71.5 550.8h.8M88.5 553h.8M91.5 540.8h.8M90.1 543.3h.8M75.2 540.3h.8M96.1 535h.8M95.5 546.4h.8M83.1 534.1h.8M93.3 552.4h.8M77.5 538.2h.8M101.9 541.2h.8M80 554.8h.8M84.5 548.2h.8M82.9 540.3h.8M90.8 537.3h.8M65.4 546.6h.8M103.8 547.3h.8M115.8 543.3h.8M108.6 540.1h.8M82.4 548.8h.8M75.9 552.5h.8M82.3 547.4h.8M77.1 546.1h.8M100.5 539.1h.8M79.4 548.4h.8M99.2 539.7h.8M73.1 537.4h.8M70.9 556.2h.8M86.9 547.7h.8M101.7 542.3h.8M94.2 538.9h.8M67.5 554.1h.8M86.8 548.4h.8M74.4 546.9h.8M113.7 531.1h.8M89.3 552.8h.8M85 545.8h.8M60.8 557h.8M82.4 554.5h.8M86.8 541.8h.8M93.6 540.9h.8M81.4 556.6h.8M100.5 541.4h.8M98.3 546.9h.8M95.4 542.4h.8M88.9 546.6h.8M95.2 544.5h.8M81 545.5h.8M93.8 535.7h.8M87.9 549.3h.8M90.2 541.5h.8M87.7 540.8h.8M100.5 538h.8M66.8 541.7h.8M91.8 544.5h.8M82 536.7h.8M86.1 538.9h.8M79.6 546.4h.8M78.2 548.9h.8M78.6 543.5h.8M85.1 554.9h.8M108.1 545h.8M78.6 546.7h.8M99.6 546.4h.8M67.3 549.5h.8M78.6 551.9h.8M96.1 538.2h.8M115.3 534.7h.8M119.1 534.3h.8M86.9 557.4h.8M81.3 542.7h.8M106.8 538.6h.8M94.1 533.8h.8M110.8 544.5h.8M92.5 547.7h.8M81.6 542.6h.8M68 552.2h.8M103.7 545.6h.8M99.7 545.7h.8M76.3 538.5h.8M96.2 543h.8M100.5 538.8h.8M76.8 550.3h.8M80.9 534.9h.8M80.3 540.3h.8M73.8 544.3h.8M100.1 556.8h.8M110 535.2h.8M102.5 539.6h.8M93.1 538.1h.8M87.1 533h.8M110.8 532.6h.8M95.4 538.1h.8M91.4 535.2h.8M83.2 551.6h.8M95.6 528.8h.8M98.8 532.2h.8M91.6 546.6h.8M79.8 544.2h.8M84.9 547.7h.8M99.6 550.2h.8M92.2 556.5h.8M84.7 550.3h.8M86.4 545.1h.8M76.3 550h.8M113.8 538h.8M87.7 544.2h.8M97.1 540.2h.8M87.9 545.6h.8M104.6 546h.8M74.6 543.5h.8M88.3 549.8h.8M100.3 539.3h.8M115.1 535.5h.8M105.9 548.8h.8M108.3 539.9h.8M95.3 531.7h.8M65.4 546.2h.8M97.2 548.8h.8M86.7 551.5h.8M95.4 552.4h.8M67.7 544.1h.8M75.8 540.4h.8M109 532h.8M77.5 544.3h.8M99.3 537.9h.8M97.4 545.3h.8M79.9 530.3h.8M76.3 538.9h.8M108.8 533.5h.8M74.4 550.4h.8M88.7 537.6h.8M101.9 546.5h.8M91.6 538h.8M76.9 533.3h.8M92.9 545.4h.8M76.3 547.5h.8M129.8 524.9h.8M66.3 554.3h.8M82.6 542.3h.8M95.9 541h.8M100.7 544.1h.8M102.8 540.8h.8M66.3 557.2h.8M91.2 533.8h.8M88.8 549.8h.8M75 548h.8M78.6 539.9h.8M80.1 554.9h.8M96.7 541.5h.8M87 545.2h.8M91.7 544.3h.8M66.1 556.4h.8M77.1 529.4h.8M97 533.4h.8M86.2 544h.8M80.5 549.8h.8M84.5 543.2h.8M75.8 545.5h.8M74.8 548h.8M104.9 546.3h.8M93.5 533.3h.8M101.1 546.8h.8M114.3 521.5h.8M88.2 541.8h.8M101.9 532.8h.8M100.7 527h.8M88.3 553.3h.8M80.1 550.3h.8M89.3 533.8h.8M80 554h.8M103.1 535.8h.8M102.4 535.2h.8M91.2 543h.8M72 550.7h.8M83 526.8h.8M77.4 541.2h.8M77.3 540.4h.8M79.2 529.8h.8M99.4 541.4h.8M91.3 541.3h.8M88.8 542h.8M74.1 537.6h.8M89 550.7h.8M91 554.2h.8M70.6 547.1h.8M80.1 554.6h.8M109.7 534.5h.8M97.4 539.8h.8M75.2 546.8h.8M74.7 558.3h.8M95.5 550h.8M92.6 526.2h.8M98.3 541.8h.8M100.9 552.1h.8M74.9 553h.8M92.3 541.7h.8M84.4 548.7h.8M95.4 546.5h.8M82.8 536.5h.8M104.9 548.2h.8M80.8 545.8h.8M98.3 529.2h.8M91.5 538.3h.8M114.1 536.9h.8M90.7 540.4h.8M90.3 531.1h.8M71.6 538.5h.8M99.5 540.2h.8M102.7 526h.8M80.3 556.1h.8M77.9 534.1h.8M78.5 544.3h.8M87.8 553h.8M105 549.9h.8M95.4 538.5h.8M81.7 535.6h.8M104.3 548.1h.8M89.1 537.6h.8M96.6 545h.8M90 535.5h.8M91.1 539.3h.8M97.4 545.5h.8M93.6 539.5h.8M107.5 543.9h.8M104.2 545.3h.8M96.5 544.3h.8M74.3 535.3h.8M76 551.5h.8M99.6 542h.8M89.1 556.3h.8M82.9 533.2h.8M68.2 547.3h.8M96.9 546.6h.8M85.2 550.4h.8M87.4 539.2h.8M83.2 550.5h.8M100.2 532.9h.8M75.4 548.3h.8M115.1 528.5h.8M72 551.3h.8M94.5 538h.8M87.7 547.4h.8M65.8 550h.8M95.7 548.2h.8M102.9 539.4h.8M69.6 558.3h.8M97.8 536.9h.8M101.2 547.5h.8M86.2 528.3h.8M82 540.5h.8M77.3 546.4h.8M74.2 550.5h.8M112.1 529.2h.8M101.3 536.7h.8M94.9 541.2h.8" stroke="#5a5a5a" stroke-width="0.75" fill="none"/>
<path d="M90.1 543.9h.8M85.7 544.4h.8M81.8 548.6h.8M88.5 540.2h.8M69.4 557.3h.8M83 556.2h.8M71.9 551.5h.8M84.7 556.2h.8M79.6 547h.8M85.6 547.5h.8M74.1 553.6h.8M65.1 547.2h.8M90.7 544.7h.8M77.5 551.2h.8M88.8 549.8h.8M72.5 547.8h.8M88.2 546.9h.8M75.1 553.9h.8M88.9 557.3h.8M71.6 547.4h.8M74.6 551.6h.8M76.3 554.8h.8M59 557.3h.8M75 548.7h.8M84.4 549.1h.8M72.1 557.4h.8M84.5 545.9h.8M81.6 543.6h.8M70.4 549.4h.8M82.9 548.9h.8M73.9 543.8h.8M82.9 544.8h.8M89.3 549.7h.8M76.8 546.8h.8M88.9 548.8h.8M92.8 548.3h.8M75.4 547.1h.8M74.5 551.2h.8M82 551.4h.8M83.5 543.5h.8M78.4 545h.8M83.8 542.3h.8M75.5 545.9h.8M75.2 548.7h.8M91.8 545.6h.8M68.8 549.7h.8M85.8 550.4h.8M81.9 557.8h.8M88.6 547.8h.8M89.5 541.1h.8M78.7 545.3h.8M81.4 556.1h.8M76.1 557h.8M72 557h.8M66.8 547.6h.8M87.8 547.1h.8M81.1 548.7h.8M81.4 547.9h.8M72.4 549.1h.8M80.9 544.7h.8M83.6 556.4h.8M67.2 548.9h.8M77.8 549.5h.8M80.7 545.5h.8M79.7 549.1h.8M79.3 556.2h.8M81 542.1h.8M67.8 554h.8M77.3 546.7h.8M69.5 549.6h.8M79.3 546h.8M77.3 553.6h.8M86.1 550.4h.8M78.7 543h.8M86 554.7h.8M89.9 552.5h.8M82.2 550.3h.8M79.9 554.8h.8M86 546.4h.8M80 541.6h.8M74.3 548.7h.8M99 541.7h.8M87.1 548h.8M77.7 552.3h.8M64.5 556.2h.8M95 547.5h.8M79.5 549.8h.8M85.2 545.8h.8M80.9 551.1h.8M77.3 551.3h.8M82.6 551.8h.8M72.3 548h.8M76.7 555.1h.8M81.9 541.1h.8M82.6 542.6h.8M72.9 551h.8M91.1 554.3h.8M77.2 548.2h.8M94.9 541.7h.8M92.1 548.3h.8M80.7 554.8h.8M83.8 544.5h.8M68.2 551.3h.8M84 554.5h.8M84.8 555h.8M86.2 548.8h.8M83.4 550.2h.8M75.1 549.4h.8M81 546.8h.8M68.6 544.5h.8M83.9 550.6h.8M80.8 543.5h.8M86.6 546h.8M84.1 546.2h.8M61.7 549.2h.8M91.5 553.1h.8M82 540.8h.8M77 548.3h.8M83.6 547.8h.8M82.7 541h.8M75 556.5h.8M68.7 555.4h.8M97.9 548.6h.8M69.2 556.7h.8M65.6 553.3h.8M76.8 555.3h.8M89.2 548.2h.8M93.9 550.9h.8M76.3 545.2h.8M99.1 543.6h.8M83.2 547.9h.8M76.3 542.3h.8M78.9 548.7h.8M87.6 545.2h.8M67.9 546.4h.8M79.7 550.2h.8M85.6 546.2h.8M84.2 548.9h.8M93.1 546.3h.8M81.1 551.4h.8M89.5 543h.8M76.3 548.4h.8M63.4 558.1h.8M88.3 547.5h.8M106.2 549.9h.8M95.7 553.3h.8M87 541.2h.8M91.9 548.7h.8M70.7 551h.8M85.9 552.4h.8M81.4 546.3h.8M85.9 544.4h.8M79.4 552.6h.8M68.8 552.8h.8M64.8 547.6h.8M70.4 550.4h.8M85.6 547.7h.8M87.1 548.1h.8M78.4 551.6h.8M78.2 550h.8M88.1 544.9h.8M89 542.2h.8M78.3 541.3h.8M75.9 557.1h.8M82.8 554.3h.8M68.6 546.5h.8M83.6 552.1h.8M86.5 540.1h.8M84 547.9h.8M80.9 551h.8M77.8 541.6h.8M71.7 543.9h.8M69.8 550.3h.8M90.2 543.8h.8M74.1 544.8h.8M66.6 551.8h.8M76.2 548.6h.8M72.5 552.6h.8M70.7 553.3h.8M74.9 553.6h.8M73.1 552.3h.8M83.4 548h.8M92.7 547.4h.8M73.1 553.5h.8M73.6 547.7h.8M80.1 549.8h.8M93.3 538.5h.8M78 554.6h.8M78.8 550.7h.8M91.9 541.1h.8M80.3 552.6h.8M75.4 541.8h.8M72.2 551.4h.8M81.5 557.2h.8M90.3 539.9h.8M88.1 551.7h.8M92.6 545.9h.8M75.7 550.5h.8M92.1 549.6h.8M93.2 550.1h.8M75.4 545.2h.8M94.4 539.3h.8M77.3 548h.8M72.9 547.7h.8M79.5 546.7h.8M81 553.1h.8M73.6 548.3h.8M66.4 554.8h.8M85.3 554.9h.8M86.8 546.5h.8M77 548.1h.8M70.5 554.3h.8M75.3 546.6h.8M84 548.8h.8M75.4 548.8h.8M76.2 555.9h.8M87.8 544.2h.8M79.7 555.4h.8M77.8 557.6h.8M83.5 551.4h.8M63.8 556h.8M82.7 551.2h.8M83.8 550.7h.8M76 553.9h.8M80.5 544.1h.8M72.1 551.2h.8M82.6 538.3h.8M63.9 556.9h.8M68 550.1h.8M75.3 552.5h.8M91 554.4h.8M72.1 556.2h.8M70.5 552.2h.8M81.3 551.6h.8M73.8 556.4h.8M79.5 549h.8M77.9 544.5h.8M85.6 549.5h.8M83.6 557h.8M73.2 549h.8M80.1 552.9h.8M78.6 553.6h.8M83.6 540.2h.8M74.7 540.6h.8M77.8 547.5h.8M84.6 548.9h.8M79.5 554.9h.8M84.6 542.4h.8M74.6 551.5h.8M93.3 545.6h.8" stroke="#3a3a3a" stroke-width="0.75" fill="none"/>
<path d="M88 541.9h.8M99.2 538.4h.8M93.5 538.3h.8M83.6 538.7h.8M97.7 536.9h.8M96.4 540.8h.8M101.4 528.2h.8M78.7 538h.8M88.1 543.9h.8M119.7 540.8h.8M105.9 539h.8M85.5 543.4h.8M64.5 548.8h.8M90.1 542.8h.8M77.9 538.6h.8M82.5 541.7h.8M94.1 538.4h.8M94.1 542.3h.8M76.4 542.7h.8M71.8 541.8h.8M100.6 535.8h.8M111.8 538.3h.8M100.4 538.9h.8M100.1 542.7h.8M91.3 538.3h.8M83.6 549h.8M87.9 539.2h.8M81.7 535.7h.8M84.1 542.8h.8M84.3 538.7h.8M94.8 541.3h.8M84.9 542.6h.8M78.6 545.9h.8M78.4 541.4h.8M91.6 538.6h.8M76.6 551h.8M107.8 530.6h.8M91.4 535.4h.8M93.7 534.9h.8M96.8 541.2h.8M110 541.3h.8M84.6 545.1h.8M84.6 541.1h.8M84.1 534.9h.8M97.1 531.5h.8M87.2 543h.8M91.3 534.3h.8M82.4 544.5h.8M102.9 544.1h.8M68.7 546.2h.8M84.4 544.5h.8M70.2 543.7h.8M98.3 536.5h.8M85.8 537.6h.8M103.1 533h.8M79.3 541.2h.8M86.3 549.2h.8M93.2 536.7h.8M96.8 540.5h.8M93.3 539.6h.8M95.4 535h.8M75.9 541.5h.8M77.1 545.6h.8M112.8 540.9h.8M95.2 540.8h.8M82 537.1h.8M96.4 533.7h.8M93.5 539.3h.8M98.8 539h.8M91.2 538.1h.8M69.8 543h.8M98.2 542.9h.8M106.2 533.7h.8M79 545.2h.8M84.7 551.3h.8M93.7 534h.8M83.5 547.7h.8M68.6 545.1h.8M73.7 549.6h.8M84.8 537.6h.8M70 541.5h.8M60 544.3h.8M115.6 536.1h.8M86.9 536.7h.8M94 538h.8M80.1 547.6h.8M95.2 536.2h.8M107.3 537h.8M95.9 540h.8M103.8 540.2h.8M85.9 544h.8M85.4 541.9h.8M109.3 532.9h.8M77.9 541.3h.8M84.1 546.5h.8M71.3 552.7h.8M108.6 535.3h.8M92.2 538.7h.8M97.9 541.5h.8M98.8 541.8h.8M112.7 535.6h.8M98.2 538.3h.8M90.5 541.2h.8M89.4 541.9h.8M80 541.8h.8M82.9 537.4h.8M81.7 540.2h.8M88.3 534.9h.8M87 536.8h.8M80.4 543h.8M103 539.1h.8M84.3 539.9h.8M105.7 531.4h.8M103.4 532.3h.8M82.6 542.1h.8M87.4 547.3h.8M95.8 539.2h.8M101.2 538.5h.8M80.5 546.5h.8M107.6 542.1h.8M76.2 550.3h.8M85.1 544.3h.8M104 546.9h.8M71 540.2h.8M103.9 539.8h.8M86.3 530.1h.8M95.2 538.8h.8M59.3 556.4h.8M60.6 543.9h.8M89.9 541.4h.8M98.9 537.8h.8M79.5 541.1h.8M65.3 540.9h.8M113.2 533.5h.8M89.1 547.9h.8M102.4 538.6h.8M98.6 537.9h.8M79.4 546.3h.8M91.6 546.3h.8M86.9 539.7h.8M94.1 539h.8M86.3 537.8h.8M93 541.2h.8M111.5 536.4h.8M69.4 546.1h.8M116.9 533.8h.8M80.6 541.6h.8M87.8 535.2h.8M96.8 535.9h.8M68.3 541.8h.8M97.5 546.4h.8M104.7 538.5h.8M84 540.6h.8M101.4 536.4h.8M94.9 543.3h.8M79.3 540.3h.8M95.3 539.5h.8M88.5 538.8h.8M89.3 547.7h.8M106 531.4h.8M90.6 540.7h.8M90.4 535.2h.8M88.5 541.4h.8M82 543.2h.8M61.3 540.1h.8M91.2 541.8h.8M88 539.1h.8M92.2 544.2h.8M100.6 538.2h.8M84.5 545.6h.8M96.4 542.7h.8M86.7 537.8h.8M92.2 537.7h.8M103.5 541.2h.8M64.3 547.9h.8M105.7 541.5h.8M84.4 538.3h.8M101.4 542.2h.8M90.7 536h.8M72 544.9h.8M80.3 539.7h.8M95.2 543.5h.8M65.7 542.5h.8M105.3 537.5h.8M86 543.7h.8M76.6 538.3h.8M90.3 546.4h.8M102 538.2h.8M101.9 536.7h.8M76.1 536.7h.8M93.2 543.3h.8M94.4 539.5h.8M85.3 545.5h.8M89.5 535.1h.8M106.2 535h.8M94.6 539.6h.8M102.4 539.1h.8M104.5 538.6h.8M84.6 539.6h.8M97.7 535.9h.8M100.9 537.5h.8M79.1 539.2h.8M88.3 547.6h.8M99.1 538.9h.8M79.3 549.8h.8M86.7 541.1h.8M85 546.5h.8M92.1 538.4h.8M92.2 536.3h.8M77.6 542.2h.8M113.4 531.9h.8M88.3 534.8h.8M92 540.9h.8M98.7 533.8h.8M82.9 539.4h.8M87.1 549.8h.8M87.6 540.8h.8M84 544.7h.8M120.2 539.3h.8M108.1 533h.8M102.5 538.3h.8M104.8 541.8h.8M97.7 532.6h.8M91.6 538.3h.8M95.3 539.7h.8M102.4 532.1h.8M81.3 541.8h.8M93.8 538.2h.8M89.7 540.8h.8M102.4 537.8h.8M92.9 533h.8M59.1 540.7h.8M94.2 530.9h.8M94.8 539.2h.8M90 537.7h.8M85 544.6h.8M94.2 539.6h.8M84.2 542.4h.8M104 537.8h.8M85.7 536.8h.8M91.2 536.8h.8M73 547h.8M82.6 534.1h.8M81.5 549.1h.8M88.7 535.7h.8M77 545.7h.8M94.8 540.4h.8M87.7 542.8h.8M108.2 539h.8M88.1 535.5h.8M95.3 545.5h.8M97.6 534.3h.8M92.2 545.1h.8M82.5 543.8h.8M104.3 544.1h.8M71.2 537.3h.8M94.4 542.4h.8M85.8 541.2h.8M85.2 546h.8M63.9 546.4h.8" stroke="#2e2e2e" stroke-width="0.75" fill="none"/>
<path d="M117.7 506.5h.8M145.7 506h.8M170.7 482.1h.8M83.7 554.1h.8M88 543.5h.8M77.9 552.8h.8M92 539.5h.8M90.2 545.8h.8M101.3 533.7h.8M151.3 482.8h.8M113.3 546.4h.8M165.4 512.2h.8M124.8 527.7h.8M123.1 500.2h.8M125.7 520.1h.8M81.5 533.8h.8M172.7 510.8h.8M85.4 545.3h.8M161 471.5h.8M106.9 527.6h.8M120.5 511.3h.8M110.3 541.5h.8M89.5 545.3h.8M124.5 502.8h.8M154 489.3h.8M120.4 529.9h.8M87.9 545.2h.8M156 492.3h.8M86.2 533.1h.8M82 550.7h.8M134.4 528.7h.8M87.7 532.1h.8M104.1 529.7h.8M98.4 523.3h.8M171.8 467.7h.8M126.8 482h.8M168.7 479.3h.8M117.9 523.3h.8M147.5 530h.8M106.4 532.7h.8M164.2 506.2h.8M146.6 528.1h.8M119.8 519.7h.8M106.4 533.9h.8M117.2 527.4h.8M116.2 528h.8M106 537.9h.8M115.6 526.4h.8M71 538.9h.8M92.8 542.3h.8M128.4 509.7h.8M79.5 549.5h.8M98.8 537.3h.8M157.1 501.6h.8M160 473.5h.8M149.8 506.4h.8M155.5 488h.8M80.3 537.5h.8M126.8 544.9h.8M100.9 552.6h.8M89.8 548.5h.8M153.9 512.3h.8M142.6 478.8h.8M85.6 538.3h.8M133.6 509.6h.8M112.6 531.9h.8M117.6 526.4h.8M142.2 484.1h.8M81.4 542.7h.8M129.3 508.7h.8M165 493.8h.8M81 541.9h.8M94.7 545.8h.8M116.9 522.6h.8M83.8 532.5h.8M102.3 515.2h.8M165.4 495.2h.8M100.8 532.8h.8M144.2 503.8h.8M126.6 518.7h.8M114.5 534.4h.8M117.4 515.5h.8M95.4 535.8h.8M134.7 529.5h.8M110.6 525h.8M157.1 504.3h.8M84.3 547.3h.8M159.9 515.4h.8M75.2 544.5h.8M79 539.6h.8M102 520.6h.8M84.3 544.3h.8M86.7 518.9h.8M171 485.2h.8M147.2 487.4h.8M167.8 484.8h.8M93.4 547.4h.8M128.3 514.9h.8M80.5 545h.8M94.9 533.5h.8M154.3 492.8h.8M134.4 518h.8M127.6 501.2h.8M83.8 554h.8M83 547.7h.8M140.5 500.5h.8M161.8 486.1h.8M124.9 510.6h.8M95.6 512.8h.8M132.8 531.7h.8M91.6 536.4h.8M75.9 545.4h.8M128 504.8h.8M127.2 526h.8M112.1 521.7h.8M136.8 507h.8M97.2 520.8h.8M164.3 501.5h.8M140.7 520h.8M130.1 525.8h.8M137.5 523.9h.8M141.9 486.6h.8M82.9 549.1h.8M76.3 538.3h.8M144.8 482.3h.8M107.6 524.8h.8M116.8 521.1h.8M76.8 549.7h.8M120.7 515.5h.8M163.2 487.8h.8M77.6 536.4h.8M129.1 514.5h.8M113.7 513.9h.8M84.1 556.1h.8M123.9 537.9h.8M170.6 476.4h.8M155.5 513.4h.8M146.5 511.3h.8M155.1 497.9h.8M73 538.3h.8M129.1 512.4h.8M124.8 529.8h.8M84.2 542.3h.8M122.9 490.5h.8M156.7 521h.8M125.2 515.9h.8M80.6 539.7h.8M151.4 481.3h.8M110.5 539.6h.8M131.9 513.6h.8M106.4 521.1h.8M80.7 542.5h.8M94.3 528.9h.8M74.9 545.3h.8M155.7 513.4h.8M118.4 518.8h.8M120.5 539.6h.8M81.5 556.6h.8M112.7 518.5h.8M109.1 534.3h.8M78 547.3h.8M87.6 536.2h.8M142.2 486.6h.8M139.3 536.9h.8M119.6 498h.8M89.7 541.7h.8M84.4 536.3h.8M103.4 517.9h.8M77.6 553.2h.8M114.1 522.1h.8M88.7 531.7h.8M92.7 535.7h.8M106.3 537.3h.8M167.2 475.9h.8M95.8 534.9h.8M154.7 496.5h.8M160.7 479.3h.8M103 520h.8M161.2 490.6h.8M78.9 535.9h.8M133.4 516.8h.8M153.3 512.4h.8M172.9 516.8h.8M75.4 540.2h.8M86.3 520.4h.8M155.3 464.5h.8M125.8 502.2h.8M140.6 486.9h.8M85.5 546.7h.8M155.8 486.8h.8M108.2 544.6h.8M94.8 544.7h.8M114.1 512.5h.8M114.9 524h.8M114.4 523.4h.8M78.9 541.2h.8M119 537.2h.8M85.2 540.6h.8M133.5 523.2h.8M107.5 517.1h.8M102.2 536.2h.8M97.5 534.2h.8M81.1 540.2h.8M148.5 515.4h.8M105.5 527.9h.8M105.9 540.2h.8M92.9 527.7h.8M135.1 526.4h.8M119 502.8h.8M110.1 530.8h.8M85.9 546.4h.8M124.3 539.4h.8M91.3 543.6h.8M83 532.5h.8M94.8 525h.8M102.4 518.2h.8M113.1 533.2h.8M156.7 512.5h.8M82.5 529.2h.8M99 540h.8M93.2 541.8h.8M118.1 510.2h.8M156.1 503.2h.8M121.3 522.1h.8M82.3 540h.8M86.5 535.4h.8M153.8 520.7h.8M96 530.7h.8M125 510.7h.8M77.2 544.9h.8M151.1 513.2h.8M98 528.2h.8M131.3 516.9h.8M133.7 511h.8M117 521.5h.8M114.7 527.7h.8M82.4 538.9h.8M99.9 538.8h.8M168.2 480.2h.8M121.7 514.9h.8M78.8 541.2h.8M122.7 520.4h.8M83.4 532h.8M165.1 471.3h.8M81.6 543.7h.8M168.9 508.8h.8M113.6 536.8h.8M78.9 541.8h.8M141 530.9h.8M123.5 485.2h.8M94.4 526.7h.8M165.1 471.7h.8M124.2 546.3h.8M143.8 475.1h.8M140.6 508.9h.8M141.8 488.6h.8M157.6 499.9h.8M119.5 538.5h.8M83.2 540.3h.8M84.4 530.6h.8M101.2 521.5h.8M154.8 492.8h.8M104.5 535.3h.8M80.2 526.7h.8M136.6 503.4h.8M85.5 548.7h.8M160.5 490.8h.8M144.5 491.9h.8M157.2 514.4h.8M115.4 510.3h.8M99.5 527.9h.8M108 540.8h.8M130.3 527.3h.8M127.8 526.6h.8M85.5 528.9h.8M91.5 541.6h.8M87.9 533.8h.8M78.8 553.7h.8M84.2 557.2h.8M110.2 542h.8M78.2 541.7h.8M78.9 541.9h.8M129.6 486.4h.8M127.5 525.1h.8M137.4 506.3h.8M105.7 540.5h.8M143.9 489.1h.8M141.7 528h.8M97.4 533.1h.8M138.5 536.8h.8M83.4 555.6h.8M155.5 525.5h.8M81.1 544h.8M79.2 541.2h.8M145.6 508.2h.8M105.8 537.7h.8M100.1 521.2h.8M170.6 483.2h.8M170.2 482.2h.8M119.9 531.7h.8M91.9 549.9h.8M99.2 521.3h.8M163.4 519.1h.8M113 517.1h.8M126.8 524.4h.8M126.7 527.2h.8M151.9 510h.8M118.4 510.6h.8M104 528.1h.8M78.3 544h.8M123.8 527.3h.8M93.9 533.2h.8M156.5 485.4h.8M133.6 522.3h.8M134.2 526.5h.8M112.3 515.9h.8M158.4 492h.8M154.6 494.1h.8M146.3 487.4h.8M81.9 539.7h.8M144.5 488h.8M168.5 444.3h.8M154.1 479.8h.8M126.6 523h.8M116.6 532.5h.8M159.7 480.3h.8M126.2 511h.8M139.3 514.3h.8M170.9 512.3h.8M80.8 558h.8M80.6 533.3h.8M154.8 538.9h.8M92 538.9h.8M118.2 516h.8M77.9 549.3h.8M150.4 543.7h.8M137.4 533.6h.8M96.3 533.4h.8M153.8 481.3h.8M133.2 518.3h.8M98.3 521.3h.8M84.5 551.1h.8M81.5 548h.8M85.6 539.7h.8M143.4 495.4h.8M126.9 520.7h.8M107.7 529.2h.8M163.1 511.1h.8M92.7 518.1h.8M143.2 551.6h.8M125.3 508.7h.8M77.9 535.5h.8M143.6 501.3h.8M111.9 540.8h.8M99.4 533.5h.8M127.7 512h.8M95.2 540.3h.8M157 496.9h.8M109.1 520.5h.8M80.4 553.2h.8M78.3 553.8h.8M135.9 518.6h.8M100.9 536.1h.8M84.5 528.6h.8M81.3 532.2h.8M127 538.8h.8M88.8 549.4h.8M95.7 531.4h.8M83.2 550.9h.8M82.4 531.6h.8M88.4 539.1h.8M147.7 480.5h.8M139.4 526.9h.8M135.4 504h.8M114.3 510.2h.8M91.9 535.4h.8M72 544.1h.8M140.3 527h.8M117.7 512.1h.8M111.6 500.9h.8M118.2 505.5h.8M83.2 549.5h.8M97.4 532.7h.8M170.9 472h.8M139.6 507.5h.8M134.1 512.7h.8M159.1 484.9h.8M86.1 534.2h.8M93.8 536h.8M170.9 483.1h.8M86.7 541.3h.8M87.5 544h.8M117.6 537.7h.8M106.4 545.3h.8M107.1 536.3h.8M146.5 499h.8M92.8 532h.8M161.5 473.4h.8M79 552.4h.8M86.2 542h.8M149 493.6h.8M96.6 540.5h.8M81.9 548.4h.8M163.7 481.9h.8M170.9 500.8h.8M104.3 526.4h.8M133.6 497.7h.8M101.5 534.3h.8M127 508.7h.8M88.2 545.3h.8M152.3 491.7h.8M146.5 513.7h.8M93.6 522.9h.8M134.9 516.4h.8M129.2 513.6h.8M157.9 492.5h.8M109.5 500.7h.8M119.7 512.4h.8M120.4 527.6h.8M104.1 538.1h.8M87.9 551.8h.8M142.7 507.5h.8M78.2 541.3h.8M142 512h.8M157.3 476h.8M104.8 541h.8M111.1 519.6h.8M131.6 496.8h.8M88.7 542h.8M125.9 523.3h.8M135.2 489.8h.8M86.1 538.4h.8M131.8 512.1h.8M154.8 508.1h.8M123.5 527.7h.8M134.3 509.4h.8M116.6 517.8h.8M165.5 492h.8M91 543.9h.8M104 504.4h.8M126.6 516.7h.8M138 514.2h.8M82.3 555.2h.8M81.8 551.9h.8M120 523.6h.8M131.1 516.4h.8M98.5 557.5h.8M80.1 547.6h.8M129.6 515.7h.8M79.9 541.3h.8M165.9 467.3h.8M88.5 541.3h.8M101.5 529.2h.8M112.1 527.7h.8M115.7 502.1h.8M132.1 524.9h.8M88.2 538.6h.8M89.7 546.8h.8M154.5 512.8h.8M89.3 538.2h.8M134.5 490.5h.8M110.6 524.7h.8M137.8 484.2h.8M88.9 546.5h.8M124.4 509.9h.8M126.1 518h.8M160.9 497.3h.8M104.2 533.5h.8M86.1 545.5h.8M89.6 536.2h.8M140.8 485.2h.8M157 479.3h.8M88.9 534.7h.8M161.4 508.7h.8M95 538.9h.8M124.6 541.1h.8M114.3 498.9h.8M125 500.6h.8M82.9 543.1h.8M90.8 539.5h.8M83.2 543.3h.8M126.5 526.6h.8M130.1 514.5h.8M130.9 502.1h.8M111.8 529.3h.8M108.2 555.7h.8M104.5 518.2h.8M138.2 505.9h.8M156.8 509.4h.8M75 546.3h.8M121.5 536.2h.8M122.3 544.2h.8M80.6 552.8h.8M137.8 536.2h.8M78.6 551.8h.8M162.6 516.1h.8M172.4 493.4h.8M77.5 545.5h.8M83.7 555.3h.8M125.8 527.1h.8M85.1 539.1h.8M126 518.1h.8M89.1 544.8h.8M122 507h.8M138.3 503.9h.8M134.6 512.1h.8M119.1 539.6h.8M112.1 514.3h.8M156.6 481.2h.8M171.4 476h.8M83.4 542.1h.8M173.7 485.1h.8M154.5 475.1h.8M125.2 523.3h.8M137.5 510.8h.8M120.5 530.1h.8M146.8 480h.8M141.9 510.2h.8M102.9 542.7h.8M153.8 524.4h.8M95.5 539.6h.8M133.4 550.5h.8M133.2 532.5h.8M163.6 529.6h.8M107.8 538.3h.8M113.2 520.6h.8M76.7 536.3h.8M125.1 528.9h.8M78.8 546.7h.8M116.3 519.5h.8M118.9 522.6h.8M169.7 488.2h.8M123.2 513.4h.8M140.7 471.3h.8M136.9 509h.8M142.9 536.1h.8M158.7 499.6h.8M96.3 527.5h.8M76.1 542.5h.8M133 527h.8M132.4 524.3h.8M153.1 512.8h.8M115.5 517.2h.8M90.7 544h.8M89.6 540.2h.8M138.1 511.2h.8M102.1 528.6h.8M161.1 480.7h.8M78.8 552h.8M133.9 528.7h.8M88.5 530.9h.8M116.7 506.3h.8M79.3 536.9h.8M148.9 501.9h.8M154.9 524.9h.8M79.6 539.2h.8M105.5 526.8h.8M89 526.9h.8M93.6 547.4h.8M115.2 521.9h.8" stroke="#8a8a8a" stroke-width="0.75" fill="none"/>
<path d="M118.4 530.4h.8M135.8 532.4h.8M166.6 496.2h.8M116.2 529.7h.8M130.9 529.2h.8M156.2 519.9h.8M168.2 487.9h.8M125.3 510.7h.8M166.9 508.8h.8M111 507.3h.8M138 516.2h.8M165.7 477.6h.8M135.4 482.3h.8M132 516.2h.8M163.2 498.4h.8M156.1 506.4h.8M172.6 492.2h.8M161.3 468.2h.8M160.6 488.1h.8M107.6 526h.8M112.6 527.6h.8M153.2 475.4h.8M149.7 524.7h.8M147.6 502.1h.8M151 498.2h.8M139.2 485.4h.8M131.6 502.2h.8M140.9 526.8h.8M169.8 474.4h.8M125.4 522.3h.8M105 519.4h.8M117.4 516.1h.8M169.4 460.3h.8M153.4 503.4h.8M172.3 475.6h.8M118.3 519.8h.8M126.8 515.2h.8M153.8 453.8h.8M172.7 521.7h.8M128.1 503.1h.8M152.4 524.1h.8M134.1 498h.8M155.4 503.3h.8M113.2 519.6h.8M157.1 473.7h.8M139.2 512.2h.8M158.5 486.5h.8M132.7 521.8h.8M136.7 508.2h.8M146.2 529.7h.8M157 509.1h.8M123.5 544.6h.8M140.6 511.1h.8M125.3 521.2h.8M148.9 524h.8M129.5 537.9h.8M132 491.2h.8M143.2 519.1h.8M135.8 495.7h.8M144.7 506h.8M163.3 478.4h.8M108.3 519.6h.8M147.2 498.9h.8M160.1 508.5h.8M114.3 532.1h.8M146.3 504.4h.8M123.2 530.6h.8M130.5 507.6h.8M108.1 517.6h.8M123.7 528.2h.8M118.7 517.6h.8M118.8 524.1h.8M111.1 543.9h.8M166.6 467.4h.8M136.7 504.2h.8M131.7 526.2h.8M122.6 527.8h.8M164.5 507.9h.8M136.2 525.6h.8M162.3 516.2h.8M120.5 506.4h.8M114.8 524.3h.8M147.9 493.2h.8M123 530.1h.8M131 515.6h.8M140.9 508.6h.8M137.9 538.8h.8M127.1 516.9h.8M140 499.1h.8M154.5 487.5h.8M124.4 516.1h.8M166.2 471.2h.8M138.2 522.5h.8M160.5 503.9h.8M140.1 507.4h.8M146.5 509.1h.8M123.5 511.7h.8M141.6 490.1h.8M160.6 517.7h.8M142.7 506h.8M156 500.4h.8M150.5 485.3h.8M144.1 473.8h.8M112.5 531.8h.8M149.8 507.6h.8M120.6 536.2h.8M137.4 511.2h.8M142.7 514.6h.8M115.5 535.3h.8M118 523.3h.8M160.2 489.6h.8M115.9 524.2h.8M150.6 484.7h.8M173.3 517.3h.8M126.2 509.3h.8M133.5 517.1h.8M128.8 542.7h.8M121.3 545.5h.8M149.8 504.9h.8M129.4 546.9h.8M140.4 510.1h.8M114 523.5h.8M153.6 490.1h.8M141 518.1h.8M158.4 494.4h.8M130.3 492.6h.8M161.1 506.7h.8M158.4 506.2h.8M112.6 523.9h.8M139.7 525.5h.8M151.3 504.8h.8M127.8 493.9h.8M164.5 497.6h.8M147.3 481h.8M164 474.9h.8M154.8 508.2h.8M144.2 539.2h.8M121.8 518.8h.8M162.2 529.1h.8M138.8 483.4h.8M164.7 471.7h.8M113.6 542.5h.8M115.1 514.9h.8M138.5 489h.8M147.6 506.5h.8M115.8 522.9h.8M115.9 516.9h.8M155 489.9h.8M174.1 470.4h.8M172.5 486.4h.8M111.4 537.9h.8M135.6 527.4h.8M117 523.5h.8M159 538.7h.8M113.1 511.4h.8M118.6 509.1h.8M151.2 521.2h.8M157.4 487.3h.8M131.9 512.2h.8M133.4 508.5h.8M114.7 541h.8M136.6 526.2h.8M118.7 536.5h.8M159.3 513.2h.8M113 537.9h.8M142.1 498.2h.8M169.5 487.7h.8M117.4 517.3h.8M168.4 495.9h.8M162.2 503.5h.8M151.3 515h.8M132.2 489.7h.8M156.4 518.3h.8M170.4 508.3h.8M149.7 504.5h.8M144.3 506.6h.8M171.1 509.6h.8M129.9 494.5h.8M141.2 532.1h.8M142.5 490.7h.8M169.3 520.4h.8M158.3 534.9h.8M135.7 511.2h.8M126.3 518.7h.8M145.4 516.1h.8M121.1 518.8h.8M120.3 525.2h.8M140.6 495.6h.8M148.1 490.2h.8M114.9 526.9h.8M121.2 516.6h.8M139.9 521.7h.8M148.8 524.5h.8M156.1 514h.8M144 502.4h.8M159.9 472.8h.8M131.1 522.4h.8M143.6 510.1h.8M165.7 496.5h.8M173.9 524.1h.8" stroke="#a5a5a5" stroke-width="0.75" fill="none"/>
<path d="M83.7 540h.8M106.8 532.9h.8M88.2 534h.8M103.5 533.3h.8M109.1 522h.8M91.4 543.8h.8M73 545.4h.8M89.1 543.4h.8M81.7 536.8h.8M71 545.2h.8M87.3 535.8h.8M81.4 546.1h.8M93.6 543.1h.8M79.6 534.4h.8M103.7 548.7h.8M119.9 537.1h.8M106.7 538.3h.8M78.2 535.2h.8M71.6 526.3h.8M89.9 538.1h.8M100.9 550h.8M72.9 530.3h.8M82.5 541.7h.8M85.3 525.9h.8M99.1 531h.8M80.1 548.3h.8M105.1 527.2h.8M93.6 530.7h.8M84 530.6h.8M87.9 529h.8M96.3 540.4h.8M88.3 522.3h.8M104.4 528h.8M115.3 536.7h.8M91.1 548.8h.8M76.9 538.6h.8M101.9 534.3h.8M91.8 525.5h.8M110.7 520.9h.8M106.2 532.4h.8M87.4 535.3h.8M97.5 530.4h.8M82.3 533.6h.8M80.5 543.7h.8M89.9 540.5h.8M82.2 526.4h.8M124.9 539.9h.8M99.8 537.3h.8M89.4 543.5h.8M61.8 542h.8M106.7 538.8h.8M84.3 531.8h.8M82.7 544.2h.8M110.4 521.8h.8M86.7 536.4h.8M75.8 550.4h.8M79.2 540.9h.8M89.4 533.6h.8M79.3 527h.8M103 538.7h.8M98.7 528.4h.8M79.3 536h.8M78.8 534.8h.8M74.2 554.6h.8M74 509.2h.8M84 544.8h.8M73.3 551.5h.8M77.8 547.3h.8M99.8 543.1h.8M88.2 554.6h.8M68.9 555.2h.8M80.3 534.1h.8M61.3 534.7h.8M82.9 521.7h.8M74.2 533.6h.8M108.9 544.2h.8M79.1 527.9h.8M84.1 550.3h.8M79.9 536.1h.8M116.1 529.6h.8M80.4 522.4h.8M87.4 527.9h.8M121.2 524.2h.8M84.9 528.3h.8M87.7 535.8h.8M112.2 520.7h.8M79 532.1h.8M93 533.1h.8M83.4 540.5h.8M81.8 531.9h.8M68.6 528.1h.8M86.1 538.4h.8M118.5 531.2h.8M77.2 539.7h.8M98.4 534.5h.8M121.8 529.3h.8M103.8 534.9h.8M74 540.4h.8M95.5 546.5h.8M66 520.9h.8M101.8 537.1h.8M101.2 537.5h.8M92.8 536.9h.8M96 527.8h.8M91.2 519.4h.8M92.9 533h.8M68.6 530.8h.8M79.2 528.8h.8M68.8 546.7h.8M79.3 535.8h.8M76.2 538.3h.8M100 545.3h.8M102.3 522.2h.8M106.2 532.8h.8M92.8 530.3h.8M70.8 538.6h.8M79.7 535.7h.8M113.7 532.2h.8M101.5 543.2h.8M69.8 537.2h.8M120.8 544.4h.8M91.6 517.6h.8M100.9 545.8h.8M76.3 547.2h.8M87.4 527.5h.8M106.2 529.3h.8M70.3 542h.8M109.3 546.5h.8M77.6 553.4h.8M96.4 537.6h.8M83.2 533.3h.8M83.3 538.8h.8M88.3 521.9h.8M89.1 531.3h.8M109.7 534.9h.8M111.4 537.9h.8M60.9 535.2h.8M100.5 522h.8M99.8 524.5h.8M90.7 538.2h.8M86 524h.8M80.7 529.6h.8M61.8 546.2h.8M86.5 539.4h.8M114.6 526.3h.8M124.4 513.6h.8M84.5 538.4h.8M75.8 538.6h.8M73.3 548.4h.8M92 557.8h.8M94.7 541.3h.8M96.9 528.6h.8M90.2 528.6h.8M78.7 542.8h.8M92.6 550.9h.8M121.7 522.2h.8M93.7 536.3h.8M70.6 544.3h.8M113.1 529.9h.8M91 543.9h.8" stroke="#777" stroke-width="0.75" fill="none"/>
<path d="M65.2 488.3h.8M146 479.3h.8M79.3 505.3h.8M163.1 517.8h.8M70.5 492.8h.8M84.5 537.2h.8M106.8 494.2h.8M160.9 477h.8M110.4 556.9h.8M93.6 505.4h.8M133.9 481.4h.8M131.6 491.6h.8M155.4 507.4h.8M143.1 509.3h.8M139.6 487.9h.8M74.9 484.8h.8M95.8 444h.8M148.1 503.6h.8M114.1 524.7h.8M65.3 457h.8M142 447.1h.8M159.9 501.7h.8M171.4 542.7h.8M105.6 482.5h.8M108.6 532.2h.8" stroke="#bbb" stroke-width="0.75" fill="none"/>
<path d="M66.8 556.2L68.8 546.5L109.6 535.2L121.8 549.5Z" fill="none" stroke="#555" stroke-width="0.6"/>
<path d="M70.8 548.1C71.2 546.2 72.1 544.3 74.2 543C76.3 541.8 79.4 541.1 83.2 540.6C86.9 540 92.3 539.8 96.6 539.8C100.9 539.8 105.9 539.6 108.9 540.4C111.9 541.3 113.9 543 114.5 544.7C115.2 546.4 114.9 549.2 112.8 550.5C110.8 551.8 106 551.9 102.2 552.5C98.4 553.1 93.8 553.5 89.9 554.1C86 554.7 81.7 556.1 78.7 556.1C75.7 556.1 73.3 555.6 72 554.2C70.7 552.9 70.5 549.9 70.8 548.1Z" fill="#fff" stroke="#222" stroke-width="0.55"/>
<path d="M73 548C73.3 546.3 74.2 544.6 76 543.5C77.8 542.4 80.7 541.8 84 541.3C87.3 540.8 92.2 540.6 96 540.6C99.8 540.6 104.3 540.5 107 541.2C109.7 541.9 111.4 543.5 112 545C112.6 546.5 112.3 549 110.5 550.2C108.7 551.4 104.4 551.5 101 552C97.6 552.5 93.5 552.9 90 553.4C86.5 553.9 82.7 555.2 80 555.2C77.3 555.2 75.2 554.7 74 553.5C72.8 552.3 72.7 549.7 73 548Z" fill="#fff" stroke="#222" stroke-width="0.55"/>
<path d="M86.5 548.5C86.7 549.1 86.4 549.9 85.8 550.6C85.3 551.2 84.2 552 83.1 552.5C82 552.9 80.6 553.3 79.4 553.4C78.2 553.5 76.9 553.4 76.1 553.1C75.3 552.7 74.6 552.1 74.5 551.5C74.3 550.9 74.6 550.1 75.2 549.4C75.7 548.8 76.8 548 77.9 547.5C79 547.1 80.4 546.7 81.6 546.6C82.8 546.5 84.1 546.6 84.9 546.9C85.7 547.3 86.4 547.9 86.5 548.5Z" fill="none" stroke="#000" stroke-width="0.7"/>
<path d="M85.3 548.8C85.4 549.3 85.2 549.9 84.8 550.5C84.3 551 83.4 551.6 82.6 552C81.7 552.4 80.6 552.7 79.6 552.7C78.7 552.8 77.6 552.7 77 552.5C76.3 552.2 75.8 551.7 75.7 551.2C75.6 550.7 75.8 550.1 76.2 549.5C76.7 549 77.6 548.4 78.4 548C79.3 547.6 80.4 547.3 81.4 547.3C82.3 547.2 83.4 547.3 84 547.5C84.7 547.8 85.2 548.3 85.3 548.8Z" fill="none" stroke="#000" stroke-width="0.7"/>
<path d="M84.1 549.1C84.2 549.4 84 549.8 83.7 550.2C83.3 550.5 82.6 550.9 81.9 551.2C81.2 551.5 80.2 551.8 79.5 551.9C78.8 552 77.9 552 77.4 551.9C76.9 551.8 76.5 551.6 76.5 551.3C76.4 551 76.6 550.6 76.9 550.2C77.3 549.9 78 549.5 78.7 549.2C79.4 548.9 80.4 548.6 81.1 548.5C81.8 548.4 82.7 548.4 83.2 548.5C83.7 548.6 84.1 548.8 84.1 549.1Z" fill="#222" stroke="#000" stroke-width="0.6"/>
<text x="90.8" y="549.2" font-size="12">93</text>
<text x="125" y="463.2" font-size="12.8" font-weight="bold">D135</text>
<rect x="57.5" y="442.3" width="117.8" height="116.9" fill="none" stroke="#585858" stroke-width="1"/>
<text x="57.5" y="571.2" font-size="6.5" text-anchor="middle" font-weight="bold" stroke="#000" stroke-width=".25">0</text>
<text x="80.5" y="571.2" font-size="6.5" text-anchor="middle" font-weight="bold" stroke="#000" stroke-width=".25">200</text>
<text x="103.6" y="571.2" font-size="6.5" text-anchor="middle" font-weight="bold" stroke="#000" stroke-width=".25">400</text>
<text x="126.6" y="571.2" font-size="6.5" text-anchor="middle" font-weight="bold" stroke="#000" stroke-width=".25">600</text>
<text x="149.6" y="571.2" font-size="6.5" text-anchor="middle" font-weight="bold" stroke="#000" stroke-width=".25">800</text>
<text x="172.7" y="571.2" font-size="6.5" text-anchor="middle" font-weight="bold" stroke="#000" stroke-width=".25">1000</text>
<path d="M57.5 559.2v2.4M63.3 559.2v1.3M69 559.2v1.3M74.8 559.2v1.3M80.5 559.2v2.4M86.3 559.2v1.3M92 559.2v1.3M97.8 559.2v1.3M103.6 559.2v2.4M109.3 559.2v1.3M115.1 559.2v1.3M120.8 559.2v1.3M126.6 559.2v2.4M132.3 559.2v1.3M138.1 559.2v1.3M143.9 559.2v1.3M149.6 559.2v2.4M155.4 559.2v1.3M161.1 559.2v1.3M166.9 559.2v1.3M172.7 559.2v2.4" stroke="#585858" stroke-width="0.7" fill="none"/>
<text x="52.5" y="561.4" font-size="6.5" text-anchor="end" font-weight="bold" stroke="#000" stroke-width=".25">0</text>
<text x="52.5" y="538.5" font-size="6.5" text-anchor="end" font-weight="bold" stroke="#000" stroke-width=".25">200</text>
<text x="52.5" y="515.7" font-size="6.5" text-anchor="end" font-weight="bold" stroke="#000" stroke-width=".25">400</text>
<text x="52.5" y="492.8" font-size="6.5" text-anchor="end" font-weight="bold" stroke="#000" stroke-width=".25">600</text>
<text x="52.5" y="470" font-size="6.5" text-anchor="end" font-weight="bold" stroke="#000" stroke-width=".25">800</text>
<text x="52.5" y="447.1" font-size="6.5" text-anchor="end" font-weight="bold" stroke="#000" stroke-width=".25">1000</text>
<path d="M57.5 559.2h-2.4M57.5 553.5h-1.3M57.5 547.8h-1.3M57.5 542.1h-1.3M57.5 536.3h-2.4M57.5 530.6h-1.3M57.5 524.9h-1.3M57.5 519.2h-1.3M57.5 513.5h-2.4M57.5 507.8h-1.3M57.5 502.1h-1.3M57.5 496.4h-1.3M57.5 490.6h-2.4M57.5 484.9h-1.3M57.5 479.2h-1.3M57.5 473.5h-1.3M57.5 467.8h-2.4M57.5 462.1h-1.3M57.5 456.4h-1.3M57.5 450.6h-1.3M57.5 444.9h-2.4" stroke="#585858" stroke-width="0.7" fill="none"/>
<path d="M232.8 555.1h.8M236.5 544.3h.8M243.8 537.5h.8M236.4 551.3h.8M217.4 547.4h.8M238 547.6h.8M238 554.3h.8M219.3 556.5h.8M234.4 540.5h.8M230.3 545.6h.8M222.6 543.8h.8M237.5 554.8h.8M256.6 553.4h.8M210.1 548.6h.8M231.9 543.3h.8M234.2 537.9h.8M222.7 556.1h.8M237.2 536.3h.8M246.8 539.6h.8M270.1 528.2h.8M231.6 550.5h.8M236.5 553.1h.8M241.4 548.2h.8M235.7 544.9h.8M226.6 544.3h.8M233.7 541.9h.8M227.8 548.7h.8M259.9 541h.8M229.3 551.6h.8M246.6 540.8h.8M229.6 546.8h.8M215.2 558.2h.8M246 533.1h.8M243.5 541.7h.8M242 545.5h.8M227.2 541.9h.8M223.1 556.6h.8M239.1 553.6h.8M230.3 549.2h.8M237.2 541.7h.8M242.3 534.3h.8M223.8 551.8h.8M237.8 548.8h.8M232.2 541.3h.8M225.4 546.5h.8M235.3 549.9h.8M237 539.1h.8M250 552.7h.8M240.9 548.4h.8M244.5 550.5h.8M236.5 544.3h.8M252.6 537.2h.8M242.1 538.7h.8M231.1 548.4h.8M249.5 530.3h.8M244 549h.8M241.2 540h.8M236.1 547.3h.8M221.2 548.2h.8M238.2 550.1h.8M231 544.4h.8M241.5 532.2h.8M230.4 549h.8M226.9 546.1h.8M250.9 548.1h.8M227.1 546.5h.8M236.3 555.9h.8M245.7 540.6h.8M228.7 545.7h.8M220.6 551.8h.8M230.4 555.5h.8M232.5 546.4h.8M245.1 548h.8M245 549.9h.8M222 544.8h.8M248.3 537.1h.8M236.8 542.7h.8M255.3 530.6h.8M217.1 544.6h.8M223.8 547.1h.8M243.3 550.1h.8M231.1 536.5h.8M247.4 538.3h.8M246.9 541.1h.8M248.6 543.5h.8M216 548.5h.8M236.3 547.3h.8M234.7 542.3h.8M245.3 537.1h.8M245.6 549.2h.8M237.2 541.3h.8M239.9 544.4h.8M245.6 550.2h.8M228.7 540.3h.8M243.1 542.2h.8M250.3 544.5h.8M228.8 552.9h.8M232 556.4h.8M227.1 546.2h.8M243.8 541.4h.8M233.5 550.5h.8M230.4 538.3h.8M232 549.4h.8M227 545.2h.8M219.4 547.5h.8M239.7 545.1h.8M246.1 531.9h.8M243.3 546.4h.8M215.7 556.6h.8M257.9 547.6h.8M251.3 545h.8M254.9 539.3h.8M245.6 540.5h.8M260.9 535.7h.8M232.9 557.4h.8M243.2 542h.8M220 557h.8M212 546.1h.8M224 551.9h.8M240.8 549.1h.8M242.6 540.8h.8M253.2 534.7h.8M226.8 546.1h.8M242 544.5h.8M250.3 528.3h.8M245.5 542.3h.8M247.9 540.3h.8M243.7 535.5h.8M234.7 549.2h.8M239.8 549.5h.8M241.6 552.1h.8M232.7 550.9h.8M244.2 539.7h.8M237.6 545.6h.8M233.2 546.2h.8M233.4 546.2h.8M219.6 552h.8M227.9 547h.8M253 527.3h.8M246.9 529.8h.8M247.3 542h.8M224.1 547.4h.8M237.7 541.9h.8M237.9 552.3h.8M235.5 546.6h.8M248 547.1h.8M217.4 543.9h.8M228.3 555.6h.8M266.7 533h.8M226 546.4h.8M224.6 540.8h.8M228.4 539.5h.8M221.7 556.3h.8M230.8 551h.8M248.3 547.4h.8M240.7 549.2h.8M232.6 552.7h.8M221.1 548.6h.8M223.7 553.8h.8M241.7 537.5h.8M224.9 548.5h.8M239.3 549.1h.8M244.3 546.5h.8M248 544.5h.8M230.7 546h.8M236.5 539h.8M226.9 543.7h.8M241 535.6h.8M247 548.5h.8M234.2 556.8h.8M230.1 550.8h.8M270.3 540.8h.8M242.7 547.5h.8M239.5 544.2h.8M225.2 552.4h.8M227.1 538.4h.8M246.4 542.4h.8M243.2 546.3h.8M245.5 543.7h.8M217.5 541.8h.8M243.7 546.9h.8M248.3 537.5h.8M232.3 548.4h.8M243.9 545.4h.8M232.9 545.4h.8M213.9 551.6h.8M245.9 543.5h.8M221.9 554.1h.8M234.4 537h.8M226 550.9h.8M226.7 543.5h.8M249.3 539.2h.8M220.7 545.3h.8M222.1 550.4h.8M227.6 541h.8M246.2 543.3h.8M242 537.1h.8M233.5 550.4h.8M225.1 552.2h.8M227.6 550.2h.8M220.4 551.1h.8M250.1 547.8h.8M234 542.5h.8M236 547.7h.8M218.3 552.3h.8M222.4 554h.8M233.1 545.6h.8M249.5 544.9h.8M252.7 537.2h.8M227.2 549.9h.8M247.7 549.6h.8M237.1 539.5h.8M244.3 546.4h.8M230.5 537.1h.8M234 547.4h.8M243.1 556.7h.8M234.6 543.8h.8M233.3 552.8h.8M233.3 546.9h.8M249 539h.8M235.7 547.6h.8M210.9 546.3h.8M231.4 535.1h.8M248.4 536.1h.8M245.7 545.3h.8M225.2 545.7h.8M236.9 548h.8M247.8 536h.8M231.9 553.8h.8M240.7 542.3h.8M230 544.3h.8M253.8 535h.8M247.2 541.1h.8M225.4 548.5h.8M273.8 532.3h.8M247.7 539h.8M222 538.1h.8M211.6 558.3h.8M238.9 540.4h.8M224.3 556.5h.8M240.7 548.9h.8M238 548.3h.8M270.9 525h.8M242.1 537.7h.8M235.5 536.6h.8M222.4 552.3h.8M242.2 547.7h.8M229.7 552.5h.8M231.2 543.4h.8M237.9 558.2h.8M241.6 530.3h.8M237.4 541.6h.8M213.3 552.9h.8M239 541h.8M220.1 551.1h.8M244.9 544h.8M235.1 537h.8M221.2 552.5h.8M225.1 547.9h.8M253 546.8h.8M237.8 538.9h.8M238.8 533.6h.8M228.2 537.5h.8M239.3 544.7h.8M248.3 540.3h.8M239.4 535h.8M249 547.4h.8M252.5 547.1h.8M229.8 552.8h.8M232.9 558.1h.8M229.6 543.6h.8M235.6 542.1h.8M241.2 536.6h.8M237.7 537h.8M254.4 540.3h.8M220.4 552h.8M227 546.3h.8M248.9 527.9h.8M230.5 540.6h.8M221.2 555.9h.8M219 538.4h.8M235.8 539.9h.8M235.4 548h.8M238.4 538.9h.8M232.9 548.1h.8M210.4 553.1h.8M232.6 557h.8M237 536.6h.8M228.5 545.3h.8M228.7 540.5h.8M250.1 540.7h.8M228.2 544h.8M231.9 544.2h.8M245.4 555.6h.8M215 554.1h.8M239 552.1h.8M237.7 556.8h.8M226.2 545h.8M229.8 550.5h.8M240.5 554.1h.8M233.9 549.3h.8M226.1 553.1h.8M247.8 542.4h.8M233.6 539.8h.8M229.1 550.5h.8M243.8 549.7h.8M232.4 544.7h.8M228.7 548.5h.8M227.1 544.9h.8M225.4 539.3h.8M226.3 552h.8M243.3 546.1h.8M220.3 542.3h.8M257.1 553.5h.8M245.8 540.4h.8M218.6 548.3h.8M230.5 552.7h.8M233.6 539.6h.8M221.8 552.8h.8M246.1 548.1h.8M234 550.2h.8M217.5 549.4h.8M222.1 548.5h.8M229.9 541.9h.8M244.3 543.3h.8M251.5 542.3h.8M232 541.3h.8M227.1 551.7h.8M236.9 556.8h.8M242.3 540.5h.8M223.8 546.5h.8M249.2 550h.8M257.9 533h.8M235.6 549.1h.8M238.1 542.7h.8M233.1 543.2h.8M234.9 544.3h.8M256.6 547.2h.8M222.9 548.8h.8M256.7 538.7h.8M238.9 554.9h.8M225.9 553.2h.8M232.7 551h.8M232.9 551.5h.8M245.1 555.4h.8M224.8 554.5h.8M242.8 535.5h.8M252.4 554.6h.8M256.9 535.6h.8M234.1 545.3h.8M222.7 556.2h.8M241.8 533h.8M246.9 542.4h.8M236.7 545.6h.8M237.5 543h.8M223.1 549.4h.8M251.4 545.8h.8M238 541.2h.8M236.6 556.6h.8M233.7 546.4h.8M234.4 551.5h.8M212.1 556.2h.8M240.3 539.1h.8M234.6 545.1h.8M246.6 545.6h.8M231.6 544.6h.8M258.7 543.3h.8M237.6 547.5h.8M240.2 546.2h.8M232.5 554.9h.8M230.5 543.2h.8M225.3 548.3h.8M230.9 545.9h.8M235.8 546h.8M243.3 542.1h.8M228.7 546.6h.8M227.2 550h.8M222.8 541.1h.8M254.2 527.2h.8M221.4 552h.8M230.1 551.7h.8M254.7 544.6h.8M228.8 555.4h.8M234.1 556.4h.8M225.7 548.8h.8M234.9 546.5h.8M257.4 548.3h.8M246.5 546.4h.8M234.4 544.9h.8M243.4 542.3h.8M248.4 541.2h.8M222 545.3h.8M248.1 546.8h.8M235.9 535h.8M234.2 537.1h.8M244.5 548.4h.8M232.6 546.8h.8M236.6 543h.8M227.3 546.3h.8M251.4 555.1h.8M221.8 542.8h.8M223.9 544.2h.8M239 543.6h.8M229.9 550.6h.8M226.1 545h.8M243.7 541.8h.8M233.7 540.1h.8M222.3 556.9h.8M247.4 551h.8M239.2 556.4h.8M259.8 546h.8M237.7 544.5h.8M250.3 553.9h.8M240.2 540.2h.8M241 536.9h.8M236.3 555.4h.8M230.3 549.3h.8M247.3 535h.8M236.5 552.5h.8M231.3 541.8h.8" stroke="#5a5a5a" stroke-width="0.75" fill="none"/>
<path d="M229.6 555.7h.8M233 550h.8M229.9 555.4h.8M251.8 546.1h.8M240 549.6h.8M233.1 552.5h.8M235.4 553.5h.8M248.2 547.5h.8M229 549.8h.8M234.5 548.4h.8M233.7 550.1h.8M236.8 547.1h.8M225.6 551.5h.8M218.2 553.5h.8M211.6 550.5h.8M215.2 551.8h.8M237.6 554.3h.8M218.3 548.4h.8M226 555.3h.8M232.1 547.9h.8M220.6 557.9h.8M225.2 548.3h.8M241.8 549.6h.8M225.6 553.2h.8M227.1 552.9h.8M236.8 544.1h.8M240.2 548h.8M233.9 553.7h.8M230.3 550.9h.8M227.8 553.2h.8M232.7 553.2h.8M228.1 550.4h.8M235 547.1h.8M231.5 552.3h.8M223.6 551.6h.8M226.7 551.6h.8M224.9 555.4h.8M237.1 552.1h.8M235 545.8h.8M236.8 553.7h.8M233.4 551.5h.8M238.6 549.8h.8M232.5 553.3h.8M240.8 554.7h.8M236.4 554.4h.8M232.6 546.6h.8M224.5 550.2h.8M234.4 545h.8M239.6 552.1h.8M235.1 553.5h.8M233.3 554.5h.8M223.6 547h.8M228.9 552.3h.8M215.2 556.1h.8M220.8 550.9h.8M231 545.4h.8M246.5 545.2h.8M229.1 544.3h.8M233.5 552.7h.8M227.8 546.5h.8M237.8 544.6h.8M227.9 553.4h.8M228.1 549.8h.8M224.4 552.1h.8M221.7 555.7h.8M223.5 548.2h.8M243.8 551.6h.8M225.7 543.7h.8M222.3 548.7h.8M238.9 545.4h.8M228.7 550.4h.8M241 550h.8M234 547.2h.8M231.9 554.7h.8M236.4 544.5h.8M233.2 552.3h.8M233 556.6h.8M226.1 553h.8M226.7 552.6h.8M231.1 550.2h.8M224.1 553.9h.8M234.8 550.8h.8M243.8 548.1h.8M217.5 556.8h.8M241.6 544.9h.8M228.7 546.3h.8M218.9 552.5h.8M214.9 547.5h.8M236.4 557.3h.8M230.2 546.8h.8M233.3 547.9h.8M222.9 555.4h.8M235.1 549.6h.8M235.9 545.4h.8M235.2 548.6h.8M222.4 545.5h.8M238.1 545.7h.8M235.3 545.5h.8M225.7 550.9h.8M210.9 553.1h.8M231.9 550.3h.8M228.3 554h.8M232.4 548.6h.8M230.5 548.4h.8M236.5 553.5h.8M228.2 557.6h.8M239.6 551.7h.8M225 556.8h.8M246.3 549.8h.8M219.6 546.5h.8M229.9 549.7h.8M229.7 547.3h.8M234.5 557.9h.8M226.7 548.5h.8M239.1 551.8h.8M234.8 551.2h.8M234.1 551h.8M229.9 548h.8M235.6 549.8h.8M233.5 544.5h.8M224.1 547.9h.8M238.4 555.1h.8M237.6 547.5h.8M231.1 552.3h.8M227.7 554.2h.8M228.2 551.2h.8M233 544.1h.8M229.4 552h.8M240.3 545.1h.8M230.4 548.3h.8M239.6 547.8h.8M249.4 549.8h.8M228.6 548.9h.8M237.3 546.5h.8M228.9 550.5h.8M232.8 557.1h.8M234.6 550.4h.8M238.4 551.7h.8M237.9 554.7h.8M218.3 555h.8M246 543h.8M232.4 554h.8M231.7 547.4h.8M235.9 548.7h.8M226.2 549.5h.8M229 548.1h.8M220.1 555.6h.8M231.8 548.8h.8M232.2 552.9h.8M231.1 545.1h.8M227.4 544.7h.8M230.8 555.3h.8M236.5 550h.8M225.6 550h.8M231.3 548.2h.8M220.1 554.8h.8M231.8 556.2h.8M228.2 552h.8M238 553h.8M234.6 545h.8M236.7 545.6h.8M232.4 543.4h.8M222.9 549.6h.8M232.7 552.9h.8M232.9 551.5h.8M225.5 553.8h.8M217.9 550.3h.8M232.3 548.5h.8M226.1 550.3h.8M234.5 551.3h.8M230.2 551.4h.8M242.5 550h.8M239.3 543.7h.8M231.4 551.1h.8M234.2 547.4h.8M223.9 556.9h.8M223.9 551.4h.8M232 552.2h.8M226.4 543.6h.8M234.8 550.8h.8M224.6 551.5h.8M221.8 552.7h.8M229.7 552.9h.8M218.8 556.3h.8M235.6 553.7h.8M233.4 545.8h.8M234.7 537.5h.8M227.5 555.6h.8M217.2 555.4h.8M223.5 548.8h.8M215.3 552.8h.8M227.8 553h.8M232.3 553.2h.8M245.8 554.2h.8M218.2 550.7h.8M221.9 553.7h.8M223.7 553.9h.8M229.3 543.4h.8M238 549.6h.8M218.4 556.3h.8" stroke="#3a3a3a" stroke-width="0.75" fill="none"/>
<path d="M232 545.8h.8M229.5 545.6h.8M237.2 549.6h.8M229.8 549.1h.8M236.4 545.4h.8M241.4 537h.8M234.2 539.7h.8M243.4 546.1h.8M246.7 536.5h.8M226.1 543.2h.8M239.6 544.2h.8M239.1 542.7h.8M237.8 547h.8M233.2 539.4h.8M253.4 534.5h.8M237 546.3h.8M244.4 544.4h.8M258.4 544.7h.8M227.6 543.7h.8M258.6 542.1h.8M238.5 549.3h.8M240.2 545.7h.8M246.1 545.1h.8M235.2 548.5h.8M236.4 541.4h.8M246.1 544.9h.8M229.2 547.5h.8M233.9 545.8h.8M249.6 545.1h.8M227.9 541.6h.8M230.3 541.9h.8M245.3 549.3h.8M227.2 544.9h.8M237.3 547h.8M248.1 541h.8M239.7 541.5h.8M231.5 543.2h.8M238.8 546.3h.8M226.6 548.8h.8M221.4 550.6h.8M249.1 546.9h.8M221.7 549.2h.8M231.9 546.4h.8M249.2 538.2h.8M235.9 539.8h.8M231.8 536.3h.8M236.5 534.7h.8M233.1 546.8h.8M252.1 536.3h.8M246.2 539.5h.8M217.2 552h.8M239.8 545.1h.8M242 545.3h.8M229.5 546.9h.8M235.4 544.2h.8M231.5 548.3h.8M248.8 542.7h.8M250 538.3h.8M256.7 537.5h.8M235.9 543.9h.8M250.2 542.7h.8M242.9 539.9h.8M249.4 545.5h.8M227.1 544.7h.8M246.8 544.9h.8M223.9 543.9h.8M241.2 542.1h.8M242.3 540h.8M230.1 546.7h.8M241.8 539.2h.8M248.2 543.2h.8M239.1 543.8h.8M247.3 542.7h.8M237.6 543.6h.8M252.1 546.3h.8M211.1 546.3h.8M214 546h.8M234.4 541h.8M243.4 543h.8M241.9 537.8h.8M236.3 545.8h.8M223.3 540.3h.8M238.4 555.2h.8M231.3 544.3h.8M244.5 547.2h.8M244.1 541.3h.8M238.4 545.3h.8M239.8 545.5h.8M231.6 546h.8M234.1 542.1h.8M236.9 547.3h.8M239.6 544.2h.8M238.8 543.5h.8M236.5 542.8h.8M217.2 548.6h.8M231.6 542.8h.8M229.4 547.3h.8M236.6 544.8h.8M241.1 544.5h.8M240.3 546h.8M249 544.2h.8M241.7 546.7h.8M233.9 540.5h.8M237 537.7h.8M231.5 545.6h.8M252.8 541.9h.8M232.4 546.7h.8M243.5 543.5h.8M246.8 539.3h.8M249.1 535.8h.8M238.1 546h.8M243.6 540.7h.8M218.9 542.6h.8M227.7 546.3h.8M257.2 537.8h.8M252 538.3h.8M238.5 544.5h.8M260.4 540.1h.8M218 545.6h.8M245.1 541.4h.8M245.9 541.4h.8M241.4 545.3h.8M261.7 538.5h.8M231.1 548.1h.8M246.1 536.3h.8M245.6 540h.8M239.3 547.4h.8M250.6 539.1h.8M242.6 540.9h.8M215.7 547.6h.8M222 544.1h.8M241.8 539.2h.8M232.3 539.7h.8M226.7 547.3h.8M245.6 535.3h.8M247.5 541.3h.8M232.3 540.7h.8M242.4 540.6h.8M230.5 545.6h.8M243.2 537.3h.8M242.8 542.6h.8M246.4 545.4h.8M239.4 540.1h.8M249.7 543.4h.8M230 542.7h.8M236.8 546.9h.8M240 549.4h.8M226.4 549.5h.8M231.1 544.1h.8M235.2 549.1h.8M252.6 534.7h.8M242.4 544.8h.8M243.3 543.8h.8M226 549.5h.8M249.6 538.9h.8M243.9 545h.8M243 544.7h.8M227.5 543.8h.8M241.8 545.2h.8M249.2 538.3h.8M230.9 543.1h.8M232.9 550.1h.8M252.5 541.1h.8M251.7 539.4h.8M240.5 543.3h.8M239.4 541.1h.8M225.2 548.4h.8M234.3 541.7h.8M228.9 538.3h.8M228.2 546.2h.8M230 538.6h.8M229.2 537.9h.8M242.9 534h.8M238 548.7h.8M239.3 544.9h.8M224.9 553.1h.8M235.6 546.8h.8M263.4 534.1h.8M238.4 540.2h.8M239.6 542h.8M241.6 542.9h.8M234.2 546.5h.8M244.9 539.2h.8M244.9 538.9h.8M231.7 547h.8M248.5 542.5h.8M263.4 535.6h.8M242.1 542h.8M220.3 549.4h.8M240.1 544.1h.8M239.1 544.7h.8M237 538.2h.8M241.2 542.8h.8M232.8 538.7h.8M239.8 544.4h.8M255.5 539.2h.8M243.8 543.3h.8M234.7 542.4h.8M232.8 545.3h.8M247.7 543.7h.8" stroke="#2e2e2e" stroke-width="0.75" fill="none"/>
<path d="M274.5 518.4h.8M261.9 535.8h.8M235.9 557.8h.8M280.4 497.3h.8M239.4 520.7h.8M236.7 539.6h.8M239.2 527h.8M242.2 549.1h.8M231.9 538.1h.8M229.3 549.1h.8M233.1 531.7h.8M259.3 518h.8M313.7 495.2h.8M246 535.4h.8M317.9 518.1h.8M238.3 545.9h.8M251.2 537.1h.8M305 501.6h.8M258.7 532.5h.8M230 557.5h.8M297.1 487.9h.8M263.1 534.1h.8M314 479.1h.8M268.6 520.1h.8M252.4 535.9h.8M307.9 512.4h.8M247.2 536.9h.8M274.4 523.9h.8M269.3 524.9h.8M265.3 523.4h.8M231.5 551.4h.8M234.1 541.3h.8M272.9 518h.8M262.1 504.7h.8M294.3 493.1h.8M247.9 525.9h.8M270.3 521.2h.8M305.4 510h.8M304.5 516.9h.8M238 551h.8M243.1 540h.8M297.8 491.5h.8M246.2 536.8h.8M276.7 501.3h.8M272.7 543.5h.8M233.1 555.3h.8M322.8 479.7h.8M305 497.7h.8M274.6 495h.8M303.9 525.5h.8M252 528.3h.8M277.1 551.1h.8M273.4 532.4h.8M236.8 533.6h.8M229.2 548.3h.8M283.9 537.8h.8M273.7 511h.8M239.3 543.3h.8M239.6 539.4h.8M299.4 512.2h.8M270.4 511.6h.8M246.5 544.1h.8M259.8 522.6h.8M255.2 525.4h.8M238.7 544.4h.8M252.1 542.5h.8M246 523.2h.8M280.4 523.1h.8M320.2 514.5h.8M247.8 539.6h.8M261.3 519.3h.8M232.1 545.6h.8M270.2 513.8h.8M250 546h.8M273.8 517.5h.8M261.8 527.3h.8M238.7 546.3h.8M240.8 547.9h.8M307.6 493.9h.8M228.8 546.3h.8M232.2 545h.8M255.6 518h.8M237.1 548.2h.8M276.1 512.1h.8M254.7 522.4h.8M273.9 535.6h.8M277.3 523.5h.8M318.8 499.1h.8M284.9 510.9h.8M285 514.3h.8M232.7 536.8h.8M300 512h.8M292.9 531.9h.8M309.6 484h.8M276.7 507.4h.8M273.2 495.9h.8M293.3 488.3h.8M299.9 481.5h.8M257.1 540.2h.8M247.9 537.1h.8M307.9 504.3h.8M269 550.4h.8M286 520.6h.8M232.4 544h.8M250.8 524.5h.8M299.9 490.5h.8M309.2 502h.8M234.9 544.9h.8M308.2 498.8h.8M323.8 498.3h.8M287.8 522.5h.8M290.9 504.5h.8M244.2 545.5h.8M275.2 532.9h.8M232.8 554.3h.8M237.6 541.2h.8M313.7 531.1h.8M319.7 491h.8M304.5 524.9h.8M292.8 511.1h.8M231.6 556.9h.8M292.9 525.9h.8M227.5 546.1h.8M238.3 540.7h.8M313.6 470.1h.8M230.4 545.1h.8M271.5 508.5h.8M260.2 531h.8M243.3 541.4h.8M307 504.5h.8M307.4 527.9h.8M261.1 523.7h.8M248.5 532.9h.8M247.1 521.9h.8M315.5 476.3h.8M260.9 516.6h.8M293.4 477.3h.8M266.7 524.1h.8M253.1 532.6h.8M267.4 530.9h.8M312.8 492.4h.8M276.6 516.6h.8M246.9 532.1h.8M284.5 523.9h.8M284 529.3h.8M323.9 478.6h.8M272 508.5h.8M284.5 520.5h.8M285.1 497.2h.8M255 540.2h.8M260.1 528.8h.8M244.6 522h.8M240.1 532.1h.8M280.2 502.3h.8M228 553.3h.8M291.3 505.6h.8M278.3 530.1h.8M241 537.5h.8M263.2 512.8h.8M323.9 492.5h.8M280 524.3h.8M314.4 485.6h.8M258 537.1h.8M244 540.9h.8M267 546.3h.8M323.7 513.5h.8M281.4 517.5h.8M270.7 526.6h.8M248.6 533.4h.8M301.8 520.6h.8M299.8 500.8h.8M256.7 537.1h.8M235.1 549.7h.8M312 501.3h.8M275.5 535.4h.8M243.8 534.3h.8M307.4 503h.8M240 545.5h.8M257.2 531.5h.8M260.1 524.6h.8M237 540.5h.8M243.8 551.7h.8M308.3 505.3h.8M267.7 532.9h.8M255.1 547.6h.8M231.1 551.7h.8M235.7 545.1h.8M286.7 520h.8M306.3 498.7h.8M303.2 506.5h.8M289.4 528.6h.8M304.1 507.2h.8M271.3 518h.8M295.3 517.6h.8M244.6 545.5h.8M259.7 524h.8M282.5 505.7h.8M248.9 534.2h.8M253.2 533.3h.8M319.2 455.6h.8M255 536.3h.8M270.9 504.4h.8M314 480.9h.8M230 546.8h.8M316.1 486.6h.8M296.3 487h.8M273.5 520.2h.8M280.4 516.8h.8M291 500.4h.8M231.6 536.1h.8M250.3 527.6h.8M238.7 536.8h.8M257.5 536.6h.8M267.9 522h.8M248.9 510.9h.8M232.9 544.1h.8M322.9 514.4h.8M285.2 526.5h.8M265 535.6h.8M231.1 529.4h.8M268.4 527.2h.8M238.6 531.3h.8M234.8 546.4h.8M304 511.3h.8M234.5 542.2h.8M269.6 494.5h.8M315.8 516.8h.8M266.3 535.9h.8M279.1 510.6h.8M248.5 533.6h.8M288.2 513.8h.8M242.1 537.5h.8M324.7 523.1h.8M230.6 539.7h.8M283.5 511.8h.8M306.5 475.4h.8M254.1 536.4h.8M269.6 544.7h.8M288.3 516.5h.8M294.2 497.4h.8M302.8 493.5h.8M235.6 548.3h.8M297.9 483.2h.8M260.3 527.9h.8M242.7 540.1h.8M299.7 487.1h.8M250.3 528.8h.8M271.4 517.5h.8M310.4 475h.8M235.8 555.6h.8M288 478.9h.8M263.9 537.6h.8M246.2 544h.8M252.3 521h.8M224.8 546.6h.8M290.2 498h.8M243.3 533.1h.8M285.7 509.3h.8M279 522.7h.8M281.3 506.1h.8M293.2 510.2h.8M320.8 466.5h.8M259.3 514.2h.8M312.9 494.7h.8M264.3 529h.8M310.9 489h.8M278.4 529.7h.8M298.3 486.2h.8M246.8 535.3h.8M276.8 527.8h.8M256.8 533.6h.8M253.5 544.6h.8M263.2 528.4h.8M272.6 529h.8M271.5 504.1h.8M287 524.1h.8M278.1 522.7h.8M291.5 489.1h.8M306.7 483.4h.8M244.7 552.2h.8M244 536.4h.8M232.3 550.1h.8M300.7 496.4h.8M242.6 540.9h.8M287.2 487h.8M303.8 519.8h.8M307.7 516.1h.8M245.8 536.6h.8M273.4 516.6h.8M302.5 497.4h.8M272.5 532.4h.8M292 499.6h.8M256.6 532.2h.8M240 536.5h.8M233.2 542.7h.8M234.7 525.8h.8M233.7 542h.8M233.7 546.1h.8M294.1 505.6h.8M243 544h.8M256.6 547.8h.8M234.8 541.2h.8M288.3 518h.8M319.8 507.2h.8M294.3 511.4h.8M234.4 534.4h.8M269.7 530.9h.8M229.5 543.5h.8M314.2 482.3h.8M255.1 523.8h.8M236.9 545.5h.8M239.1 543.3h.8M319.1 510.1h.8M317.2 470.3h.8M246.8 521.1h.8M244.4 546.8h.8M286.1 505.4h.8M248.5 531h.8M240.8 544.4h.8M270.1 520.2h.8M243.6 549.5h.8M249.8 527.9h.8M266.9 520.2h.8M272.6 524.8h.8M240.8 542.8h.8M312.5 505.8h.8M230 553.8h.8M281 509.2h.8M273.1 523.1h.8M267.7 530.6h.8M304.6 505.5h.8M279.6 501.2h.8M277.4 520.2h.8M224.7 555.6h.8M272.8 530.8h.8M310.4 493.4h.8M305.9 492.1h.8M284.8 522.4h.8M289.7 526.2h.8M270.7 518.6h.8M270.7 531.8h.8M300.8 497.4h.8M313.1 499.4h.8M244.1 536.3h.8M271.2 499.3h.8M294.3 522.6h.8M299.6 499.6h.8M286 520.9h.8M291.3 510h.8M284.5 511.2h.8M238.4 551.7h.8M234.7 549.6h.8M309.5 504.5h.8M237.8 536h.8M270.4 512.1h.8M242.3 523.2h.8M278.8 482.8h.8M240.8 529.5h.8M293 512.2h.8M304.4 514.9h.8M309.4 495.2h.8M283.6 505h.8M308.6 480h.8M280.7 518.3h.8M273.1 525.3h.8M310.1 497.3h.8M238.2 547.4h.8M239.6 538.4h.8M272.7 535.5h.8M230.3 544h.8M231.1 549.8h.8M301.4 489.9h.8M315.5 511.2h.8M290.9 503.9h.8M310.1 499.9h.8M287.7 538h.8M316 466.8h.8M301.7 491.5h.8M303.1 509.1h.8M274 523.5h.8M263.7 511.7h.8M286.1 514.8h.8M245.4 518.8h.8M283.2 496.2h.8M239 551.4h.8M285.8 515.6h.8M253.6 536.9h.8M259.8 524.9h.8M259.4 528.3h.8M230 541.7h.8M298.1 487.2h.8M283.5 501.2h.8M240.1 531.5h.8M234.1 552.1h.8M231.8 543.6h.8M251.3 520.1h.8M225.3 534.1h.8M285 514.2h.8M243.7 543.2h.8M240 549.9h.8M301.9 497.2h.8M293.1 496h.8M231.3 545.3h.8M245.3 550.1h.8M302.6 499.8h.8M247.5 540.5h.8M237.8 544.6h.8M253.3 529.1h.8M271.5 519.8h.8M291.1 506.2h.8M311.1 488.9h.8M306.8 479.9h.8M250.4 541h.8M292.1 511.2h.8M275.3 527.2h.8M303.9 494.3h.8M288.2 492.2h.8M304.5 494.9h.8M232 551.2h.8M260.8 525.9h.8M294 512.8h.8M283.8 518h.8M300.5 487.4h.8M240.8 526.3h.8M230.9 549.1h.8M293 532.6h.8M285.4 486.9h.8M285.5 500.4h.8M243.9 546.2h.8M277.1 541.1h.8M279.9 518.7h.8M281.2 541.4h.8M265.5 513.6h.8M274.7 529.9h.8M261.7 521.5h.8M240.5 532.7h.8M317.9 498.4h.8M303.9 486.1h.8M271.2 521.5h.8M235.4 558.2h.8M241.6 549.1h.8M286.1 500h.8M263.6 532.8h.8M257.7 535.6h.8M272.3 530h.8M237.7 551.7h.8M261.4 543.5h.8M230.8 548.7h.8M232 552.6h.8M288.5 522.3h.8M305.2 482.3h.8M246.3 521.3h.8M248.9 531h.8M272 524.5h.8M248.9 551.4h.8M310.1 518.2h.8M249.3 531h.8M301 492.4h.8M291.1 500h.8M282.1 510.9h.8M253.4 538.9h.8M317.4 488.3h.8M238.4 535.5h.8M323.6 485.1h.8M313.6 499.1h.8M307.9 507.1h.8M291.5 490.2h.8M295.4 523h.8M284.9 513.1h.8M288.7 498.4h.8M292.1 515.1h.8M252.6 531h.8M289 517.3h.8M243.3 531.1h.8M316.6 498.6h.8M291.4 479.9h.8M296.1 517.1h.8M241.8 540.3h.8M311 491.8h.8M320.7 488.6h.8M251.7 518.7h.8M253.2 532.2h.8M240.8 535.6h.8M280.4 517.7h.8M255.9 541.2h.8M249.3 545h.8M276.3 511.6h.8M257.4 530.8h.8M236.5 551.9h.8M310.6 485.7h.8M320.2 479.1h.8M265.7 533.2h.8M247.7 527.4h.8M292.8 499.6h.8M231.3 546.3h.8M272.4 514.7h.8M261.2 524.3h.8M241.6 536.2h.8M241.2 558.3h.8M319 508.5h.8" stroke="#8a8a8a" stroke-width="0.75" fill="none"/>
<path d="M290.8 513.4h.8M318.3 506.5h.8M272.5 540.5h.8M273.3 531.5h.8M278.1 530.1h.8M316.8 492.5h.8M287.7 502.4h.8M265.7 533h.8M279.9 530.9h.8M309.1 501.6h.8M321.3 475.5h.8M272.1 516.7h.8M304.9 528.7h.8M299.9 499.5h.8M292.6 520.4h.8M268.9 523.6h.8M265.7 514.6h.8M277.8 516.7h.8M290.4 507h.8M322.6 452.5h.8M288.9 501.9h.8M320.7 499h.8M271.6 533.5h.8M262 528.1h.8M317 505.8h.8M316.9 505.9h.8M301.5 526h.8M323.5 507h.8M267.1 518.2h.8M314.1 481.9h.8M306.8 510.3h.8M322.5 489.9h.8M284.8 518.7h.8M296.7 533.3h.8M290.5 489.2h.8M309 486.7h.8M308.6 501.8h.8M306.3 470.9h.8M314.9 526.5h.8M308.6 496.1h.8M318.5 496.8h.8M292.1 494h.8M267.3 522.5h.8M316.7 517.7h.8M298.1 516.9h.8M273 516.4h.8M294 513.1h.8M302.5 536.3h.8M285.6 532.2h.8M306.7 511.2h.8M286.1 514.4h.8M268.2 526.8h.8M297.9 517.5h.8M284.2 518h.8M293.9 503.4h.8M314.3 511.1h.8M273 508.9h.8M290.4 513.9h.8M270.9 523.2h.8M284.2 506.3h.8M306 499.9h.8M295.6 514.3h.8M307.2 484.1h.8M267.6 519.4h.8M302.9 491.8h.8M317.2 493.4h.8M318.6 490.2h.8M282 533.2h.8M296.9 505.1h.8M286.7 513h.8M309.7 501.7h.8M291.7 506.1h.8M260.9 513.1h.8M277.2 512.9h.8M323 471.9h.8M311.4 515h.8M281 523.1h.8M269.1 508.1h.8M261.9 527.5h.8M302.7 536.7h.8M277.3 513.8h.8M323.4 492.6h.8M275.4 507.8h.8M311.7 500.9h.8M292.1 513.7h.8M289.6 502.8h.8M268.4 519.2h.8M289.3 502.3h.8M267.7 534.6h.8M307.8 510.9h.8M284.9 509.8h.8M306.7 501.7h.8M272.5 509.2h.8M319.7 471.7h.8M265.8 527.9h.8M295.8 503.3h.8M262 528.1h.8M278.8 515h.8M301.9 485.2h.8M273.1 518.8h.8M276.4 534.1h.8M305.9 513.3h.8M295.5 499.9h.8M304.7 513.7h.8M272.3 510.4h.8M307 494.8h.8M288.2 514.7h.8M318.2 495.7h.8M265.4 495h.8M258.3 547.8h.8M272.2 550.2h.8M307.7 507.2h.8M309.3 497.1h.8M279.7 482.6h.8M283.8 517.1h.8M313 508.1h.8M320.2 490.2h.8M285.9 532h.8M295.3 482.2h.8M277.1 529.6h.8M293.2 538h.8M305.8 508.6h.8M273.6 527.3h.8M311.6 495h.8M266.2 539.4h.8M287.4 485.4h.8M282.5 525.5h.8M305.8 501.9h.8M301.7 492.7h.8M288.1 491.3h.8M266.1 536.8h.8M316.6 520.4h.8M265 534.1h.8M290.9 495.2h.8M297.1 512.3h.8M288.5 504.7h.8M272.9 529.3h.8M308.3 484.8h.8M298.3 491h.8M276.8 517.7h.8M312.3 526.2h.8M261.1 505.2h.8M307.1 491.2h.8M284.5 510.3h.8M272 532.4h.8M282.4 539.7h.8M266.2 515.4h.8M296.9 493.3h.8M322.3 499.9h.8M315.1 496.3h.8M312.1 485h.8M320.8 499h.8M312.7 484.4h.8M286.4 513.9h.8M282.1 531.7h.8M296.4 518.1h.8M274.8 517.5h.8M280.7 516.9h.8M278.1 524.2h.8M301.9 492.2h.8M281.1 520h.8M316 466.1h.8M312.3 497.5h.8M262.6 535.1h.8M265.8 526.3h.8M269 513.9h.8M315.9 501.2h.8M266 528.1h.8M264.9 536.2h.8M294.9 501.3h.8M270.5 537.6h.8M320.8 476.5h.8M277.7 519.3h.8M279.6 519h.8M283.4 504.8h.8M272.1 523.7h.8M304.3 494.1h.8M287.1 506.5h.8M294.5 503.9h.8M320.6 479.6h.8M313.9 474.6h.8M271.9 514.3h.8M293.1 520.7h.8M311.4 477.7h.8M294 487.2h.8M280.6 532.5h.8M324.6 477.1h.8M278.4 514.2h.8M295.1 473.6h.8M268.7 535.9h.8" stroke="#a5a5a5" stroke-width="0.75" fill="none"/>
<path d="M216 530.4h.8M247.3 539.5h.8M219 543.5h.8M254.5 537h.8M238.7 530.9h.8M244.1 540.3h.8M243.1 528.7h.8M222.8 538.8h.8M243.1 530.1h.8M222.7 554.4h.8M262 540.4h.8M226.4 543.2h.8M241.9 556.3h.8M238.2 545h.8M267.5 539.2h.8M244 535.5h.8M248.4 541.9h.8M257 536.8h.8M254 525.9h.8M238.2 545h.8M240.2 548.6h.8M235.4 540h.8M255 528.2h.8M251.7 529.5h.8M221.9 542h.8M247.2 546.8h.8M231.1 540h.8M233.9 539.6h.8M238 535.8h.8M237.8 539.6h.8M236.3 538.2h.8M243.1 536.5h.8M245.8 531.3h.8M253.1 534h.8M253.9 544.8h.8M243 551.8h.8M231.8 540.7h.8M234.2 536.5h.8M241.5 541.2h.8M242.7 543.2h.8M249.3 543.3h.8M225.4 544.3h.8M223.3 537.8h.8M230.9 534.4h.8M246.4 533.9h.8M241.7 539.2h.8M264.6 525.4h.8M221.1 549.9h.8M214.2 536.4h.8M251.5 532.3h.8M239.6 546.2h.8M256.1 533.1h.8M240.2 539.6h.8M219.8 553.6h.8M221.8 548.3h.8M266.4 522.7h.8M240.4 529.4h.8M232.5 557h.8M249.3 524.8h.8M259.6 538.5h.8M239.4 534.7h.8M235.4 546.7h.8M241.9 541.7h.8M250.3 543.4h.8M265 534.9h.8M232.9 542.8h.8M241.9 544.7h.8M225.2 534.1h.8M223.4 546.6h.8M220.7 535.8h.8M239.1 525.7h.8M254 536.9h.8M260.3 544.2h.8M257.2 550h.8M237.9 542.4h.8M239.3 533.9h.8M232.9 545.9h.8M231.5 533.1h.8M230.1 528.6h.8M259.7 532.6h.8M228.4 544.5h.8M227.8 552.4h.8M222.8 538.2h.8M250.4 525.8h.8M252.8 530.5h.8M233.1 524.6h.8M218 543.5h.8M240.6 542.7h.8M251.9 528.4h.8M259.1 532.4h.8M241.7 541.9h.8M250 533.1h.8M250.1 544.6h.8M238.6 528.9h.8M263.7 537.9h.8M236.8 532.9h.8M255.4 531.3h.8M242.6 534.6h.8M234.3 551.4h.8M233.9 528.6h.8M240.9 536.5h.8M244.3 535.8h.8M242.5 544.4h.8M236.2 539.1h.8M235.6 541h.8M235.9 545.2h.8M259.7 543.7h.8M250.5 537.4h.8M252.4 531.2h.8M252.5 533.9h.8M226.2 539.8h.8M223 549.4h.8M230 539.9h.8M258.7 520.6h.8M259.5 535.8h.8M242.4 528.9h.8M224.9 548h.8M250.2 543.7h.8M250 551h.8M244.9 530h.8" stroke="#777" stroke-width="0.75" fill="none"/>
<path d="M301.5 505.7h.8M286 470.3h.8M299.9 518.2h.8M256.4 533.4h.8M239.5 531.8h.8M309 461.7h.8M294.7 476.3h.8M241.1 483.5h.8M300.7 516.9h.8M254.2 522.1h.8M304.5 465.2h.8M310.8 503.2h.8M283.8 542.9h.8M234.2 497h.8M292.5 444.2h.8M255.1 505.6h.8M261.9 501.3h.8M307.5 455.6h.8M293.7 475.3h.8M218.8 496.3h.8M224.2 495.9h.8M228.8 494.3h.8M233.6 494.2h.8M280.1 521.1h.8M224.2 541.4h.8" stroke="#bbb" stroke-width="0.75" fill="none"/>
<path d="M219 556L222 547.5L257 534.5L273 552Z" fill="none" stroke="#555" stroke-width="0.6"/>
<path d="M219.6 551.5C219.9 549.7 221.8 547.4 224 545.9C226.2 544.4 229.6 543.2 232.8 542.5C235.9 541.8 240 541.4 242.8 541.8C245.5 542.1 248.2 543.3 249 544.6C249.8 545.9 249.4 548.3 247.8 549.6C246.1 551 242.1 551.8 239 552.8C235.9 553.8 231.8 555 229 555.6C226.2 556.2 223.7 557.2 222.1 556.5C220.6 555.8 219.3 553.3 219.6 551.5Z" fill="none" stroke="#222" stroke-width="0.55"/>
<path d="M222.5 551C222.8 549.6 224.2 547.7 226 546.5C227.8 545.3 230.5 544.3 233 543.8C235.5 543.2 238.8 542.9 241 543.2C243.2 543.5 245.3 544.5 246 545.5C246.7 546.5 246.3 548.4 245 549.5C243.7 550.6 240.5 551.2 238 552C235.5 552.8 232.2 553.8 230 554.3C227.8 554.8 225.8 555.5 224.5 555C223.2 554.5 222.2 552.4 222.5 551Z" fill="none" stroke="#222" stroke-width="0.55"/>
<path d="M224.8 550.6C225 549.5 226.2 548 227.6 547C229 546 231.2 545.3 233.2 544.8C235.2 544.4 237.9 544.1 239.6 544.4C241.3 544.6 243.1 545.4 243.6 546.2C244.1 547 243.9 548.5 242.8 549.4C241.7 550.3 239.2 550.8 237.2 551.4C235.2 552 232.6 552.8 230.8 553.2C229 553.6 227.4 554.2 226.4 553.8C225.4 553.4 224.6 551.7 224.8 550.6Z" fill="none" stroke="#222" stroke-width="0.55"/>
<path d="M236 549.5C236.1 549.9 235.9 550.6 235.5 551.2C235 551.8 234.1 552.5 233.3 552.9C232.4 553.3 231.2 553.7 230.2 553.8C229.2 554 228.1 553.9 227.4 553.7C226.7 553.5 226.2 553 226 552.5C225.9 552.1 226.1 551.4 226.5 550.8C227 550.2 227.9 549.5 228.7 549.1C229.6 548.7 230.8 548.3 231.8 548.2C232.8 548 233.9 548.1 234.6 548.3C235.3 548.5 235.8 549 236 549.5Z" fill="none" stroke="#000" stroke-width="0.75"/>
<path d="M234.6 549.9C234.7 550.2 234.5 550.7 234.2 551.2C233.9 551.6 233.3 552 232.6 552.4C232 552.7 231.1 552.9 230.4 553C229.7 553.1 228.9 553.1 228.4 552.9C227.9 552.8 227.5 552.5 227.4 552.1C227.3 551.8 227.5 551.3 227.8 550.8C228.1 550.4 228.7 550 229.4 549.6C230 549.3 230.9 549.1 231.6 549C232.3 548.9 233.1 548.9 233.6 549.1C234.1 549.2 234.5 549.5 234.6 549.9Z" fill="none" stroke="#000" stroke-width="0.75"/>
<path d="M233.5 550.4C233.6 550.7 233.3 551 233 551.3C232.6 551.6 231.9 552 231.3 552.2C230.7 552.3 229.9 552.4 229.5 552.4C229 552.4 228.6 552.2 228.5 552C228.4 551.7 228.7 551.4 229 551.1C229.4 550.8 230.1 550.4 230.7 550.2C231.3 550.1 232.1 550 232.5 550C233 550 233.4 550.2 233.5 550.4Z" fill="#fff" stroke="#000" stroke-width="0.6"/>
<text x="239.2" y="549.8" font-size="12">95.7</text>
<text x="278.3" y="463.3" font-size="12.8" font-weight="bold">D135</text>
<rect x="209" y="442.3" width="117.7" height="116.9" fill="none" stroke="#585858" stroke-width="1"/>
<text x="209" y="571.2" font-size="6.5" text-anchor="middle" font-weight="bold" stroke="#000" stroke-width=".25">0</text>
<text x="232" y="571.2" font-size="6.5" text-anchor="middle" font-weight="bold" stroke="#000" stroke-width=".25">200</text>
<text x="255" y="571.2" font-size="6.5" text-anchor="middle" font-weight="bold" stroke="#000" stroke-width=".25">400</text>
<text x="278" y="571.2" font-size="6.5" text-anchor="middle" font-weight="bold" stroke="#000" stroke-width=".25">600</text>
<text x="301" y="571.2" font-size="6.5" text-anchor="middle" font-weight="bold" stroke="#000" stroke-width=".25">800</text>
<text x="324.1" y="571.2" font-size="6.5" text-anchor="middle" font-weight="bold" stroke="#000" stroke-width=".25">1000</text>
<path d="M209 559.2v2.4M214.8 559.2v1.3M220.5 559.2v1.3M226.3 559.2v1.3M232 559.2v2.4M237.8 559.2v1.3M243.5 559.2v1.3M249.3 559.2v1.3M255 559.2v2.4M260.8 559.2v1.3M266.5 559.2v1.3M272.3 559.2v1.3M278 559.2v2.4M283.8 559.2v1.3M289.5 559.2v1.3M295.3 559.2v1.3M301 559.2v2.4M306.8 559.2v1.3M312.5 559.2v1.3M318.3 559.2v1.3M324.1 559.2v2.4" stroke="#585858" stroke-width="0.7" fill="none"/>
<text x="204" y="561.4" font-size="6.5" text-anchor="end" font-weight="bold" stroke="#000" stroke-width=".25">0</text>
<text x="204" y="538.5" font-size="6.5" text-anchor="end" font-weight="bold" stroke="#000" stroke-width=".25">200</text>
<text x="204" y="515.7" font-size="6.5" text-anchor="end" font-weight="bold" stroke="#000" stroke-width=".25">400</text>
<text x="204" y="492.8" font-size="6.5" text-anchor="end" font-weight="bold" stroke="#000" stroke-width=".25">600</text>
<text x="204" y="470" font-size="6.5" text-anchor="end" font-weight="bold" stroke="#000" stroke-width=".25">800</text>
<text x="204" y="447.1" font-size="6.5" text-anchor="end" font-weight="bold" stroke="#000" stroke-width=".25">1000</text>
<path d="M209 559.2h-2.4M209 553.5h-1.3M209 547.8h-1.3M209 542.1h-1.3M209 536.3h-2.4M209 530.6h-1.3M209 524.9h-1.3M209 519.2h-1.3M209 513.5h-2.4M209 507.8h-1.3M209 502.1h-1.3M209 496.4h-1.3M209 490.6h-2.4M209 484.9h-1.3M209 479.2h-1.3M209 473.5h-1.3M209 467.8h-2.4M209 462.1h-1.3M209 456.4h-1.3M209 450.6h-1.3M209 444.9h-2.4" stroke="#585858" stroke-width="0.7" fill="none"/>
<text x="187.2" y="500.2" font-size="6.5" text-anchor="middle" font-weight="bold" stroke="#000" stroke-width=".25" transform="rotate(-90 187.2 500.2)">SSC-H: SSC-Height</text>
<path d="M64.1 714.5h.8M84.3 698.2h.8M113.1 697.8h.8M93.8 697.9h.8M104.2 692.8h.8M132.3 699h.8M117.4 701.9h.8M119.1 703.8h.8M87.1 704.9h.8M101.7 699.3h.8M107.8 698.9h.8M78.8 702.9h.8M96.1 698.5h.8M83.5 704h.8M91 705.4h.8M94.1 706.9h.8M91.7 700.9h.8M119.4 710.7h.8M90.7 701.9h.8M112.8 695.1h.8M63.4 698.9h.8M86.4 703.4h.8M101.9 702.4h.8M75.2 706.5h.8M98.1 701.1h.8M101.5 703.2h.8M70.5 714h.8M95.9 701.5h.8M86.5 702.3h.8M97.2 706.8h.8M95.3 706.9h.8M97.4 707h.8M77.7 701.6h.8M93.3 699.4h.8M115.5 701.8h.8M90.8 706.4h.8M62.5 712.7h.8M74.3 700.9h.8M114.3 702.5h.8M85.1 695.2h.8M95.3 701.5h.8M97.9 702.6h.8M97.3 697.5h.8M129.9 694.2h.8M94.9 701.1h.8M90.2 701.7h.8M87.5 704.9h.8M93.3 704.6h.8M88.2 703.2h.8M96.1 711h.8M89.4 709.6h.8M110.1 696.4h.8M110.6 691.4h.8M95.3 706h.8M130.7 698.7h.8M79 714.4h.8M104.8 703.7h.8M99.9 700.8h.8M102.3 699.7h.8M96 700.5h.8M74.1 705.3h.8M65.2 702.9h.8M119.5 701.9h.8M106.7 697.2h.8M97.6 711.1h.8M83.7 705.8h.8M98.9 694.7h.8M103.4 697.2h.8M98.5 702.7h.8M90.9 703h.8M88.8 701.9h.8M95.5 702h.8M90.8 700.4h.8M113.1 701h.8M64.1 705.4h.8M86.1 716.2h.8M93.8 704.4h.8M92.2 707.7h.8M90.1 702.5h.8M117.9 695.9h.8M93.7 689.2h.8M118.1 702.8h.8M101.2 700h.8M85.9 705.6h.8M111.1 698.9h.8M100.9 699.2h.8M73.7 700.7h.8M88.1 706.9h.8M114.4 704.2h.8M86 705.7h.8M89 707.4h.8M110.2 705.8h.8M101.3 705h.8M64.3 717.1h.8M92.2 700.2h.8M116.1 691.5h.8M81.2 711.8h.8M81 700.2h.8M114.7 696.9h.8M72.5 696.6h.8M87.8 704.4h.8M120.6 700.6h.8M62.9 708.3h.8M107.1 701.1h.8M101.5 708.1h.8M102.3 702.5h.8M107 703.5h.8M85.1 705.2h.8M84.7 696.8h.8M105 696.8h.8M95.8 694.6h.8M93.1 699.2h.8M68.4 701.9h.8M95.3 707.4h.8M116.6 701.1h.8M108.1 704.9h.8M98 704.8h.8M105.9 699.1h.8M120.3 698.2h.8M79.3 701.9h.8M77.7 698h.8M102.3 707.6h.8M93.7 706.1h.8M100.6 710.5h.8M110.6 699.3h.8M99.5 705.1h.8M89.6 707.8h.8M109.6 697.6h.8M72.6 705.8h.8M101.8 706.3h.8M89.5 704.2h.8M87.8 709.5h.8M85 701.9h.8M113.7 703.6h.8M95.8 703.3h.8M120.3 698.5h.8M107.9 700h.8M99 693.5h.8M92.1 702.4h.8M92.6 707.7h.8M75.7 707.4h.8M99.5 705.6h.8M111.1 701.9h.8M103.6 704.4h.8M125.6 700.7h.8M97.7 708.2h.8M90.9 702.8h.8M67.4 703.6h.8M96.6 709.4h.8M91.7 697.4h.8M83 708.7h.8M86.5 699.6h.8M92.8 695.5h.8M95.2 698h.8M101 704.6h.8M89.1 709.4h.8M107.9 703.1h.8M106.9 706.3h.8M104 710.3h.8M108.9 703.2h.8M94.4 694.2h.8M65.3 713.3h.8M109.9 697.2h.8M89.9 706.2h.8M92.9 701.7h.8M88.2 701h.8M103.5 708h.8M90.8 704.5h.8M111.8 707.8h.8M73.7 710.6h.8M94.1 702.9h.8M83.1 709.6h.8M95.3 705.5h.8M109.2 701.4h.8M85.6 699.8h.8M106.5 701.5h.8M117.7 701.8h.8M84.4 695.8h.8M102.7 704h.8M82.2 705h.8M101.1 704.2h.8M111.3 702.6h.8M97.6 703.6h.8M115.6 704.9h.8M86.1 700.6h.8M96.6 701.5h.8M62.6 711.9h.8M103.6 702.9h.8M80.2 705.2h.8M122.9 703.7h.8M100.4 696.4h.8M77.3 707.9h.8M74.2 705.3h.8M82.4 712.2h.8M83.3 703.9h.8M71.1 701.5h.8M80.8 704.6h.8M71.4 703.6h.8M108.7 710.4h.8M81 707.2h.8M68.2 705h.8M99.9 705.1h.8M92.2 703.4h.8M87.3 704.8h.8M99.8 706.7h.8M112.5 697.2h.8M90.7 710h.8M94 703.1h.8M71.9 708.2h.8M109.6 690h.8M114.1 701.5h.8M82.3 707.9h.8M102.3 697.7h.8M69 703.7h.8M109.4 696.9h.8M87.7 703.4h.8M87.6 705.9h.8M98.4 695.7h.8M108.8 706.1h.8M116.9 694.1h.8M84.1 707.3h.8M78.7 703.9h.8M125.9 698.2h.8M149.5 684.4h.8M125.5 706.6h.8M87 706.7h.8M82 701.6h.8M106 714.1h.8M97.7 704.5h.8M71.7 711h.8M101 697.5h.8M87.8 705.2h.8M102.9 694.6h.8M99.8 709.3h.8M106.8 699h.8M98.1 710.3h.8M83.5 701h.8M109.1 701.6h.8M92.1 700.4h.8M67.7 706.9h.8M90.2 705.5h.8M84.1 697.8h.8M67.9 699.5h.8M81.8 708.5h.8M64.9 709h.8M89.3 706.7h.8M74.8 711.6h.8M94.5 700h.8M114.3 688.3h.8M80.3 711.7h.8M87.3 697.8h.8M95.1 703.2h.8M104.7 698.8h.8M108.9 693.2h.8M111.2 695.3h.8M90.6 694.9h.8M128.6 695.6h.8M105.3 699h.8M101.2 701.3h.8M107.9 710.2h.8M57 703.8h.8M92.1 704.8h.8M114.5 708.7h.8M101.1 697.7h.8M92.5 702.2h.8M107 700.2h.8M100.8 707.5h.8M76.7 705.7h.8M93 700.3h.8M99 698.6h.8M67.5 711.9h.8M93.2 695.6h.8M99.6 697.8h.8M83.9 708.9h.8M100.7 700h.8M89.5 698.5h.8M118.6 697.9h.8M109.6 699.1h.8M83.2 705.1h.8M98.6 706.5h.8M100.1 708.8h.8M71.2 702.4h.8M95.2 690.6h.8M73.2 704.3h.8M77.1 704h.8M87.6 707.2h.8M85.6 708.9h.8M76.1 707.1h.8M72 693.4h.8M86.1 709.8h.8M79.8 702.1h.8M83.6 705.1h.8M101.3 702.1h.8M101.3 697.3h.8M87.2 707.2h.8M108.6 700.1h.8M80.4 702.3h.8M84.3 699.1h.8M87.6 703.4h.8M117.9 701.6h.8M114.3 701h.8M90.2 711.1h.8M92.7 704.6h.8M102.8 705.7h.8M79.8 698.9h.8M114.7 690.7h.8M90.4 703h.8M87.4 700h.8M87.2 702.1h.8M85.4 706.2h.8M78.1 694.6h.8M82.2 708.5h.8M77.2 698.9h.8M87.1 706.7h.8M87.2 700.5h.8M72.5 705.6h.8M54.6 703.1h.8M88.5 706.4h.8M66.6 711.7h.8M98.5 701.3h.8M100.4 705.5h.8M99.5 695.4h.8M109.3 708.6h.8M114.5 694.4h.8M77.9 711.9h.8M92.6 714.1h.8M105.1 705.5h.8M85.1 712.3h.8M96.8 697.1h.8M82.1 703.5h.8M90.8 702.7h.8M88.1 692.2h.8M77.8 706.3h.8M81.6 702.1h.8M105 700.5h.8M70.5 706.2h.8M94.7 699h.8M112.6 706h.8M116 706.9h.8M127.8 700.6h.8M102.6 697.1h.8M116.5 695.5h.8M89.2 700.4h.8M101.7 703.5h.8M114.8 704.8h.8M83.4 693.5h.8M83.7 707.2h.8M113.2 694.7h.8M97.2 702.7h.8M110.9 699.9h.8M98.3 699.6h.8M69.2 703.8h.8M90.4 696.4h.8M125.1 705.2h.8M122.9 702.9h.8M74.5 702.6h.8M99.9 710.6h.8M95.8 699.4h.8M110 699.3h.8M102.4 699.6h.8M87.3 706.2h.8M103.7 702.6h.8M106 706.4h.8M87.5 704.1h.8M114.7 697.5h.8M82.3 704h.8M64.5 711.4h.8M78.2 707.4h.8M109.3 699.2h.8M98.6 701.2h.8M92.9 700.9h.8M94 705.1h.8M119.8 693.5h.8M100.1 697.1h.8M109.8 705h.8M115.6 696.3h.8M142.4 698h.8M115.2 698.8h.8M120.1 701.3h.8M94 702.8h.8M92.2 703.6h.8M117.3 703.2h.8M96.4 698.7h.8M102.1 705.3h.8M97.8 708.6h.8M89.9 713.8h.8M106.5 702.1h.8M82.6 700.8h.8M108.7 703.8h.8M89.5 711.8h.8M96.5 709.5h.8M87.4 699.5h.8M114 702.5h.8M104.2 704.2h.8M103.8 700.7h.8M104.1 701.3h.8M98.9 702.8h.8M113.1 692.6h.8M93 707.5h.8M82.7 709.9h.8M89 708.6h.8M87.6 700.7h.8M110.5 706.4h.8M94.2 702.8h.8M66.8 709.8h.8M75 701.3h.8M105.7 701.4h.8M87.8 705.4h.8M112.1 697.4h.8M111.4 696.3h.8M81.5 710.7h.8M92.5 708.8h.8M75.7 699.3h.8M95.8 710.8h.8M73.3 703.6h.8M111.1 704.5h.8M113.9 704.6h.8M99.1 698.1h.8M74.5 707.9h.8M108.3 695.6h.8" stroke="#444" stroke-width="0.75" fill="none"/>
<path d="M97.6 701.5h.8M96.2 698.9h.8M95.1 696.6h.8M102.7 699.5h.8M89.1 701.7h.8M95 702.9h.8M106.6 697.1h.8M94.3 700.5h.8M84 700.3h.8M107.8 701.8h.8M98.4 704.5h.8M130.1 702.3h.8M79 706.7h.8M119.5 700h.8M110.4 697.7h.8M88.2 704.5h.8M96.9 702.9h.8M114.8 697.1h.8M86.7 701.6h.8M105.5 695.3h.8M98 703.3h.8M96.6 701.3h.8M94.8 701.6h.8M94.6 698.6h.8M96.1 702.7h.8M100 702.7h.8M110 697.5h.8M89.9 700.5h.8M115.5 698.1h.8M108.7 703.8h.8M139.2 697.4h.8M99.5 698.4h.8M76.3 705.3h.8M103.1 695h.8M93 700.1h.8M90.9 698h.8M102.4 701.2h.8M73.6 701.5h.8M91.9 705h.8M119.5 702.8h.8M107.7 698.2h.8M96.2 695.9h.8M77.5 704.9h.8M109.5 700.5h.8M116.7 703h.8M99.4 698.4h.8M92.3 698h.8M88.7 700.1h.8M85.9 700h.8M95.2 703.5h.8M108.8 703.5h.8M103.7 698.2h.8M89.9 699.7h.8M101.8 701.4h.8M119.3 700.1h.8M106.5 701.8h.8M92.1 701h.8M88.1 699.8h.8M103 704.8h.8M81.2 696.2h.8M89.4 705.9h.8M88.8 698.6h.8M110 700.3h.8M96.7 701.2h.8M118.2 702.4h.8M111.8 702.1h.8M101.1 704.1h.8M92.7 702.6h.8M90.7 701.9h.8M112.5 698.3h.8M113.8 703h.8M110.2 704h.8M104.3 693.3h.8M80.2 701.5h.8M105.7 694.6h.8M79.9 698.1h.8M99.6 697.5h.8M84.4 706h.8M110.5 698.3h.8M118.9 696.5h.8M96.4 698.2h.8M98.4 703.1h.8M94.8 697.8h.8M101.1 702.1h.8M102.9 698.4h.8M107 703.2h.8M111.5 700.6h.8M106.9 705.7h.8M86.8 700.4h.8M97.7 700.8h.8M116 693.1h.8M115.5 699.5h.8M105.3 694.3h.8M125.1 696.8h.8M105.1 699h.8M134.7 697.4h.8M84.8 696.8h.8M99.1 703.8h.8M110.5 701.8h.8M118.7 698.7h.8M89.9 702h.8M103 703.4h.8M96.7 704.2h.8M89 700h.8M89.7 699.6h.8M86.2 701.7h.8M114 694h.8M82.6 699.3h.8M97.7 702.4h.8M97.4 702.2h.8M102.6 693.5h.8M94.7 699.3h.8M114 703.2h.8M94 700.2h.8M120.1 698.7h.8M133.4 695.8h.8M105.8 693.2h.8M106.6 699.3h.8M91.5 704.3h.8M95.5 699.5h.8M97.2 705.9h.8M113.3 698.7h.8M122.3 696.2h.8M106.3 698.8h.8M86.8 704.6h.8M108.7 694.5h.8M113.1 702.6h.8M110.2 700.1h.8M113.6 700.6h.8M112.4 702.7h.8M81.7 705h.8M83.6 710.1h.8M103.6 701.1h.8M85.8 701.6h.8M101.6 699.8h.8M103.8 702.3h.8M79.6 704.4h.8M95.4 698.9h.8M84.4 705.1h.8M94.6 700.4h.8M98.3 701.2h.8M91.6 701.8h.8M96.5 703.4h.8M103.3 699.3h.8M105.4 700.9h.8M88.5 702.8h.8M117.5 697h.8M99.3 702.2h.8M78.3 700.5h.8M103.2 705.4h.8M80.2 707.9h.8M107.1 699.4h.8M105.5 696.2h.8M89 703.8h.8M111.4 697.6h.8M87.1 700.1h.8M120 699.7h.8M120.4 702.9h.8M115.5 699.4h.8M99.4 705.2h.8M86 698h.8M115.1 691.1h.8M106.4 701.5h.8M72.6 703.4h.8M93.5 702.3h.8M89.7 700.9h.8M119.2 701.6h.8M77.8 703.9h.8M108.6 701.5h.8M117.2 703.1h.8M84.5 703.1h.8M112.3 700.6h.8M85.7 704.7h.8M103 709h.8M93.1 704.3h.8M89.2 701.9h.8M103.2 700.5h.8M128.7 693.8h.8M95.2 699.8h.8M103.7 702.7h.8M110.7 700.2h.8M97.9 703.3h.8M108 696.5h.8M110.3 699.7h.8M118.4 701.2h.8M96.9 695.2h.8M84.7 705.8h.8M115.6 702.1h.8M94.5 697.2h.8M90 699h.8M87.7 703h.8M81.9 698.2h.8M92.1 704.5h.8M94.3 702.1h.8M99.6 700.2h.8M102.8 699.6h.8M109.7 704.1h.8M90.7 702.3h.8M72.3 703.2h.8M93.1 698.8h.8M108.5 699.1h.8M116.2 702h.8M107 694.8h.8M85.5 704.4h.8M102.3 702.6h.8M121.9 696.6h.8M114.3 698.1h.8M97.2 697.9h.8M78.1 706.5h.8M99.2 693.3h.8M107.2 702.5h.8M123.9 695.1h.8M110.5 693.9h.8M98.3 705.4h.8M110.5 701.7h.8M112.7 699.7h.8M104.2 703.1h.8M91.4 697.2h.8M120.6 694h.8M96.3 703.4h.8M92 702.3h.8M111.8 695h.8M91 697.4h.8M97.4 703.1h.8M100.4 699.1h.8M106.7 699.9h.8M105.3 705.1h.8M105.9 699.1h.8M113.3 698.1h.8M110.7 702.4h.8M102 704.7h.8M84.2 697.6h.8M121 695.9h.8M91.2 696.8h.8M115.5 695h.8M71.5 703h.8M107.7 699.4h.8M104 704.3h.8M87.9 700.6h.8M91.8 701.2h.8M86 703.6h.8M100.3 695.7h.8M106.6 701.2h.8M79.5 702.7h.8M96.8 705.7h.8M101.3 703h.8M104.7 698.5h.8M108.2 696.6h.8M113.3 700h.8M94 700.6h.8M90.3 703.8h.8M73.3 703.8h.8M80.7 706.3h.8M94.7 705.8h.8M108.9 703.1h.8M99.6 694.8h.8M118.8 700.6h.8M117.7 705.6h.8M92.1 706.8h.8M118 706.8h.8M91.8 700.7h.8M118.3 696.3h.8M97.9 697.5h.8M102 704.7h.8M111.4 695.5h.8M99 699.5h.8M90.3 701.9h.8M82.6 700.9h.8M99.3 700.4h.8M96.6 703.1h.8M91.3 702.4h.8M103 702.3h.8M75.2 702.8h.8M106.4 707.6h.8M86.8 696h.8M115.1 695.9h.8M106.8 698.9h.8M92.3 699h.8M104.8 702.2h.8M96.1 699.5h.8" stroke="#262626" stroke-width="0.75" fill="none"/>
<path d="M128 698.6h.8M106.5 695.4h.8M105.4 697.4h.8M62.7 702.9h.8M116.3 700.6h.8M82.5 705.2h.8M84.4 696.6h.8M137.5 699.6h.8M106.6 694h.8M132.4 691.7h.8M107.4 691h.8M124.1 689.4h.8M100.7 697.8h.8M90.4 700.7h.8M92.3 701.8h.8M113.4 690.8h.8M114.4 697.4h.8M114.3 689.2h.8M86.9 710.2h.8M120.5 693.1h.8M113.5 699h.8M128.3 699.4h.8M101.8 692.9h.8M87.8 691.9h.8M114.3 694.9h.8M84.1 703.6h.8M87.8 703.2h.8M90.2 701.8h.8M91.5 697.4h.8M100.6 703.6h.8M106.7 693.4h.8M94.3 700h.8M106.7 696.3h.8M82.7 713.7h.8M102.3 693.6h.8M103.4 690.7h.8M110.8 697.2h.8M116.8 695.7h.8M71.4 712.3h.8M119.6 689.3h.8M94.6 692.5h.8M110.5 690.8h.8M98.8 695.2h.8M106.7 701h.8M94.6 701.9h.8M101.5 696.8h.8M96.8 705.8h.8M112.3 685.9h.8M86 704.4h.8M138.7 691.8h.8M91.6 691.3h.8M117.2 698h.8M96.3 709.2h.8M105.6 693.6h.8M115 694.1h.8M117.8 699.6h.8M70.5 709.8h.8M136.3 693.7h.8M102 692.9h.8M118.6 701.2h.8M117.2 695.3h.8M117.1 697h.8M134 690.3h.8M84.5 698.9h.8M87.2 693.6h.8M123.8 680.3h.8M117.9 692.5h.8M115.8 693.3h.8M121.5 698.8h.8M134.3 694h.8M131.7 689.8h.8M104.1 704.1h.8M120.4 695.7h.8M109.4 692.7h.8M112.7 699.7h.8M97 702.8h.8M102.4 699.5h.8M94.1 694.3h.8M94.8 696h.8M126.3 686.9h.8M91.1 698.1h.8M114.6 690.1h.8M88.1 704.3h.8M121.5 695.7h.8M134.1 697h.8M106.9 693.8h.8M110.3 703.9h.8M90.3 698.6h.8M96 701.2h.8M100.9 698.9h.8M115 696.5h.8M115.9 695.3h.8M109.4 701h.8M66.4 695.8h.8M97.2 688.7h.8M81.3 698.7h.8M103.7 696.7h.8M99.7 700.4h.8M99.4 693.3h.8M97 700h.8M116.9 693.6h.8M114.2 699.2h.8M101 701.2h.8M99.7 692.5h.8M141.5 690.1h.8M126.8 700.1h.8M123.8 692.3h.8M105.2 696.4h.8M113.1 704.8h.8M102.4 694.9h.8M104.4 699.4h.8M110.6 688h.8M93.6 705.4h.8M93.3 699.5h.8M103.2 697.2h.8M97.6 684.7h.8M113.2 700.4h.8M86 696.4h.8M106.9 691.6h.8M105.2 691.6h.8M108.2 689.7h.8M76.5 697.9h.8M112.8 701.2h.8M102 699.3h.8M106.8 692.9h.8M109.1 698.7h.8M109.2 687.4h.8M96.8 704.5h.8M94.1 704.5h.8M117 695.5h.8M117.7 693h.8M98.6 690.9h.8M84.6 703.1h.8M98.4 691.5h.8M107.9 691.7h.8M107.1 702.7h.8M109.2 689.7h.8M121.7 693.6h.8M112.2 693.4h.8M94 697.4h.8M80.4 699.8h.8M100.6 701h.8M64.3 711h.8M117.6 695.1h.8M108.4 702.5h.8M109.4 689h.8M95.9 696.9h.8M80.6 700.4h.8M103.5 698.3h.8M122.5 692h.8M125.1 691h.8M99.9 701.1h.8M128.2 688.1h.8M102.4 697.1h.8M100 703.7h.8M119.2 697.4h.8M95 699.9h.8M68.5 702.7h.8M124.5 685.3h.8M101.4 701.7h.8M70.4 706.3h.8M106.4 698.8h.8M106.4 696h.8M62.2 705.2h.8M103.2 697.1h.8M96.8 707.6h.8M102.3 695.4h.8M88.3 702.1h.8M109.1 698.7h.8M99.3 703.5h.8M117.8 692.8h.8M107.4 695.8h.8M96.6 699.5h.8M116.6 696.2h.8M98.1 691.3h.8M99.3 707.1h.8M96.5 688h.8M102.6 695.2h.8M112.6 681.6h.8M120.8 687.9h.8M126.2 700.4h.8M80.8 702.6h.8M114.3 693.2h.8M139.9 691.4h.8M109.9 694.4h.8M76.4 706.1h.8M91.3 695.5h.8M108.6 696.2h.8M98.9 700.7h.8M124.3 691.1h.8M102.8 708.8h.8M119.8 690.5h.8M115 693.7h.8M87.8 684.1h.8M107.9 705.1h.8M119.3 684h.8M103.4 702.9h.8M118.5 698.5h.8M113.1 691.6h.8M113.6 692.1h.8" stroke="#707070" stroke-width="0.75" fill="none"/>
<path d="M116.9 669.1h.8M160.2 682.9h.8M149.8 649.6h.8M112.9 680.7h.8M126.6 702.8h.8M100.8 688h.8M141 668.7h.8M109.3 692.7h.8M106.7 689h.8M155.8 666.3h.8M103.9 705.5h.8M149.9 674.6h.8M120.4 704.9h.8M111.1 639.2h.8M150.9 653.7h.8M131.6 676.3h.8M148.3 678.5h.8M156 650.2h.8M120.8 711.7h.8M132 656.9h.8M101.9 680.9h.8M109.3 702.1h.8M100.1 689.1h.8M104 695.7h.8M163.3 656.8h.8M157.3 699.7h.8M151 670.2h.8M106.6 676.2h.8M121.1 674.6h.8M129.5 693h.8M151.2 666.4h.8M107.8 704.2h.8M100.8 699h.8M114.9 693.4h.8M154.9 699.2h.8M160 679.9h.8M145.7 673.9h.8M139.9 689.5h.8M117.7 678.9h.8M146.9 667.6h.8M129.5 692.9h.8M131.7 676.4h.8M143.3 648.6h.8M99.2 697h.8M145.6 665.4h.8M106.7 686.2h.8M154.1 706.1h.8M110.6 686.7h.8M138.7 687.5h.8M107.4 681h.8M126 685.2h.8M140.1 684.4h.8M109.2 701.2h.8M125.3 666h.8M117.3 674.9h.8M103.3 681.3h.8M122.3 680.6h.8M167.1 662.8h.8M126.7 700.3h.8M132.3 688.4h.8M120.8 673.4h.8M171.7 673.7h.8M107.5 696.8h.8M111.9 688.8h.8M160.2 681.9h.8M128.5 692.3h.8M138.7 678.8h.8M108.4 691.6h.8M110 701.9h.8M100.5 700.9h.8" stroke="#b0b0b0" stroke-width="0.75" fill="none"/>
<path d="M160.1 686.9h.8M113.6 658.4h.8M135.7 660.1h.8M155 704.5h.8M81.8 675.6h.8M97.5 716.6h.8M82 633.4h.8M80.5 713h.8M128.6 694.6h.8M112.8 692.1h.8M105.4 676.3h.8M132.3 700h.8M167.6 686.2h.8M153.5 644.2h.8M78.1 710.4h.8M61.3 670.5h.8M82.9 678h.8M90.1 709.8h.8M65.8 702.7h.8M169.3 665.7h.8M151.1 684.4h.8M80.7 675.8h.8M68.8 657.2h.8M62.4 645.9h.8M160.8 674.9h.8M158.4 670.5h.8M90.7 673.1h.8M97.2 715.9h.8M57.7 647.5h.8M80 674.8h.8M100.5 640.7h.8M127.4 707.7h.8M119.6 659.8h.8M113.9 651.7h.8M58.6 656.8h.8M99.8 698.4h.8M103 707h.8M67.8 657.6h.8M74.8 699.4h.8M73.6 679.6h.8M114.7 694.7h.8M117.2 655.4h.8M168.4 672.6h.8M73.3 678h.8M115.7 638.4h.8M58.3 673.7h.8M140.4 661.7h.8M131.5 652.8h.8M141.5 700h.8M118.2 711h.8" stroke="#bbb" stroke-width="0.75" fill="none"/>
<path d="M102.9 642.7h.8M54.5 642.6h.8M146.1 690.5h.8M105.6 650.8h.8M127 603.5h.8M116.7 699.5h.8M68.8 606.4h.8M113.6 670.9h.8M99.3 647.4h.8M166.8 717.3h.8M172.4 617.7h.8M92.2 629h.8M163.5 671.6h.8M120.9 607.5h.8M149.9 715.2h.8" stroke="#ccc" stroke-width="0.75" fill="none"/>
<path d="M61.5 716.8L64 708.5L112.3 697.8L131.2 707.7L106 716.2Z" fill="none" stroke="#555" stroke-width="0.6"/>
<path d="M61.1 714.6C60.8 713.6 61.8 712.2 63.7 710.8C65.6 709.4 69.4 707.4 72.3 706C75.2 704.6 78.8 703.2 81 702.5C83.2 701.8 83.7 701.5 85.3 701.5C86.9 701.5 88.9 701.8 90.5 702.5C92.1 703.2 92.3 704.7 94.8 705.6C97.2 706.5 101.7 707.4 105.2 707.7C108.7 708 113.6 706.9 115.6 707.3C117.5 707.7 117.8 709.4 116.9 710.3C116 711.2 113.8 712.1 110.4 712.9C107 713.7 101.4 714.5 96.5 715.1C91.6 715.7 86.2 716 81 716.3C75.8 716.6 68.7 717 65.4 716.7C62.1 716.4 61.4 715.6 61.1 714.6Z" fill="none" stroke="#222" stroke-width="0.6"/>
<path d="M65.1 714.2C64.9 713.4 65.8 712.2 67.4 711C69 709.7 72.3 708 74.8 706.8C77.3 705.7 80.4 704.5 82.3 703.8C84.1 703.2 84.6 703 86 703C87.3 703 89.1 703.2 90.4 703.8C91.8 704.4 92 705.8 94.1 706.5C96.2 707.2 100.1 708.1 103.1 708.3C106.1 708.5 110.3 707.6 112 708C113.7 708.3 113.9 709.7 113.1 710.5C112.4 711.3 110.5 712.1 107.5 712.8C104.6 713.5 99.8 714.2 95.6 714.7C91.4 715.2 86.7 715.5 82.3 715.7C77.8 715.9 71.7 716.3 68.8 716C66 715.8 65.4 715.1 65.1 714.2Z" fill="none" stroke="#222" stroke-width="0.6"/>
<path d="M69.2 713.9C69 713.2 69.7 712.2 71.1 711.1C72.4 710.1 75.2 708.7 77.3 707.7C79.3 706.7 82 705.7 83.5 705.2C85.1 704.6 85.5 704.4 86.6 704.4C87.8 704.4 89.2 704.7 90.4 705.2C91.5 705.7 91.7 706.8 93.5 707.4C95.2 708 98.4 708.7 100.9 708.9C103.4 709.1 107 708.3 108.4 708.6C109.8 708.9 110 710.1 109.4 710.8C108.7 711.4 107.1 712.1 104.7 712.6C102.2 713.2 98.2 713.8 94.7 714.2C91.2 714.6 87.3 714.9 83.5 715.1C79.8 715.3 74.7 715.6 72.3 715.4C69.9 715.2 69.4 714.6 69.2 713.9Z" fill="none" stroke="#222" stroke-width="0.6"/>
<path d="M73.2 713.5C73.1 712.9 73.7 712.1 74.7 711.3C75.8 710.5 78.1 709.3 79.7 708.5C81.4 707.7 83.5 706.9 84.8 706.5C86 706.1 86.4 705.9 87.3 705.9C88.2 705.9 89.4 706.1 90.3 706.5C91.2 706.9 91.4 707.8 92.8 708.3C94.2 708.8 96.8 709.3 98.8 709.5C100.8 709.7 103.7 709 104.8 709.3C106 709.5 106.1 710.5 105.6 711C105.1 711.6 103.8 712.1 101.8 712.5C99.9 713 96.6 713.5 93.8 713.8C90.9 714.1 87.8 714.3 84.8 714.5C81.8 714.6 77.7 714.9 75.7 714.7C73.8 714.6 73.4 714.1 73.2 713.5Z" fill="none" stroke="#222" stroke-width="0.6"/>
<path d="M77.3 713.1C77.2 712.7 77.6 712.1 78.4 711.5C79.2 710.8 80.9 710 82.2 709.4C83.5 708.8 85.1 708.2 86 707.8C87 707.5 87.2 707.4 87.9 707.4C88.6 707.4 89.5 707.5 90.2 707.8C90.9 708.1 91 708.8 92.1 709.2C93.2 709.6 95.2 710 96.7 710.1C98.2 710.2 100.4 709.7 101.3 709.9C102.1 710.1 102.2 710.8 101.8 711.3C101.5 711.7 100.5 712 99 712.4C97.5 712.7 95 713.1 92.9 713.4C90.7 713.6 88.3 713.8 86 713.9C83.8 714 80.6 714.2 79.2 714.1C77.7 713.9 77.4 713.6 77.3 713.1Z" fill="none" stroke="#222" stroke-width="0.6"/>
<path d="M118.2 708.8C118.2 709.2 117.9 709.7 117.6 710C117.2 710.3 116.5 710.5 116 710.5C115.5 710.5 114.8 710.3 114.4 710C114.1 709.7 113.8 709.2 113.8 708.8C113.8 708.4 114.1 707.9 114.4 707.6C114.8 707.3 115.5 707.1 116 707.1C116.5 707.1 117.2 707.3 117.6 707.6C117.9 707.9 118.2 708.4 118.2 708.8Z" fill="#333" stroke="#000" stroke-width="0.7"/>
<path d="M97.5 712.2C97.5 712.6 96.7 713.2 95.7 713.6C94.7 714 92.7 714.4 91.2 714.6C89.7 714.8 87.7 714.8 86.6 714.7C85.5 714.5 84.6 714.2 84.5 713.8C84.5 713.4 85.3 712.8 86.3 712.4C87.3 712 89.3 711.6 90.8 711.4C92.3 711.2 94.3 711.2 95.4 711.3C96.5 711.5 97.4 711.8 97.5 712.2Z" fill="#333" stroke="#000" stroke-width="0.6"/>
<text x="118.6" y="698" font-size="12.2">71.4</text>
<text x="128" y="618.6" font-size="12.8" font-weight="bold">M82</text>
<rect x="53.4" y="596.9" width="121.3" height="121.2" fill="none" stroke="#585858" stroke-width="1"/>
<text x="53.4" y="730.1" font-size="6.5" text-anchor="middle" font-weight="bold" stroke="#000" stroke-width=".25">0</text>
<text x="77.1" y="730.1" font-size="6.5" text-anchor="middle" font-weight="bold" stroke="#000" stroke-width=".25">200</text>
<text x="100.8" y="730.1" font-size="6.5" text-anchor="middle" font-weight="bold" stroke="#000" stroke-width=".25">400</text>
<text x="124.5" y="730.1" font-size="6.5" text-anchor="middle" font-weight="bold" stroke="#000" stroke-width=".25">600</text>
<text x="148.3" y="730.1" font-size="6.5" text-anchor="middle" font-weight="bold" stroke="#000" stroke-width=".25">800</text>
<text x="172" y="730.1" font-size="6.5" text-anchor="middle" font-weight="bold" stroke="#000" stroke-width=".25">1000</text>
<path d="M53.4 718.1v2.4M59.3 718.1v1.3M65.3 718.1v1.3M71.2 718.1v1.3M77.1 718.1v2.4M83 718.1v1.3M89 718.1v1.3M94.9 718.1v1.3M100.8 718.1v2.4M106.8 718.1v1.3M112.7 718.1v1.3M118.6 718.1v1.3M124.5 718.1v2.4M130.5 718.1v1.3M136.4 718.1v1.3M142.3 718.1v1.3M148.3 718.1v2.4M154.2 718.1v1.3M160.1 718.1v1.3M166 718.1v1.3M172 718.1v2.4" stroke="#585858" stroke-width="0.7" fill="none"/>
<text x="48.4" y="720.3" font-size="6.5" text-anchor="end" font-weight="bold" stroke="#000" stroke-width=".25">0</text>
<text x="48.4" y="696.6" font-size="6.5" text-anchor="end" font-weight="bold" stroke="#000" stroke-width=".25">200</text>
<text x="48.4" y="672.9" font-size="6.5" text-anchor="end" font-weight="bold" stroke="#000" stroke-width=".25">400</text>
<text x="48.4" y="649.2" font-size="6.5" text-anchor="end" font-weight="bold" stroke="#000" stroke-width=".25">600</text>
<text x="48.4" y="625.5" font-size="6.5" text-anchor="end" font-weight="bold" stroke="#000" stroke-width=".25">800</text>
<text x="48.4" y="601.8" font-size="6.5" text-anchor="end" font-weight="bold" stroke="#000" stroke-width=".25">1000</text>
<path d="M53.4 718.1h-2.4M53.4 712.2h-1.3M53.4 706.3h-1.3M53.4 700.3h-1.3M53.4 694.4h-2.4M53.4 688.5h-1.3M53.4 682.6h-1.3M53.4 676.6h-1.3M53.4 670.7h-2.4M53.4 664.8h-1.3M53.4 658.9h-1.3M53.4 652.9h-1.3M53.4 647h-2.4M53.4 641.1h-1.3M53.4 635.2h-1.3M53.4 629.2h-1.3M53.4 623.3h-2.4M53.4 617.4h-1.3M53.4 611.5h-1.3M53.4 605.5h-1.3M53.4 599.6h-2.4" stroke="#585858" stroke-width="0.7" fill="none"/>
<path d="M236 706.5h.8M246.6 704.7h.8M213 710.6h.8M244.2 699.4h.8M237.2 712.5h.8M251.7 699.2h.8M246 707.2h.8M252.5 697.8h.8M235.7 698.4h.8M251.7 697.3h.8M267.8 702h.8M247.5 712.5h.8M226.2 702.2h.8M234.7 696.4h.8M259.7 692.3h.8M251.2 699.7h.8M245.6 699.2h.8M246.3 697.5h.8M240.1 703.3h.8M249.2 705.4h.8M270.6 706.1h.8M257.7 699.8h.8M227.2 707.4h.8M243.9 701.9h.8M249.7 702.9h.8M264.1 706.3h.8M235.8 710.6h.8M230 703.4h.8M218.6 705.7h.8M224.9 710.4h.8M219.5 701.4h.8M255.9 704.8h.8M249.6 703.2h.8M230.1 704h.8M249.6 705.6h.8M255.7 711.7h.8M231.6 703.4h.8M231.5 703.1h.8M240.2 704.3h.8M265.8 700.6h.8M240.8 694.2h.8M250.3 704h.8M247.5 706.1h.8M251.1 707.3h.8M255.7 696.9h.8M242.8 698.5h.8M273.5 695.9h.8M261.4 706.8h.8M272.4 697.8h.8M231.7 703.7h.8M256.1 704.3h.8M250.8 703.9h.8M249.1 697.7h.8M230.2 710.8h.8M232.1 714.6h.8M247.2 706.5h.8M252.8 714.1h.8M253.5 700.5h.8M249.5 702.6h.8M240.7 699.2h.8M248.9 709.4h.8M249 708.8h.8M245.5 698.7h.8M271.9 694.7h.8M250.3 705.9h.8M260 702.2h.8M257.3 704h.8M258.4 705.7h.8M244.4 714.4h.8M250.1 698.8h.8M239.9 703.8h.8M271.7 703.8h.8M258.2 704.4h.8M246.8 706.6h.8M248.2 706.5h.8M256.2 700.9h.8M239.5 701.5h.8M274.8 696h.8M209.9 707h.8M241.1 694.2h.8M240 703.9h.8M271.5 704.6h.8M261.1 700.5h.8M270.9 694h.8M236 711.9h.8M250 696.2h.8M246.6 705h.8M240.1 707.4h.8M232.1 704.5h.8M235.4 707.1h.8M253.9 705.5h.8M239.9 700.9h.8M269.9 694.8h.8M233.8 705.9h.8M228.1 697.5h.8M250.2 700.1h.8M247.1 704.8h.8M257.4 700.8h.8M226 710.8h.8M239.9 711.5h.8M261.2 702.2h.8M273.4 701.8h.8M239.9 712.6h.8M246.3 701.2h.8M237.8 712.4h.8M239.7 699.8h.8M252.1 704.9h.8M235.9 709.1h.8M228.7 697.8h.8M239.1 698.7h.8M225.7 704.7h.8M250.2 703.5h.8M230.7 703.9h.8M253.3 700.1h.8M239.4 707.2h.8M230.7 698.3h.8M258 704.8h.8M235.6 697.8h.8M247.1 700.6h.8M243 698.8h.8M253.5 700.6h.8M263.7 692.6h.8M238.9 702.5h.8M237.8 708.1h.8M252.8 700.8h.8M233.7 707.3h.8M222.3 704.8h.8M256.7 702.9h.8M261.2 704.4h.8M230.2 698.8h.8M244.6 700.9h.8M248.7 703.1h.8M253.2 708.9h.8M236.9 700.9h.8M239.1 699.6h.8M241 707.8h.8M239.5 705.2h.8M244 701h.8M215.9 701.9h.8M256.7 694.3h.8M256.7 710h.8M256.7 702.5h.8M242.5 710.9h.8M256.3 701.9h.8M233.7 705h.8M245.6 702.9h.8M256.5 700.1h.8M258.2 710h.8M242.5 695.7h.8M257.9 698.6h.8M221.9 709.9h.8M234.8 704.9h.8M233.8 701.6h.8M248.4 693.8h.8M247.5 701.6h.8M230.6 703.7h.8M257.9 703.2h.8M269.5 701.1h.8M248.1 706.1h.8M253.9 699.8h.8M237.4 698.1h.8M242 702.6h.8M251.9 711.3h.8M236.2 707.2h.8M242 704h.8M239.7 696.4h.8M258.8 701.2h.8M233 694.7h.8M256.6 698.2h.8M264 699.8h.8M227.9 703.2h.8M251.8 707.1h.8M219.6 706.4h.8M233.2 703.4h.8M252 702.5h.8M252.2 706.7h.8M262.7 700.9h.8M223.3 711.2h.8M249.1 711.5h.8M263.9 704.3h.8M265 698.9h.8M246.4 706.7h.8M250 699.6h.8M260.4 699.7h.8M265.6 705.7h.8M244.4 696.7h.8M260.4 702.1h.8M212.8 708h.8M259.2 704.7h.8M233.6 710.2h.8M233.5 706.2h.8M227.3 706.3h.8M258.7 703.1h.8M245.8 707.3h.8M238.5 707.3h.8M230.7 710.6h.8M249.8 714.6h.8M257.1 704.1h.8M242.7 697.1h.8M241.8 707.6h.8M242.8 699.4h.8M257.2 692.6h.8M259 707.7h.8M248.1 709.3h.8M262.9 697.5h.8M255.7 699.4h.8M242 709.7h.8M234.4 709.3h.8M245.8 706.7h.8M240.3 702.7h.8M246.8 705.4h.8M242.7 701.3h.8M241.6 713.1h.8M229.3 704.7h.8M237.5 709.5h.8M248.4 698.9h.8M252.2 705.1h.8M240.8 699h.8M255.6 701h.8M242.6 699.4h.8M241.2 711.4h.8M241.5 707h.8M231 706.8h.8M283.5 706h.8M234.5 707.5h.8M251.9 704.7h.8M248.3 704.9h.8M225.4 703.9h.8M252.9 699.8h.8M254.3 695.2h.8M255.3 703.5h.8M255.1 711.5h.8M245.9 701.8h.8M246.4 706.2h.8M235 701.2h.8M272.8 697.3h.8M243.4 707.5h.8M230.7 705.2h.8M248.7 700.2h.8M259.4 697.3h.8M215.2 714.7h.8M231.1 711.8h.8M276.8 697.7h.8M262.1 701.1h.8M250.4 694.2h.8M241.1 709h.8M269 696.9h.8M237.2 712.1h.8M257.2 705.3h.8M234.5 703.1h.8M265.6 701.6h.8M229.3 700.9h.8M248.9 704.7h.8M264.1 703h.8M255.9 703.1h.8M231.4 705.2h.8M242.8 701.6h.8M230.4 704.8h.8M257 711.9h.8M281.3 694.4h.8M246 704.5h.8M235.5 695.2h.8M238.7 707.6h.8M252.6 697.2h.8M226.2 701.8h.8M218.5 705.6h.8M223 703.5h.8M263.2 701.9h.8M260.3 698.8h.8M239.4 698.9h.8M251.4 702.1h.8M244.2 706.5h.8M274 691h.8M250.4 706.6h.8M246.4 709.8h.8M243.1 700.4h.8M253.7 698.1h.8M231.7 705.2h.8M242.2 704.3h.8M284.1 702.1h.8M242.6 708.1h.8M258.8 701.5h.8M271.3 705.7h.8M228.5 709.5h.8M243.7 706.1h.8M251 710.8h.8M224.6 704.3h.8M243.5 697.7h.8M241.8 701.2h.8M252.5 707.3h.8M251.8 700h.8M251 694.3h.8M245.3 701.3h.8M264.8 707.5h.8M246.6 704.4h.8M226 702.2h.8M256.6 695.6h.8M234.4 702.3h.8M256.6 700.6h.8M239 705h.8M225.7 702.6h.8M231.5 704.7h.8M266.4 703h.8M270.4 702.7h.8M224 699.8h.8M232.5 698.4h.8M239 715.2h.8M229.8 702.4h.8M224.5 712h.8M233.1 700.6h.8M226 700.5h.8M255.9 702.1h.8M257.9 701.2h.8M223.6 709.2h.8M251.3 698.9h.8M239.5 709.6h.8M230.9 705.9h.8M245.3 704.3h.8M258.7 700.2h.8M264.1 698h.8M253.3 704.5h.8M239 706.5h.8M266.2 706h.8M237.4 704.6h.8M223.5 705.4h.8M254.3 698.2h.8M247 704.6h.8M230.5 702.2h.8M257.3 702.1h.8M263.4 703.4h.8M242.3 700.7h.8M244.5 706.7h.8M257 697.1h.8M243.8 708.1h.8M245.9 704.5h.8M258.5 695h.8M240.5 708.1h.8M256.6 700.7h.8M236.1 694.7h.8M237.2 712.3h.8M251.7 705.1h.8M241.4 700h.8M217.5 709.3h.8M251.8 705.6h.8M237.8 702.2h.8M235.9 705.6h.8M231.6 700.1h.8M271.2 703h.8M257.7 700.6h.8M248.9 699.2h.8M276.2 693.1h.8M241.8 699.4h.8M240.6 706.6h.8M271.6 693.2h.8M237.2 694.4h.8M242.9 705.5h.8M222.4 701.2h.8M236.9 700.7h.8M234.9 705.1h.8M216.6 714.5h.8" stroke="#444" stroke-width="0.75" fill="none"/>
<path d="M264.5 697.8h.8M247.1 698.6h.8M234 697.1h.8M279 702.5h.8M251.7 701.7h.8M262.1 700.5h.8M249.4 698.8h.8M269.2 697.6h.8M263.4 704h.8M254.4 705.3h.8M270.5 701h.8M239.3 705.6h.8M262.8 701.5h.8M244.9 702.5h.8M221.6 707.1h.8M279.9 700.3h.8M238.2 706.6h.8M256.2 696.8h.8M226.5 697.5h.8M229.5 704.5h.8M239.4 702.1h.8M256.6 700.4h.8M268.9 698h.8M261.3 705.8h.8M268.5 700.7h.8M269.8 698.2h.8M266.2 697.4h.8M246.7 694.7h.8M260.4 698.9h.8M255.4 703.2h.8M270.6 703.4h.8M220.2 707h.8M260.3 702.3h.8M240.8 700h.8M247.6 698.9h.8M274.7 700.2h.8M239.6 701.2h.8M251.3 699.5h.8M245.4 704.7h.8M259.9 697h.8M233.7 703.3h.8M260.6 698.9h.8M255.8 704h.8M256 702.2h.8M242.9 698.8h.8M250.3 701.1h.8M272.7 698.2h.8M239.9 698.9h.8M218.7 704.6h.8M279.1 698.2h.8M239.5 698.3h.8M257.8 699.4h.8M234.5 702.4h.8M242.8 705.2h.8M226.4 699.4h.8M238.1 702.7h.8M249.1 701h.8M252.8 700.9h.8M267.4 695.4h.8M250.4 698.6h.8M244.9 700.3h.8M235.8 701.2h.8M247.3 699.8h.8M264.3 698h.8M255.3 700.6h.8M246.7 695.7h.8M258.8 700.2h.8M238.3 707.7h.8M248.2 699.7h.8M242.1 700h.8M251.7 699.5h.8M247.9 698.1h.8M255 702.6h.8M258.9 693.2h.8M253.3 700.5h.8M262.5 697.1h.8M247.4 701.8h.8M246.9 697.5h.8M253.1 704.4h.8M275.2 702.5h.8M261.1 696h.8M257.5 700.3h.8M220.3 704.1h.8M264.1 697.4h.8M260.8 702.4h.8M235.9 700.9h.8M248 703.3h.8M247.1 703.4h.8M257.1 700h.8M259.2 708.6h.8M252.1 701.4h.8M238.1 704.4h.8M236.8 696.9h.8M251.8 700.6h.8M252.7 698.7h.8M232.7 698.8h.8M260.8 702.8h.8M261.2 698.8h.8M236.9 698h.8M246.2 702.4h.8M249.1 700.5h.8M262.4 698.5h.8M243.7 700.9h.8M237.4 701.3h.8M247 700.1h.8M246.5 705h.8M252.5 696.3h.8M278.1 700h.8M236.5 704.7h.8M272.7 698.6h.8M244.1 703.3h.8M235.9 701.9h.8M261 703.3h.8M254.1 699.1h.8M238.9 699.3h.8M255.5 706.4h.8M263.6 704h.8M272.6 702.1h.8M247.4 705.9h.8M240.8 697.8h.8M251.3 698.5h.8M235 703.7h.8M247.1 698.2h.8M239.7 705.2h.8M262.5 702.1h.8M235.2 704.9h.8M248.1 702.1h.8M246.5 698.7h.8M253.2 701.1h.8M263.5 698.8h.8M252.8 701.6h.8M238 700.8h.8M264.4 700.9h.8M234.2 702.1h.8M251 701.1h.8M249.4 700.9h.8M238.1 701.8h.8M259.8 697.4h.8M254.1 702h.8M253.7 698.7h.8M240.8 700.1h.8M246.1 704.1h.8M241.7 699.7h.8M244.2 703.9h.8M269.2 692.7h.8M251.4 695.7h.8M235.8 705.5h.8M233.3 694.3h.8M250 701.2h.8M231.2 702.1h.8M236.8 709.5h.8M255.5 704.7h.8M270.8 692.2h.8M235.3 705.4h.8M258.8 703.1h.8M263.7 703.9h.8M246 701.1h.8M263.8 699.3h.8M266.3 694.3h.8M239 700.2h.8M244 698.2h.8M250.3 701.1h.8M252.3 694h.8M246.7 697.6h.8M255.7 698.2h.8M246 706.6h.8M261.5 697.5h.8M233.7 701.6h.8M240.3 703.8h.8M264.5 701.6h.8M253.8 698h.8M244.2 696.7h.8M247.2 699.5h.8M234.6 703.6h.8M251.8 700.4h.8M256.3 701.7h.8M251.8 699.1h.8M240.1 701.2h.8M245.6 698.3h.8M247.9 704.9h.8M268.6 695.7h.8M231.4 701.4h.8M266.7 697.4h.8M234.8 698.7h.8M261.8 702.7h.8M249 704.7h.8M258.5 701.6h.8M228.1 702.2h.8M282.3 697.4h.8M234.3 698.4h.8M245.3 702.4h.8M243.6 705.8h.8M244.6 700.9h.8M253.8 705.2h.8M262.1 698.8h.8M224.6 702.3h.8M248.9 696.5h.8M228.7 701.2h.8M248.2 702h.8M256.7 696.2h.8M273.1 703.4h.8M237.1 702.8h.8M256 701.3h.8M256.6 696h.8M236.7 700.5h.8M236.9 706.3h.8M255.1 700.4h.8M248 706.4h.8M242.2 696.7h.8M258.1 702.7h.8M247.5 701.3h.8M243.4 700.8h.8M229.5 702.7h.8M273.7 703h.8M249.8 698.1h.8M265.2 702.4h.8M213.6 708.2h.8M233.7 703.1h.8M246.4 702.8h.8M242.9 702.7h.8M240.9 701.6h.8M246.3 695.3h.8M245.7 699.1h.8M268.9 701.2h.8M223.5 708h.8M262 702.9h.8M256.5 698.4h.8M242.7 703.1h.8M280.6 699.3h.8M231.8 705.8h.8M275.8 699.1h.8M227.4 703.2h.8M247 703.3h.8M238 702.7h.8M246.3 703h.8M252.4 700.9h.8M255 702.2h.8M258.9 696.4h.8M245.7 700.9h.8M238.4 708.8h.8M270.2 695.4h.8M238.9 705.3h.8M250 705.4h.8M234.4 701.4h.8M258.2 701.1h.8M247.1 704.8h.8M245.7 704.1h.8M234.6 702.3h.8M243 703.7h.8M234.9 700.3h.8" stroke="#262626" stroke-width="0.75" fill="none"/>
<path d="M254.7 690.4h.8M266.2 699.4h.8M240.8 694.5h.8M276.2 688.6h.8M239.2 697.2h.8M253.7 705.8h.8M247 703.7h.8M262.7 710.4h.8M268.6 694.3h.8M250.4 699h.8M261.6 692.9h.8M262.5 693.3h.8M233.1 702.2h.8M229.1 696.9h.8M254.3 692h.8M244.4 704.1h.8M229.1 706.8h.8M268.5 696.2h.8M253.7 695.9h.8M260.3 692.1h.8M264.2 693.5h.8M260.1 686.1h.8M247.1 706.4h.8M261.7 683.5h.8M227.6 698.9h.8M286.7 681.8h.8M260.6 703h.8M240.5 696.3h.8M271.7 699h.8M272.4 691.1h.8M261.4 701.2h.8M269.2 692h.8M266.6 698h.8M247.9 698.3h.8M238.8 702.1h.8M249.8 695.5h.8M262.3 702.5h.8M264 702.8h.8M233 709.8h.8M263.3 702.8h.8M254.5 701.3h.8M268.7 700.7h.8M235.3 701.5h.8M253.5 696.5h.8M290.7 688h.8M255.4 701.5h.8M257.7 695.4h.8M247.8 696h.8M263.9 695.6h.8M248.2 699.9h.8M272.5 700.9h.8M258 694.4h.8M264.5 696h.8M252.8 702.8h.8M255.5 705.7h.8M283.1 692.9h.8M271.1 681.8h.8M251.2 696.6h.8M254.1 701.3h.8M274.6 690.8h.8M250.5 689.8h.8M256.1 683.2h.8M261.8 701.6h.8M235.7 703.7h.8M244.6 700.5h.8M247.1 707.7h.8M280.9 697.5h.8M269.4 698.2h.8M262.7 694h.8M245.8 699.8h.8M271.7 699.7h.8M268.4 691.9h.8M267.5 693h.8M242.9 690.6h.8M266.7 703.9h.8M253 704.2h.8M275.8 703.1h.8M252.3 704.3h.8M264.7 691.4h.8M238.3 698.4h.8M259.9 691.2h.8M264.1 693.6h.8M258.3 697.5h.8M263.1 690.2h.8M262.3 694.3h.8M277.7 698.5h.8M245.7 702.6h.8M267.5 689.2h.8M261 704.1h.8M252.2 697.8h.8M236 701.3h.8M268.4 706.4h.8M242.4 706h.8M249.5 704.9h.8M270.6 694.1h.8M244.7 701.3h.8M245.8 702.8h.8M290.1 687.4h.8M271.8 702.2h.8M273.5 689h.8M267.1 693.9h.8M278.4 688.1h.8M249 693.8h.8M250.2 685.9h.8M257.6 698.9h.8M252.4 697.2h.8M279.6 686.3h.8M264 696.2h.8M251.1 699.9h.8M253.8 695.8h.8M263.8 698.7h.8M272 704.2h.8M276.4 689.4h.8M251.1 693.4h.8M258.8 700.9h.8M261.7 698h.8M252.2 705.8h.8M273.4 697.3h.8M243.2 700.8h.8M269.4 697.8h.8M270.6 687.4h.8M252.8 694.1h.8M268.3 703.8h.8M270.3 698.1h.8M249.8 702.2h.8M268.1 696.9h.8M240.1 698.5h.8M264.4 688.8h.8M266.4 694.8h.8M251.4 703.9h.8M263.5 700h.8M241.1 701.2h.8M249.3 708.9h.8M251.5 686.4h.8M236.9 700.1h.8M228 696.8h.8M242 710.7h.8M230.4 703.1h.8M258.6 692.9h.8M242.3 697.5h.8M263.6 701.1h.8M269 693.7h.8M271.6 700.9h.8M235.7 703.7h.8M268.7 700.2h.8M237.5 704.4h.8M237.2 703.2h.8M263.4 696.2h.8M269.2 696.9h.8M258.9 698.4h.8M255.8 687.4h.8M265.6 696h.8M259.5 702.6h.8M262.1 696.6h.8M241.9 705.5h.8M260.1 702h.8M249.6 691.2h.8M262.6 688.2h.8M251.9 701.5h.8M278.1 694.1h.8M262.7 688.1h.8M243.7 697.2h.8M271.6 696.4h.8M265.6 699h.8M257.9 690.1h.8M279.3 686h.8M249.8 686.4h.8M270.2 702.5h.8M243.3 695.5h.8M268.8 699.8h.8M275.6 688.7h.8M279.6 688.7h.8M269.9 697.3h.8M269.5 687.6h.8M239.5 702h.8M244.8 703.8h.8M245.7 705.3h.8M248.7 697.8h.8M266.3 702.7h.8M240.4 698.4h.8M242.1 700.3h.8M268.6 695.2h.8M243.6 699.7h.8M245.7 697.4h.8M251.8 699.7h.8M247.2 705.1h.8M236.8 695.7h.8M268.6 696.8h.8M256.8 704.1h.8M284.9 684.6h.8" stroke="#707070" stroke-width="0.75" fill="none"/>
<path d="M309.9 659.7h.8M300.3 691.3h.8M264.2 687.5h.8M275.9 695.9h.8M286.5 667.2h.8M279.8 676.8h.8M280.5 684.3h.8M269.1 673h.8M305.4 674.2h.8M323.1 665h.8M276.8 683.4h.8M305.9 650.2h.8M282.5 681.4h.8M283.6 659.8h.8M259.4 676.6h.8M311.3 697.8h.8M264.8 696.9h.8M301.1 649.8h.8M259.6 701.2h.8M298.2 689.1h.8M267.9 690.1h.8M297.1 662.3h.8M301.5 643h.8M290.5 666.1h.8M296.8 653.3h.8M267.2 694.5h.8M280.1 655.3h.8M269.2 690.8h.8M289.8 679.9h.8M289.7 692.8h.8M270.2 684.1h.8M257.1 687.9h.8M259.6 703.8h.8M304.5 678.1h.8M321.3 674.7h.8M304.2 689.2h.8M275.1 677h.8M286.3 671.3h.8M253.7 705.8h.8M310.3 663.1h.8M257.7 691.2h.8M260.4 709.9h.8M291.9 665.6h.8M299.9 683.3h.8M253.2 696.7h.8M258.5 701.8h.8M267.8 694.5h.8M279.1 683.3h.8M313.6 642.6h.8M279.6 653.6h.8M254.5 681.3h.8M298.6 670.2h.8M293 667.5h.8M290.5 658h.8M279.7 659.7h.8M264.6 712h.8M284.6 687.9h.8M316.8 642.5h.8M259.3 698.2h.8M282.3 687.2h.8M314 642.4h.8M263.7 688h.8M301 641.8h.8M267.1 689.7h.8M271.8 692.9h.8M296.5 672.5h.8M300 644.4h.8M321.1 676.3h.8M254.6 682.3h.8M252.5 702.2h.8M305.5 654.2h.8M313 655.1h.8M280.3 686.4h.8M265.9 680.6h.8M309.6 698.1h.8M317.5 654.8h.8M310.1 656.6h.8M307.8 675.1h.8M272.1 702.9h.8M303.5 651.7h.8M269.4 696.8h.8M306.9 676.7h.8M308.4 647.7h.8M318.1 668.9h.8M283.8 674.1h.8M307.9 652.5h.8M302.5 674.8h.8M265.3 697.9h.8M255.4 689.2h.8M308.4 657.4h.8M300.4 647h.8M263.2 683.9h.8M324.1 663h.8M272.1 696h.8M250.7 686.9h.8M276.7 666.4h.8M293 666.9h.8M292.6 672.4h.8M324.1 676.6h.8M303.9 665h.8M275 688h.8M324.4 642h.8M302.6 680.7h.8M313.9 645.2h.8M281.5 669.5h.8M320.7 641.4h.8M258.9 692.6h.8M307.4 674.8h.8M256.2 695h.8M247.2 705.8h.8M323.5 671.4h.8M258.7 701.4h.8M305.1 637.6h.8M312.3 707.6h.8M285.6 703h.8M272.8 693h.8M265 694.8h.8M278 683.7h.8M285 706.9h.8M291.8 686h.8M264.5 712.7h.8M283.3 657.8h.8M250.2 688.3h.8M259.1 693h.8M255.6 698.1h.8M312.9 661.2h.8M264 690.4h.8M296 682.2h.8M278.5 667.8h.8M279.3 675h.8M301.7 665.5h.8M271.4 667.7h.8M283.8 649.4h.8M287.4 682h.8M275.6 665.6h.8M251.8 704.7h.8M310.2 674.9h.8M254.4 708.6h.8M309.5 688.3h.8M254.3 705.9h.8M256.9 686.2h.8M301.3 666.3h.8M255.5 696.1h.8M299.4 659h.8M273.3 664.9h.8M311.8 666.8h.8M277.6 667.3h.8M307 651.8h.8M308.7 632.6h.8M251.3 708.1h.8M276.7 687.4h.8M306.9 671.3h.8M283.9 694h.8M308.9 673.2h.8M291.3 656.6h.8M262.2 710.4h.8M281.4 694.9h.8M250.2 686.2h.8M308.8 672.1h.8M265.6 695.1h.8M304.3 678.2h.8M284.8 684.8h.8M255.4 703.6h.8M258.3 695.6h.8M264.9 679.9h.8M309.8 706.6h.8M296.4 651.8h.8M309.9 676h.8M284.9 691.9h.8M303.1 656.3h.8M277.3 684.4h.8M283.8 678.6h.8M283.6 679.8h.8M303.1 671.5h.8M293.2 664.8h.8M303.8 692.5h.8M287.9 677.7h.8M267.5 684.7h.8M274.1 692.8h.8M254 708.1h.8M307.5 655.8h.8M274.3 693.3h.8M275.3 685.3h.8M318.6 683.6h.8M290.4 670.8h.8M322.4 684.2h.8M298.5 685.1h.8M270.3 715.4h.8M269.2 711.5h.8M289.5 671.2h.8M302.3 676.6h.8M289.8 685.4h.8M256 695.3h.8M317.3 673.9h.8M264.5 688.7h.8M253 707.2h.8M290.4 665.9h.8M294.4 657.1h.8M280.5 688.2h.8M320.5 645.6h.8" stroke="#a8a8a8" stroke-width="0.75" fill="none"/>
<path d="M309.9 666.1h.8M257.7 699.6h.8M243.5 690.2h.8M302.4 688.9h.8M227.7 640.7h.8M298.8 683.6h.8M251.5 712.6h.8M274.6 717.1h.8M229.8 703.1h.8M326.9 644.9h.8M231.9 671.7h.8M246.2 681.8h.8M220.3 633.2h.8M219 639.7h.8M248.8 699.5h.8M278.1 644.4h.8M279.8 716.7h.8M324.2 642h.8M292.1 637.5h.8M312.2 658.6h.8M284 710.5h.8M262 658h.8M214.4 688.9h.8M289 689.9h.8M217.6 659.8h.8M240.8 643.8h.8M221 650.1h.8M311.9 706.4h.8M281.4 658.4h.8M247.4 709.5h.8M224.2 640.2h.8M322.3 654.1h.8M323.3 655.9h.8M219.6 658.2h.8M311.8 705.6h.8M281.4 676.6h.8M260.8 660.4h.8M321.3 664.7h.8M220.7 681.6h.8M253 657.9h.8M322.1 688.6h.8M263.8 711.4h.8M229.8 645.8h.8M325.5 639.9h.8M297.5 655.2h.8M220.3 713.4h.8M294.8 658.4h.8M232.9 693.1h.8M298.8 656h.8M212.1 661.1h.8" stroke="#bbb" stroke-width="0.75" fill="none"/>
<path d="M273.7 633.8h.8M300.8 654h.8M233.8 662.8h.8M224.2 682.8h.8M325.8 625h.8M228.9 667.1h.8M237.1 610.5h.8M268.5 619.4h.8M290 658.1h.8M234.5 706.9h.8M273.6 692.7h.8M302.9 628h.8M234.5 632h.8M269.6 686.3h.8M222.3 628.8h.8" stroke="#ccc" stroke-width="0.75" fill="none"/>
<path d="M213.2 716.8L215 709.5L267.7 696.4L286.7 708.5L265 715.6Z" fill="none" stroke="#555" stroke-width="0.6"/>
<path d="M213.2 715.5C212.8 714.7 214.1 713.3 215.8 712C217.5 710.7 220.9 709.1 223.6 707.7C226.3 706.3 229.8 704.4 232.2 703.4C234.6 702.4 236.4 701.6 238.3 701.5C240.2 701.4 241.9 701.8 243.5 702.5C245.1 703.2 245.4 704.7 247.8 705.6C250.2 706.5 254.9 707.6 258.2 708C261.5 708.4 265.9 707.7 267.7 708.2C269.5 708.7 269.6 710 268.9 710.8C268.2 711.6 266.3 712.2 263.4 712.9C260.5 713.6 256.2 714.5 251.3 715.1C246.4 715.7 239.5 716 234 716.3C228.5 716.6 221.9 716.8 218.4 716.7C214.9 716.6 213.6 716.3 213.2 715.5Z" fill="none" stroke="#222" stroke-width="0.6"/>
<path d="M217.4 715C217 714.3 218.1 713.1 219.6 712C221.1 710.9 224 709.5 226.3 708.3C228.7 707 231.6 705.5 233.7 704.6C235.8 703.7 237.3 703.1 239 702.9C240.6 702.8 242.1 703.2 243.4 703.8C244.8 704.4 245 705.7 247.1 706.5C249.2 707.3 253.2 708.2 256.1 708.5C258.9 708.9 262.7 708.3 264.2 708.7C265.8 709.1 265.9 710.3 265.3 710.9C264.7 711.6 263.1 712.1 260.5 712.7C258 713.4 254.4 714.2 250.1 714.6C245.9 715.1 240 715.4 235.3 715.7C230.5 715.9 224.8 716.1 221.8 716C218.9 715.9 217.7 715.7 217.4 715Z" fill="none" stroke="#222" stroke-width="0.6"/>
<path d="M221.5 714.5C221.2 713.9 222.2 712.9 223.4 711.9C224.7 711 227.1 709.9 229 708.8C231 707.8 233.5 706.5 235.2 705.8C237 705 238.3 704.5 239.6 704.4C241 704.3 242.2 704.6 243.4 705.1C244.5 705.6 244.7 706.7 246.5 707.3C248.2 708 251.6 708.8 253.9 709.1C256.3 709.4 259.5 708.9 260.8 709.2C262.1 709.5 262.2 710.5 261.6 711.1C261.1 711.6 259.8 712.1 257.7 712.6C255.6 713.1 252.5 713.8 249 714.2C245.4 714.6 240.5 714.8 236.5 715C232.6 715.2 227.8 715.4 225.3 715.3C222.8 715.2 221.9 715 221.5 714.5Z" fill="none" stroke="#222" stroke-width="0.6"/>
<path d="M225.7 713.9C225.5 713.5 226.2 712.7 227.2 711.9C228.2 711.2 230.2 710.3 231.7 709.4C233.3 708.6 235.3 707.5 236.7 706.9C238.2 706.3 239.2 705.9 240.3 705.8C241.4 705.7 242.4 706 243.3 706.4C244.2 706.8 244.4 707.7 245.8 708.2C247.2 708.7 249.9 709.3 251.8 709.6C253.7 709.8 256.3 709.4 257.3 709.7C258.4 710 258.4 710.8 258 711.2C257.6 711.7 256.5 712 254.8 712.4C253.1 712.9 250.7 713.4 247.8 713.7C245 714 241 714.3 237.8 714.4C234.6 714.6 230.7 714.7 228.7 714.6C226.7 714.6 226 714.4 225.7 713.9Z" fill="none" stroke="#222" stroke-width="0.6"/>
<path d="M229.9 713.4C229.7 713.1 230.3 712.5 231 711.9C231.8 711.3 233.3 710.6 234.5 710C235.7 709.4 237.2 708.6 238.2 708.1C239.3 707.6 240.1 707.3 240.9 707.3C241.8 707.2 242.5 707.4 243.2 707.7C243.9 708 244 708.7 245.1 709.1C246.2 709.5 248.2 709.9 249.7 710.1C251.1 710.3 253.1 710 253.9 710.2C254.7 710.4 254.7 711 254.4 711.4C254.1 711.7 253.3 712 252 712.3C250.7 712.6 248.8 713 246.7 713.3C244.5 713.5 241.5 713.7 239 713.8C236.6 713.9 233.7 714 232.2 714C230.7 713.9 230.1 713.8 229.9 713.4Z" fill="none" stroke="#222" stroke-width="0.6"/>
<path d="M269.6 709.6C269.6 710 269.3 710.5 269 710.7C268.6 711 268 711.2 267.5 711.2C267 711.2 266.4 711 266 710.7C265.7 710.5 265.4 710 265.4 709.6C265.4 709.2 265.7 708.7 266 708.5C266.4 708.2 267 708 267.5 708C268 708 268.6 708.2 269 708.5C269.3 708.7 269.6 709.2 269.6 709.6Z" fill="#333" stroke="#000" stroke-width="0.7"/>
<path d="M250 711.5C250 711.9 249.3 712.6 248.2 713C247.2 713.4 245.2 713.9 243.7 714.1C242.2 714.3 240.2 714.3 239.1 714.1C238 713.9 237.1 713.5 237 713.1C237 712.7 237.7 712 238.8 711.6C239.8 711.2 241.8 710.7 243.3 710.5C244.8 710.3 246.8 710.3 247.9 710.5C249 710.7 249.9 711.1 250 711.5Z" fill="#333" stroke="#000" stroke-width="0.6"/>
<text x="271.3" y="697.8" font-size="12.2">69.8</text>
<text x="282" y="620.5" font-size="12.6" font-weight="bold">M82</text>
<rect x="207.5" y="596.9" width="121.3" height="121.2" fill="none" stroke="#585858" stroke-width="1"/>
<text x="207.5" y="730.1" font-size="6.5" text-anchor="middle" font-weight="bold" stroke="#000" stroke-width=".25">0</text>
<text x="231.2" y="730.1" font-size="6.5" text-anchor="middle" font-weight="bold" stroke="#000" stroke-width=".25">200</text>
<text x="254.9" y="730.1" font-size="6.5" text-anchor="middle" font-weight="bold" stroke="#000" stroke-width=".25">400</text>
<text x="278.6" y="730.1" font-size="6.5" text-anchor="middle" font-weight="bold" stroke="#000" stroke-width=".25">600</text>
<text x="302.4" y="730.1" font-size="6.5" text-anchor="middle" font-weight="bold" stroke="#000" stroke-width=".25">800</text>
<text x="326.1" y="730.1" font-size="6.5" text-anchor="middle" font-weight="bold" stroke="#000" stroke-width=".25">1000</text>
<path d="M207.5 718.1v2.4M213.4 718.1v1.3M219.4 718.1v1.3M225.3 718.1v1.3M231.2 718.1v2.4M237.1 718.1v1.3M243.1 718.1v1.3M249 718.1v1.3M254.9 718.1v2.4M260.9 718.1v1.3M266.8 718.1v1.3M272.7 718.1v1.3M278.6 718.1v2.4M284.6 718.1v1.3M290.5 718.1v1.3M296.4 718.1v1.3M302.4 718.1v2.4M308.3 718.1v1.3M314.2 718.1v1.3M320.1 718.1v1.3M326.1 718.1v2.4" stroke="#585858" stroke-width="0.7" fill="none"/>
<text x="202.5" y="720.3" font-size="6.5" text-anchor="end" font-weight="bold" stroke="#000" stroke-width=".25">0</text>
<text x="202.5" y="696.6" font-size="6.5" text-anchor="end" font-weight="bold" stroke="#000" stroke-width=".25">200</text>
<text x="202.5" y="672.9" font-size="6.5" text-anchor="end" font-weight="bold" stroke="#000" stroke-width=".25">400</text>
<text x="202.5" y="649.2" font-size="6.5" text-anchor="end" font-weight="bold" stroke="#000" stroke-width=".25">600</text>
<text x="202.5" y="625.5" font-size="6.5" text-anchor="end" font-weight="bold" stroke="#000" stroke-width=".25">800</text>
<text x="202.5" y="601.8" font-size="6.5" text-anchor="end" font-weight="bold" stroke="#000" stroke-width=".25">1000</text>
<path d="M207.5 718.1h-2.4M207.5 712.2h-1.3M207.5 706.3h-1.3M207.5 700.3h-1.3M207.5 694.4h-2.4M207.5 688.5h-1.3M207.5 682.6h-1.3M207.5 676.6h-1.3M207.5 670.7h-2.4M207.5 664.8h-1.3M207.5 658.9h-1.3M207.5 652.9h-1.3M207.5 647h-2.4M207.5 641.1h-1.3M207.5 635.2h-1.3M207.5 629.2h-1.3M207.5 623.3h-2.4M207.5 617.4h-1.3M207.5 611.5h-1.3M207.5 605.5h-1.3M207.5 599.6h-2.4" stroke="#585858" stroke-width="0.7" fill="none"/>
<text x="185.7" y="657" font-size="6.5" text-anchor="middle" font-weight="bold" stroke="#000" stroke-width=".25" transform="rotate(-90 185.7 657)">SSC-H: SSC-Height</text>
<text x="31.4" y="646.5" font-size="12.3" text-anchor="middle" transform="rotate(-90 31.4 646.5)">SSC</text>
<path d="M27.4 714V684.5" stroke="#000" stroke-width="2" fill="none"/>
<path d="M27.4 673.3L22.2 684.5L32.6 684.5Z" stroke="#000" stroke-width="1.4" fill="#fff" stroke-linejoin="miter"/>
<path d="M47 752.9H118.2" stroke="#000" stroke-width="2" fill="none"/>
<path d="M129.2 752.9L118.2 747.3L118.2 758.5Z" stroke="#000" stroke-width="1.4" fill="#fff" stroke-linejoin="miter"/>
<text x="138.6" y="755.8" font-size="12.3">FSC</text>
<rect x="404" y="410.4" width="18.4" height="6.7" fill="#858585"/>
<rect x="404" y="425" width="18.4" height="4.9" fill="#000"/>
<text x="426.5" y="417.1" font-size="12.1">2nd Ab only</text>
<text x="426.5" y="432.1" font-size="12.1">PTEN</text>
<path d="M381.5 558.3L383.3 559.7L385.6 559.3L389.1 556.5L393.7 551.4L397.1 544.5L399.4 535.3L401 528.9L401.7 523.9L403.1 518.1L404 510.1L405.2 504.3L406.3 494L407.5 487.1L408.6 475.6L409.5 471L410.2 461.8L411.1 456L411.6 450.3L412.1 452.6L412.5 445.7L413.2 450.7L413.7 448L414.4 452.1L415.1 453.7L415.7 459.5L416.7 471L418.3 494L420.1 517L421.7 535.3L423.6 551.4L425.4 559.5L427 562.5L429.3 563.4V563.3H381.5Z" fill="#858585" stroke="none"/>
<rect x="381.5" y="438.5" width="125.7" height="124.8" fill="none" stroke="#585858" stroke-width="1"/>
<text x="375.5" y="565.5" font-size="6.5" text-anchor="end" font-weight="bold" stroke="#000" stroke-width=".25">0</text>
<text x="375.5" y="541.6" font-size="6.5" text-anchor="end" font-weight="bold" stroke="#000" stroke-width=".25">20</text>
<text x="375.5" y="517.7" font-size="6.5" text-anchor="end" font-weight="bold" stroke="#000" stroke-width=".25">40</text>
<text x="375.5" y="493.9" font-size="6.5" text-anchor="end" font-weight="bold" stroke="#000" stroke-width=".25">60</text>
<text x="375.5" y="470" font-size="6.5" text-anchor="end" font-weight="bold" stroke="#000" stroke-width=".25">80</text>
<text x="375.5" y="446.1" font-size="6.5" text-anchor="end" font-weight="bold" stroke="#000" stroke-width=".25">100</text>
<path d="M381.5 563.3h-3.2M381.5 558.5h-1.6M381.5 553.7h-1.6M381.5 549h-1.6M381.5 544.2h-1.6M381.5 539.4h-3.2M381.5 534.6h-1.6M381.5 529.9h-1.6M381.5 525.1h-1.6M381.5 520.3h-1.6M381.5 515.5h-3.2M381.5 510.8h-1.6M381.5 506h-1.6M381.5 501.2h-1.6M381.5 496.4h-1.6M381.5 491.7h-3.2M381.5 486.9h-1.6M381.5 482.1h-1.6M381.5 477.3h-1.6M381.5 472.6h-1.6M381.5 467.8h-3.2M381.5 463h-1.6M381.5 458.2h-1.6M381.5 453.5h-1.6M381.5 448.7h-1.6M381.5 443.9h-3.2M381.5 439.1h-1.6" stroke="#585858" stroke-width="0.7" fill="none"/>
<text x="376.9" y="577.1" font-size="6.7" font-weight="bold" stroke="#000" stroke-width=".25">10<tspan dy="-3.1" font-size="5">0</tspan></text>
<text x="408.3" y="577.1" font-size="6.7" font-weight="bold" stroke="#000" stroke-width=".25">10<tspan dy="-3.1" font-size="5">1</tspan></text>
<text x="439.8" y="577.1" font-size="6.7" font-weight="bold" stroke="#000" stroke-width=".25">10<tspan dy="-3.1" font-size="5">2</tspan></text>
<text x="471.2" y="577.1" font-size="6.7" font-weight="bold" stroke="#000" stroke-width=".25">10<tspan dy="-3.1" font-size="5">3</tspan></text>
<text x="502.6" y="577.1" font-size="6.7" font-weight="bold" stroke="#000" stroke-width=".25">10<tspan dy="-3.1" font-size="5">4</tspan></text>
<path d="M381.5 563.3v2.4M391 563.3v1.3M396.5 563.3v1.3M400.4 563.3v1.3M403.5 563.3v1.3M406 563.3v1.3M408.1 563.3v1.3M409.9 563.3v1.3M411.5 563.3v1.3M412.9 563.3v2.4M422.4 563.3v1.3M427.9 563.3v1.3M431.8 563.3v1.3M434.9 563.3v1.3M437.4 563.3v1.3M439.5 563.3v1.3M441.3 563.3v1.3M442.9 563.3v1.3M444.4 563.3v2.4M453.8 563.3v1.3M459.3 563.3v1.3M463.3 563.3v1.3M466.3 563.3v1.3M468.8 563.3v1.3M470.9 563.3v1.3M472.7 563.3v1.3M474.3 563.3v1.3M475.8 563.3v2.4M485.2 563.3v1.3M490.8 563.3v1.3M494.7 563.3v1.3M497.7 563.3v1.3M500.2 563.3v1.3M502.3 563.3v1.3M504.2 563.3v1.3M505.8 563.3v1.3M507.2 563.3v2.4" stroke="#585858" stroke-width="0.7" fill="none"/>
<path d="M381.5 562.9L386.8 562.7L392.5 561.3L397.1 559.5L398.7 556.5L400.6 554.9L402.4 552.6L404 549.1L404.9 543.4L405.6 539.9L406.6 533L407 530.7L407.9 521.6L408.6 517L409.5 510.1L410.2 503.2L411.6 489.4L412.5 481.3L413.2 473.3L414.1 466.4L414.8 459.5L415.5 452.6L416.2 450.3L416.7 446.8L417.1 446.1L417.6 449.1L418 451.4L418.5 446.8L419 445.2L419.4 450.3L419.9 454.9L420.3 453.7L420.8 459.5L421.3 457.2L421.7 458.3L422.2 464.1L422.6 466.4L423.3 472.1L424 480.2L424.7 489.4L425.4 496.3L426.1 503.2L426.8 507.8L427.5 513.5L428.2 521.6L429.8 537.6L431.6 551.4L433.2 558.3L435.5 562L438.5 563.2L450 563.4L507 563.4" fill="none" stroke="#000" stroke-width="1.2" stroke-linejoin="round"/>
<text x="459.4" y="459.2" font-size="12.3">D135</text>
<path d="M379.1 714.6L381.5 712.9L385 712.2L388.5 710.4L390.5 707.7L391.9 704.9L393.7 705.6L395.4 701.4L397.1 694.5L398.8 686.9L400.6 677.2L402.3 665.1L404 649.5L405.8 635.7L407.5 621.8L409.2 613.2L410.3 607.3L411 604.5L411.7 608.7L412.3 599.3L412.7 595.9L413.4 606.3L414.4 608L415.5 613.2L416.8 625.3L417.9 639.1L419.3 654.7L420.3 666.8L421.7 680.7L423.1 691.1L424.8 699.7L426.5 706.6L427.9 711.1L429.3 713.9L431 716V716.4H379.1Z" fill="#858585" stroke="none"/>
<rect x="378.7" y="588.3" width="129.5" height="128.1" fill="none" stroke="#585858" stroke-width="1"/>
<text x="372.7" y="718.6" font-size="6.5" text-anchor="end" font-weight="bold" stroke="#000" stroke-width=".25">0</text>
<text x="372.7" y="694.1" font-size="6.5" text-anchor="end" font-weight="bold" stroke="#000" stroke-width=".25">20</text>
<text x="372.7" y="669.6" font-size="6.5" text-anchor="end" font-weight="bold" stroke="#000" stroke-width=".25">40</text>
<text x="372.7" y="645" font-size="6.5" text-anchor="end" font-weight="bold" stroke="#000" stroke-width=".25">60</text>
<text x="372.7" y="620.5" font-size="6.5" text-anchor="end" font-weight="bold" stroke="#000" stroke-width=".25">80</text>
<text x="372.7" y="596" font-size="6.5" text-anchor="end" font-weight="bold" stroke="#000" stroke-width=".25">100</text>
<path d="M378.7 716.4h-3.2M378.7 711.5h-1.6M378.7 706.6h-1.6M378.7 701.7h-1.6M378.7 696.8h-1.6M378.7 691.9h-3.2M378.7 687h-1.6M378.7 682.1h-1.6M378.7 677.2h-1.6M378.7 672.3h-1.6M378.7 667.4h-3.2M378.7 662.5h-1.6M378.7 657.6h-1.6M378.7 652.6h-1.6M378.7 647.7h-1.6M378.7 642.8h-3.2M378.7 637.9h-1.6M378.7 633h-1.6M378.7 628.1h-1.6M378.7 623.2h-1.6M378.7 618.3h-3.2M378.7 613.4h-1.6M378.7 608.5h-1.6M378.7 603.6h-1.6M378.7 598.7h-1.6M378.7 593.8h-3.2M378.7 588.9h-1.6" stroke="#585858" stroke-width="0.7" fill="none"/>
<text x="374.1" y="729.5" font-size="6.7" font-weight="bold" stroke="#000" stroke-width=".25">10<tspan dy="-3.1" font-size="5">0</tspan></text>
<text x="406.5" y="729.5" font-size="6.7" font-weight="bold" stroke="#000" stroke-width=".25">10<tspan dy="-3.1" font-size="5">1</tspan></text>
<text x="438.8" y="729.5" font-size="6.7" font-weight="bold" stroke="#000" stroke-width=".25">10<tspan dy="-3.1" font-size="5">2</tspan></text>
<text x="471.2" y="729.5" font-size="6.7" font-weight="bold" stroke="#000" stroke-width=".25">10<tspan dy="-3.1" font-size="5">3</tspan></text>
<text x="503.6" y="729.5" font-size="6.7" font-weight="bold" stroke="#000" stroke-width=".25">10<tspan dy="-3.1" font-size="5">4</tspan></text>
<path d="M378.7 716.4v2.4M388.4 716.4v1.3M394.1 716.4v1.3M398.2 716.4v1.3M401.3 716.4v1.3M403.9 716.4v1.3M406.1 716.4v1.3M407.9 716.4v1.3M409.6 716.4v1.3M411.1 716.4v2.4M420.8 716.4v1.3M426.5 716.4v1.3M430.6 716.4v1.3M433.7 716.4v1.3M436.3 716.4v1.3M438.4 716.4v1.3M440.3 716.4v1.3M442 716.4v1.3M443.4 716.4v2.4M453.2 716.4v1.3M458.9 716.4v1.3M462.9 716.4v1.3M466.1 716.4v1.3M468.6 716.4v1.3M470.8 716.4v1.3M472.7 716.4v1.3M474.3 716.4v1.3M475.8 716.4v2.4M485.6 716.4v1.3M491.3 716.4v1.3M495.3 716.4v1.3M498.5 716.4v1.3M501 716.4v1.3M503.2 716.4v1.3M505.1 716.4v1.3M506.7 716.4v1.3M508.2 716.4v2.4" stroke="#585858" stroke-width="0.7" fill="none"/>
<path d="M379.1 716L395.4 715.6L409.2 714.9L419.6 714.3L426.5 713.2L430.7 711.8L433.5 710.1L435.5 707L436.9 702.1L438.7 692.8L440.4 680.7L442.1 666.8L443.8 649.5L445.2 639.1L446.6 632.2L447.6 630.5L448.3 625.3L449.4 613.2L450.1 604.5L450.8 598.3L451.5 595.9L452.1 600.4L452.8 605.2L453.5 606.3L454.6 611.5L456 614.9L457 624.6L457.7 632.2L459.1 646.1L460.5 659.9L461.8 673.8L462.9 684.1L464.3 693.8L465.3 701.4L466.7 707L468.1 711.1L469.8 713.9L471.5 715.3L475 716L478.5 716.3L507.9 716.3" fill="none" stroke="#000" stroke-width="1.2" stroke-linejoin="round"/>
<text x="465.3" y="607.8" font-size="12.3">M82</text>
<path d="M465 588.3H496.5" stroke="#222" stroke-width="1.6"/>
<text x="442.2" y="737.4" font-size="7.1" text-anchor="middle" font-weight="bold" stroke="#000" stroke-width=".25">FL4-H: PTEN-GaRAF647</text>
<text x="359.5" y="646.5" font-size="13.8" text-anchor="middle" transform="rotate(-90 359.5 646.5)">events</text>
<path d="M354.8 721.3V692.2" stroke="#000" stroke-width="2" fill="none"/>
<path d="M354.8 681.2L349.5 692.2L360.1 692.2Z" stroke="#000" stroke-width="1.4" fill="#fff" stroke-linejoin="miter"/>
<text x="355.6" y="743.3" font-size="7.8">hCD45+</text>
<path d="M378.1 753.4H437" stroke="#000" stroke-width="2" fill="none"/>
<path d="M447.5 753.4L437 748.9L437 757.9Z" stroke="#000" stroke-width="1.4" fill="#fff" stroke-linejoin="miter"/>
<text x="454" y="757.1" font-size="12.3">PTEN</text>
</svg>
</body></html>
